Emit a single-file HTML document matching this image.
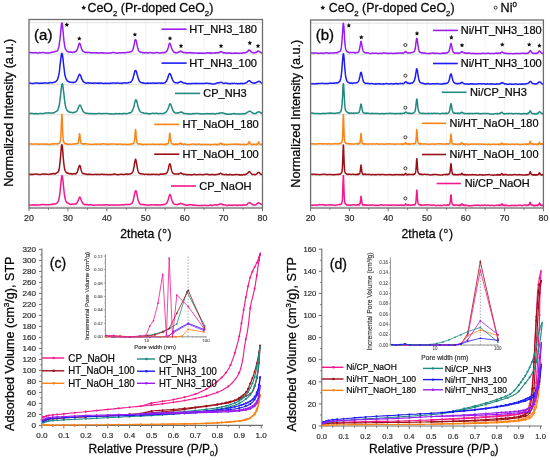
<!DOCTYPE html>
<html><head><meta charset="utf-8"><style>
html,body{margin:0;padding:0;background:#fff;overflow:hidden;}
svg{display:block;font-family:"Liberation Sans", sans-serif;filter:blur(0.3px);}
</style></head><body>
<svg width="550" height="460" viewBox="0 0 550 460">
<rect width="550" height="460" fill="#fff"/>
<line x1="48.46" y1="19.5" x2="48.46" y2="208" stroke="#f0f0f0" stroke-width="0.8"/>
<line x1="67.92" y1="19.5" x2="67.92" y2="208" stroke="#f0f0f0" stroke-width="0.8"/>
<line x1="87.38" y1="19.5" x2="87.38" y2="208" stroke="#f0f0f0" stroke-width="0.8"/>
<line x1="106.83" y1="19.5" x2="106.83" y2="208" stroke="#f0f0f0" stroke-width="0.8"/>
<line x1="126.29" y1="19.5" x2="126.29" y2="208" stroke="#f0f0f0" stroke-width="0.8"/>
<line x1="145.75" y1="19.5" x2="145.75" y2="208" stroke="#f0f0f0" stroke-width="0.8"/>
<line x1="165.21" y1="19.5" x2="165.21" y2="208" stroke="#f0f0f0" stroke-width="0.8"/>
<line x1="184.67" y1="19.5" x2="184.67" y2="208" stroke="#f0f0f0" stroke-width="0.8"/>
<line x1="204.12" y1="19.5" x2="204.12" y2="208" stroke="#f0f0f0" stroke-width="0.8"/>
<line x1="223.58" y1="19.5" x2="223.58" y2="208" stroke="#f0f0f0" stroke-width="0.8"/>
<line x1="243.04" y1="19.5" x2="243.04" y2="208" stroke="#f0f0f0" stroke-width="0.8"/>
<line x1="29" y1="54.00" x2="262.5" y2="54.00" stroke="#dcdcdc" stroke-width="0.9"/>
<line x1="29" y1="84.50" x2="262.5" y2="84.50" stroke="#dcdcdc" stroke-width="0.9"/>
<line x1="29" y1="114.80" x2="262.5" y2="114.80" stroke="#dcdcdc" stroke-width="0.9"/>
<line x1="29" y1="145.30" x2="262.5" y2="145.30" stroke="#dcdcdc" stroke-width="0.9"/>
<line x1="29" y1="175.60" x2="262.5" y2="175.60" stroke="#dcdcdc" stroke-width="0.9"/>
<line x1="29" y1="206.10" x2="262.5" y2="206.10" stroke="#dcdcdc" stroke-width="0.9"/>
<line x1="29" y1="22.7" x2="262.5" y2="22.7" stroke="#dcdcdc" stroke-width="0.9"/>
<polyline points="29.0,52.8 29.8,52.7 30.6,52.5 31.3,52.6 32.1,52.7 32.9,52.7 33.7,52.8 34.4,52.8 35.2,52.7 36.0,52.6 36.8,52.8 37.6,52.9 38.3,53.0 39.1,52.7 39.9,52.6 40.7,52.9 41.5,52.6 42.2,52.4 43.0,52.4 43.8,52.4 44.6,52.7 45.3,52.9 46.1,52.7 46.9,52.9 47.7,52.9 48.5,52.9 49.2,52.9 50.0,52.7 50.8,52.6 51.2,52.3 51.7,52.3 52.1,52.2 52.5,52.2 53.0,52.1 53.4,52.1 53.9,52.1 54.3,51.8 54.7,51.5 55.2,51.4 55.6,51.3 56.0,51.3 56.5,51.3 56.9,51.1 57.4,50.8 57.8,50.0 58.2,49.1 58.7,47.6 59.1,45.7 59.5,42.7 60.0,38.9 60.4,34.8 60.9,30.0 61.3,25.4 61.7,22.9 62.2,23.2 62.6,26.7 63.1,31.6 63.5,36.3 63.9,40.4 64.4,44.0 64.8,46.7 65.2,48.4 65.7,49.3 66.1,49.9 66.6,50.7 67.0,51.2 67.4,51.5 67.9,51.8 68.3,51.7 68.7,51.9 69.2,51.9 69.6,52.0 70.1,52.2 70.5,52.0 70.9,52.2 71.4,52.1 71.8,52.3 72.2,52.3 72.7,52.4 73.1,52.4 73.6,52.0 74.0,51.9 74.4,52.0 74.9,51.7 75.3,51.8 75.7,51.6 76.2,51.1 76.6,50.5 77.1,50.0 77.5,48.7 77.9,47.5 78.4,46.1 78.8,44.4 79.3,43.4 79.7,43.2 80.1,44.0 80.6,45.5 81.0,46.9 81.4,48.4 81.9,49.5 82.3,50.5 82.8,51.1 83.2,51.4 83.6,51.7 84.1,51.9 84.5,51.9 84.9,52.3 85.4,52.5 85.8,52.3 86.3,52.2 86.7,52.5 87.1,52.7 87.6,52.5 88.0,52.4 88.4,52.6 88.9,52.4 89.3,52.3 89.8,52.4 90.2,52.6 90.6,52.8 91.1,53.0 91.5,52.7 92.3,52.8 93.1,52.7 93.8,52.9 94.6,52.7 95.4,52.7 96.2,52.8 97.0,53.0 97.7,52.8 98.5,53.0 99.3,53.1 100.1,53.0 100.8,52.7 101.6,52.7 102.4,52.9 103.2,52.7 104.0,52.9 104.7,53.1 105.5,53.1 106.3,53.0 107.1,53.2 107.9,53.2 108.6,53.1 109.4,53.0 110.2,53.1 111.0,53.1 111.7,52.8 112.5,52.6 113.3,52.6 114.1,52.6 114.9,52.7 115.6,52.9 116.4,53.1 117.2,53.2 118.0,52.9 118.8,52.8 119.5,52.6 120.3,52.9 121.1,52.8 121.9,52.8 122.6,52.7 123.4,52.8 124.2,52.5 124.6,52.8 125.1,52.8 125.5,52.6 126.0,52.4 126.4,52.4 126.8,52.4 127.3,52.3 127.7,52.2 128.1,52.4 128.6,52.3 129.0,52.2 129.5,52.0 129.9,52.1 130.3,51.9 130.8,51.7 131.2,51.6 131.6,51.3 132.1,51.0 132.5,50.3 133.0,49.3 133.4,48.1 133.8,46.2 134.3,43.8 134.7,41.6 135.1,40.0 135.6,39.5 136.0,40.2 136.5,42.1 136.9,44.3 137.3,46.2 137.8,48.3 138.2,49.5 138.6,50.7 139.1,51.2 139.5,51.6 140.0,52.0 140.4,52.1 140.8,52.2 141.3,52.3 141.7,52.2 142.2,52.5 142.6,52.8 143.0,52.8 143.5,52.7 143.9,52.8 144.3,52.9 144.8,52.7 145.2,52.6 145.7,52.7 146.1,52.6 146.5,52.7 147.0,52.7 147.4,52.9 148.2,52.9 149.0,52.7 149.7,52.6 150.5,52.5 151.3,52.7 152.1,52.7 152.9,52.9 153.6,53.0 154.4,53.0 155.2,52.8 156.0,52.6 156.7,52.6 157.5,52.5 158.3,52.7 158.7,52.9 159.2,52.9 159.6,53.0 160.1,53.0 160.5,53.0 160.9,52.8 161.4,52.8 161.8,52.8 162.2,52.6 162.7,52.4 163.1,52.5 163.6,52.7 164.0,52.8 164.4,52.4 164.9,52.6 165.3,52.2 165.7,52.0 166.2,51.8 166.6,51.2 167.1,50.8 167.5,49.9 167.9,48.6 168.4,47.2 168.8,45.3 169.2,44.0 169.7,43.3 170.1,43.7 170.6,44.6 171.0,46.1 171.4,47.6 171.9,48.9 172.3,49.9 172.7,50.6 173.2,51.2 173.6,51.8 174.1,52.1 174.5,52.4 174.9,52.7 175.4,52.7 175.8,52.5 176.3,52.7 176.7,52.8 177.1,52.7 177.6,52.5 178.0,52.4 178.4,52.2 178.9,52.0 179.3,51.9 179.8,51.5 180.2,51.2 180.6,51.4 181.1,51.3 181.5,51.4 181.9,52.0 182.4,52.2 182.8,52.3 183.3,52.3 183.7,52.6 184.1,52.7 184.6,52.6 185.0,52.6 185.4,52.5 185.9,52.7 186.3,52.7 186.8,53.0 187.2,52.8 187.6,52.7 188.1,52.8 188.5,52.7 188.9,53.0 189.4,52.8 189.8,52.6 190.3,52.6 190.7,52.7 191.1,52.7 191.6,52.9 192.0,52.8 192.4,52.7 193.2,52.9 194.0,53.2 194.8,53.1 195.6,53.1 196.3,52.9 197.1,53.0 197.9,53.2 198.7,53.0 199.5,53.2 200.2,53.0 201.0,53.2 201.8,53.2 202.6,53.0 203.3,53.2 204.1,53.3 204.9,53.2 205.7,53.0 206.5,52.9 207.2,52.9 208.0,52.7 208.8,52.9 209.6,52.7 210.0,53.1 210.4,53.2 210.9,53.1 211.3,53.2 211.8,53.0 212.2,53.0 212.6,53.0 213.1,52.9 213.5,52.9 214.0,53.1 214.4,53.1 214.8,52.9 215.3,52.8 215.7,53.0 216.1,52.8 216.6,52.7 217.0,52.7 217.5,52.7 217.9,52.9 218.3,52.7 218.8,52.6 219.2,52.4 219.6,52.4 220.1,51.9 220.5,51.8 221.0,51.8 221.4,51.8 221.8,52.0 222.3,52.2 222.7,52.4 223.1,52.8 223.6,52.9 224.0,53.0 224.5,52.8 224.9,52.7 225.3,52.9 225.8,53.0 226.2,53.2 226.6,53.2 227.1,53.0 227.5,52.8 228.0,52.9 228.4,53.1 228.8,53.2 229.3,53.1 229.7,52.9 230.2,53.2 230.6,53.0 231.0,53.3 231.5,53.3 231.9,53.4 232.3,53.2 232.8,53.2 233.6,53.3 234.3,53.1 235.1,53.3 235.9,53.1 236.7,53.3 237.4,53.2 238.2,53.3 238.7,53.3 239.1,53.2 239.5,53.2 240.0,53.2 240.4,53.2 240.9,53.1 241.3,53.3 241.7,53.3 242.2,53.1 242.6,53.0 243.0,53.0 243.5,52.8 243.9,52.8 244.4,52.7 244.8,52.9 245.2,52.7 245.7,52.5 246.1,52.3 246.5,52.3 247.0,52.1 247.4,51.5 247.9,51.3 248.3,50.6 248.7,50.0 249.2,50.1 249.6,50.3 250.0,50.5 250.5,51.1 250.9,51.8 251.4,51.9 251.8,52.3 252.2,52.4 252.7,52.7 253.1,52.8 253.5,52.8 254.0,53.0 254.4,53.1 254.9,52.8 255.3,52.5 255.7,52.2 256.2,52.4 256.6,52.1 257.1,51.7 257.5,51.4 257.9,51.0 258.4,50.9 258.8,51.1 259.2,51.4 259.7,51.8 260.1,52.0 260.6,52.3 261.0,52.5 261.4,52.8 261.9,53.1 262.3,53.2" fill="none" stroke="#9a1df2" stroke-width="1.5" stroke-linejoin="round"/>
<polyline points="29.0,83.2 29.8,83.1 30.6,83.1 31.3,83.3 32.1,83.5 32.9,83.4 33.7,83.4 34.4,83.2 35.2,83.1 36.0,83.1 36.8,83.1 37.6,83.0 38.3,83.3 39.1,83.2 39.9,83.4 40.7,83.1 41.5,83.3 42.2,83.1 43.0,83.3 43.8,83.1 44.6,83.1 45.3,83.1 46.1,82.9 46.9,83.1 47.7,83.2 48.5,82.9 49.0,82.8 49.5,83.0 50.1,82.7 50.6,82.4 51.1,82.7 51.7,82.7 52.2,82.7 52.7,82.7 53.3,82.4 53.8,82.4 54.3,82.1 54.9,82.1 55.4,81.9 55.9,81.4 56.5,81.0 57.0,80.3 57.6,79.3 58.1,77.8 58.6,75.7 59.2,72.9 59.7,68.7 60.2,63.8 60.8,58.8 61.3,54.8 61.8,53.2 62.4,54.6 62.9,58.2 63.4,63.0 64.0,68.0 64.5,72.1 65.0,75.3 65.6,77.5 66.1,78.9 66.7,80.0 67.2,80.9 67.7,81.1 68.3,81.5 68.8,81.7 69.3,82.0 69.9,82.1 70.4,82.3 70.9,82.2 71.5,82.4 72.0,82.4 72.5,82.5 73.1,82.3 73.6,82.5 74.1,82.4 74.7,82.3 75.2,81.9 75.7,81.7 76.3,81.0 76.8,80.3 77.4,79.2 77.9,77.8 78.4,76.1 79.0,75.0 79.5,74.2 80.0,74.8 80.6,75.6 81.1,77.1 81.6,78.7 82.2,79.8 82.7,80.5 83.2,81.6 83.8,82.1 84.3,82.2 84.8,82.6 85.4,82.8 85.9,83.1 86.5,83.2 87.0,83.1 87.5,82.8 88.1,82.7 88.6,82.8 89.1,83.2 89.7,83.2 90.2,83.1 90.7,82.9 91.3,83.0 91.8,83.2 92.3,83.2 92.9,83.2 93.4,83.1 93.9,83.3 94.7,83.1 95.5,82.9 96.3,83.2 97.1,83.3 97.8,83.1 98.6,83.3 99.4,83.1 100.2,83.2 100.9,83.1 101.7,83.1 102.5,83.3 103.3,83.4 104.1,83.5 104.8,83.3 105.6,83.2 106.4,83.4 107.2,83.2 108.0,83.3 108.7,83.4 109.5,83.4 110.3,83.1 111.1,83.2 111.8,83.2 112.6,83.0 113.4,82.9 114.2,83.0 115.0,83.1 115.7,83.2 116.5,83.0 117.3,83.0 118.1,83.1 118.8,83.2 119.6,83.3 120.4,83.2 121.2,83.2 122.0,83.4 122.5,83.2 123.0,83.0 123.6,82.9 124.1,82.8 124.6,82.7 125.2,82.9 125.7,82.8 126.2,82.9 126.8,83.1 127.3,83.1 127.8,83.1 128.4,82.7 128.9,82.6 129.5,82.5 130.0,82.3 130.5,82.3 131.1,81.8 131.6,81.1 132.1,80.3 132.7,79.2 133.2,77.6 133.7,75.6 134.3,73.2 134.8,71.4 135.3,70.4 135.9,70.5 136.4,71.7 136.9,73.6 137.5,75.7 138.0,77.5 138.6,79.3 139.1,80.7 139.6,81.4 140.2,82.0 140.7,82.4 141.2,82.5 141.8,82.7 142.3,82.9 142.8,83.0 143.4,82.8 143.9,83.2 144.4,83.2 145.0,83.3 145.5,83.4 146.0,83.3 146.6,83.4 147.1,83.1 147.6,83.2 148.2,83.1 148.7,83.3 149.3,83.3 149.8,83.3 150.6,83.1 151.3,83.3 152.1,83.3 152.9,83.1 153.7,83.0 154.5,83.3 155.2,83.3 156.0,83.1 156.5,83.2 157.1,83.2 157.6,83.1 158.2,82.9 158.7,83.0 159.2,83.0 159.8,83.1 160.3,83.0 160.8,83.2 161.4,83.1 161.9,83.1 162.4,83.2 163.0,83.2 163.5,83.2 164.0,82.9 164.6,82.8 165.1,82.7 165.6,82.0 166.2,81.6 166.7,80.5 167.3,79.4 167.8,78.1 168.3,76.3 168.9,74.6 169.4,73.7 169.9,73.6 170.5,74.2 171.0,75.5 171.5,77.1 172.1,78.6 172.6,80.0 173.1,80.9 173.7,81.7 174.2,82.2 174.7,82.5 175.3,82.7 175.8,82.8 176.3,82.7 176.9,82.9 177.4,82.9 178.0,82.9 178.5,82.4 179.0,82.2 179.6,82.3 180.1,81.8 180.6,81.6 181.2,81.6 181.7,82.0 182.2,82.2 182.8,82.6 183.3,83.0 183.8,82.9 184.4,82.9 184.9,83.2 185.4,83.1 186.0,83.4 186.5,83.5 187.1,83.7 187.6,83.8 188.1,83.8 188.7,83.5 189.2,83.6 189.7,83.7 190.3,83.8 190.8,83.7 191.3,83.5 191.9,83.4 192.4,83.6 192.9,83.5 193.5,83.5 194.0,83.5 194.5,83.5 195.1,83.4 195.9,83.3 196.6,83.4 197.4,83.4 198.2,83.5 199.0,83.4 199.7,83.5 200.5,83.6 201.3,83.5 202.1,83.4 202.9,83.6 203.6,83.4 204.4,83.4 205.2,83.3 206.0,83.3 206.8,83.2 207.5,83.2 208.1,83.4 208.6,83.5 209.1,83.5 209.7,83.4 210.2,83.3 210.7,83.6 211.3,83.8 211.8,83.9 212.3,83.9 212.9,84.0 213.4,84.0 214.0,83.9 214.5,83.9 215.0,83.7 215.6,83.5 216.1,83.3 216.6,83.1 217.2,83.0 217.7,82.8 218.2,83.1 218.8,83.0 219.3,82.6 219.8,82.4 220.4,82.4 220.9,82.2 221.4,82.4 222.0,82.5 222.5,82.8 223.0,83.1 223.6,83.4 224.1,83.4 224.7,83.2 225.2,83.1 225.7,83.1 226.3,83.1 226.8,83.3 227.3,83.5 227.9,83.3 228.4,83.4 228.9,83.4 229.5,83.7 230.0,83.8 230.5,83.7 231.1,83.5 231.6,83.4 232.1,83.3 232.7,83.5 233.2,83.6 233.8,83.4 234.3,83.2 234.8,83.4 235.4,83.6 235.9,83.5 236.4,83.5 237.0,83.6 237.5,83.7 238.0,83.7 238.6,83.6 239.1,83.8 239.6,83.6 240.2,83.4 240.7,83.3 241.2,83.5 241.8,83.5 242.3,83.7 242.8,83.5 243.4,83.4 243.9,83.5 244.5,83.4 245.0,83.2 245.5,83.0 246.1,82.9 246.6,82.6 247.1,82.3 247.7,81.5 248.2,81.1 248.7,80.8 249.3,80.6 249.8,80.9 250.3,81.3 250.9,81.8 251.4,82.3 251.9,82.6 252.5,82.9 253.0,82.8 253.5,83.1 254.1,83.2 254.6,83.0 255.2,83.0 255.7,82.8 256.2,82.5 256.8,82.4 257.3,81.9 257.8,81.7 258.4,81.6 258.9,81.3 259.4,81.3 260.0,81.7 260.5,82.3 261.0,82.7 261.6,83.1 262.1,83.1" fill="none" stroke="#1c1cf5" stroke-width="1.5" stroke-linejoin="round"/>
<polyline points="29.0,113.6 29.8,113.5 30.6,113.4 31.3,113.3 32.1,113.5 32.9,113.6 33.7,113.8 34.4,113.8 35.2,113.5 36.0,113.7 36.8,113.6 37.6,113.7 38.3,113.7 39.1,113.6 39.9,113.4 40.7,113.4 41.5,113.6 42.2,113.6 43.0,113.7 43.8,113.4 44.6,113.2 45.3,113.1 46.1,113.0 46.9,113.0 47.7,112.9 48.5,112.8 49.0,113.1 49.5,112.9 50.1,113.0 50.6,112.9 51.1,112.9 51.7,112.9 52.2,112.9 52.7,112.9 53.3,112.8 53.8,112.9 54.3,112.5 54.9,112.2 55.4,111.8 55.9,111.6 56.5,111.3 57.0,110.8 57.6,110.4 58.1,109.2 58.6,107.6 59.2,105.3 59.7,102.2 60.2,97.9 60.8,93.2 61.3,88.3 61.8,84.7 62.4,83.7 62.9,85.9 63.4,90.0 64.0,95.0 64.5,99.6 65.0,103.5 65.6,106.3 66.1,108.5 66.7,109.7 67.2,110.4 67.7,111.1 68.3,111.5 68.8,111.6 69.3,112.1 69.9,112.4 70.4,112.3 70.9,112.3 71.5,112.4 72.0,112.6 72.5,112.7 73.1,112.5 73.6,112.4 74.1,112.3 74.7,112.4 75.2,112.1 75.7,112.0 76.3,111.5 76.8,111.1 77.4,110.0 77.9,108.9 78.4,107.5 79.0,106.4 79.5,105.3 80.0,105.0 80.6,105.5 81.1,106.7 81.6,108.0 82.2,109.4 82.7,110.6 83.2,111.6 83.8,112.0 84.3,112.6 84.8,112.9 85.4,113.2 85.9,113.1 86.5,113.2 87.0,113.2 87.5,113.4 88.1,113.4 88.6,113.5 89.1,113.6 89.7,113.8 90.2,113.4 90.7,113.6 91.3,113.6 91.8,113.7 92.3,113.6 92.9,113.7 93.4,113.7 93.9,113.7 94.5,113.5 95.3,113.7 96.0,113.7 96.8,113.7 97.6,113.4 98.4,113.5 99.1,113.5 99.9,113.5 100.7,113.6 101.5,113.8 102.3,113.7 103.0,113.5 103.8,113.4 104.6,113.6 105.4,113.5 106.2,113.4 106.9,113.6 107.7,113.6 108.5,113.7 109.3,113.8 110.0,113.8 110.8,113.9 111.6,113.8 112.4,114.0 113.2,113.9 113.9,114.0 114.7,113.7 115.5,113.6 116.3,113.8 117.0,113.6 117.8,113.8 118.6,113.7 119.4,113.6 120.2,113.7 120.9,113.7 121.7,113.7 122.5,113.8 123.0,113.5 123.6,113.7 124.1,113.4 124.6,113.6 125.2,113.6 125.7,113.5 126.2,113.7 126.8,113.7 127.3,113.6 127.8,113.4 128.4,113.1 128.9,112.8 129.5,113.0 130.0,112.8 130.5,112.8 131.1,112.3 131.6,111.9 132.1,111.0 132.7,110.0 133.2,108.8 133.7,107.2 134.3,105.0 134.8,102.4 135.3,100.6 135.9,99.7 136.4,100.2 136.9,102.0 137.5,104.1 138.0,106.5 138.6,108.3 139.1,109.7 139.6,110.7 140.2,111.5 140.7,111.9 141.2,112.4 141.8,112.6 142.3,112.8 142.8,112.8 143.4,112.8 143.9,113.2 144.4,113.4 145.0,113.4 145.5,113.3 146.0,113.3 146.6,113.5 147.1,113.3 147.6,113.5 148.2,113.7 148.7,113.8 149.3,114.0 149.8,113.7 150.3,113.8 151.1,113.6 151.9,113.4 152.7,113.3 153.4,113.2 154.2,113.4 155.0,113.4 155.8,113.3 156.5,113.3 157.1,113.5 157.6,113.4 158.2,113.7 158.7,113.7 159.2,113.4 159.8,113.4 160.3,113.6 160.8,113.4 161.4,113.4 161.9,113.6 162.4,113.7 163.0,113.6 163.5,113.5 164.0,113.1 164.6,113.1 165.1,112.7 165.6,112.3 166.2,112.0 166.7,111.2 167.3,110.3 167.8,109.3 168.3,108.0 168.9,106.4 169.4,104.7 169.9,103.8 170.5,104.0 171.0,105.0 171.5,106.5 172.1,108.2 172.6,109.6 173.1,110.9 173.7,111.5 174.2,112.3 174.7,112.8 175.3,112.9 175.8,113.1 176.3,113.0 176.9,113.0 177.4,113.0 178.0,112.8 178.5,112.9 179.0,112.6 179.6,112.4 180.1,112.3 180.6,111.9 181.2,112.2 181.7,112.1 182.2,112.6 182.8,112.6 183.3,113.1 183.8,113.5 184.4,113.5 184.9,113.4 185.4,113.6 186.0,113.6 186.5,113.6 187.1,113.8 187.6,113.7 188.1,114.0 188.7,113.9 189.2,113.7 189.7,113.8 190.3,113.9 190.8,114.1 191.3,113.9 191.9,113.9 192.4,113.6 192.9,113.6 193.5,113.9 194.0,113.6 194.5,113.5 195.1,113.5 195.6,113.4 196.4,113.5 197.2,113.5 197.9,113.6 198.7,113.6 199.5,113.8 200.3,114.0 201.1,113.8 201.8,113.8 202.6,114.0 203.4,113.9 204.2,113.8 205.0,113.8 205.7,113.7 206.5,113.6 207.3,113.7 207.8,113.6 208.4,113.7 208.9,113.7 209.4,113.8 210.0,113.6 210.5,113.7 211.0,113.6 211.6,113.8 212.1,113.7 212.6,113.6 213.2,113.6 213.7,113.7 214.2,114.0 214.8,113.9 215.3,113.9 215.8,113.7 216.4,113.6 216.9,113.4 217.5,113.5 218.0,113.5 218.5,113.4 219.1,113.1 219.6,113.2 220.1,113.0 220.7,113.0 221.2,112.9 221.7,112.9 222.3,112.7 222.8,113.1 223.3,113.1 223.9,113.4 224.4,113.7 224.9,113.5 225.5,113.8 226.0,114.0 226.6,114.1 227.1,114.2 227.6,114.1 228.2,114.2 228.7,114.2 229.2,114.3 229.8,114.0 230.3,114.2 230.8,114.2 231.4,114.0 231.9,113.8 232.4,113.7 233.0,113.7 233.5,113.7 234.0,113.6 234.6,113.5 235.1,113.8 235.6,114.1 236.2,113.9 236.7,113.9 237.3,113.9 237.8,113.7 238.3,113.9 238.9,113.8 239.4,113.9 239.9,113.9 240.5,114.0 241.0,114.0 241.5,113.9 242.1,113.8 242.6,113.6 243.1,113.8 243.7,113.6 244.2,113.8 244.7,113.6 245.3,113.7 245.8,113.3 246.3,112.9 246.9,112.8 247.4,112.3 248.0,112.1 248.5,111.7 249.0,111.4 249.6,111.1 250.1,111.3 250.6,111.4 251.2,111.8 251.7,112.3 252.2,112.6 252.8,113.1 253.3,113.3 253.8,113.5 254.4,113.7 254.9,113.4 255.4,113.5 256.0,113.4 256.5,112.9 257.1,112.4 257.6,112.2 258.1,111.9 258.7,111.8 259.2,112.0 259.7,112.0 260.3,112.4 260.8,112.9 261.3,112.9 261.9,113.4 262.4,113.6" fill="none" stroke="#1f8a80" stroke-width="1.5" stroke-linejoin="round"/>
<polyline points="29.0,144.3 29.8,144.1 30.6,144.0 31.3,143.8 32.1,144.1 32.9,144.2 33.7,144.0 34.4,144.0 35.2,144.1 36.0,144.0 36.8,144.1 37.6,144.0 38.3,144.2 39.1,144.3 39.9,144.0 40.7,144.1 41.5,144.2 42.2,144.0 43.0,144.0 43.8,144.2 44.6,144.1 45.3,144.0 46.1,144.2 46.9,144.1 47.7,144.3 48.5,144.3 49.2,144.4 50.0,144.4 50.8,144.0 51.6,144.1 52.3,143.8 53.1,143.9 53.9,143.9 54.7,143.7 55.5,143.7 56.2,143.9 57.0,143.8 57.2,143.7 57.4,143.9 57.5,144.0 57.7,143.7 57.9,143.6 58.1,143.7 58.2,143.7 58.4,143.7 58.6,143.4 58.8,143.3 58.9,143.4 59.1,143.1 59.3,143.2 59.5,143.1 59.6,143.0 59.8,142.5 60.0,142.3 60.2,141.7 60.3,141.1 60.5,139.9 60.7,138.1 60.9,135.6 61.0,132.3 61.2,128.2 61.4,123.4 61.6,118.6 61.7,115.3 61.9,114.3 62.1,116.6 62.3,120.6 62.4,125.3 62.6,130.2 62.8,134.1 63.0,136.8 63.1,138.8 63.3,140.5 63.5,141.2 63.7,141.6 63.8,142.2 64.0,142.6 64.2,142.7 64.4,142.7 64.6,143.1 64.7,143.3 64.9,143.5 65.1,143.4 65.3,143.5 65.4,143.7 65.6,143.7 65.8,143.9 66.0,143.9 66.1,143.6 66.3,143.7 66.5,143.8 66.7,143.6 66.8,143.8 67.0,143.9 67.2,144.1 67.4,144.2 68.1,144.3 68.9,144.3 69.7,144.0 70.5,144.2 71.2,144.2 72.0,144.1 72.8,143.9 73.6,144.0 74.4,143.9 74.5,144.0 74.7,144.0 74.9,143.9 75.1,143.7 75.2,143.7 75.4,143.8 75.6,143.7 75.8,143.9 75.9,143.9 76.1,143.7 76.3,143.7 76.5,143.6 76.6,143.8 76.8,143.6 77.0,143.6 77.2,143.7 77.3,143.4 77.5,143.4 77.7,143.4 77.9,143.4 78.0,143.3 78.2,143.0 78.4,142.2 78.6,141.5 78.7,140.4 78.9,138.9 79.1,137.2 79.3,135.5 79.4,134.0 79.6,133.7 79.8,134.4 80.0,135.8 80.1,137.7 80.3,139.4 80.5,140.8 80.7,141.6 80.8,142.5 81.0,142.8 81.2,143.3 81.4,143.4 81.5,143.4 81.7,143.6 81.9,143.5 82.1,143.6 82.2,143.7 82.4,144.0 82.6,144.0 82.8,144.1 82.9,144.1 83.1,143.8 83.3,143.7 83.5,144.0 83.6,144.0 83.8,143.8 84.0,143.9 84.2,144.1 84.3,143.9 84.5,144.0 84.7,143.8 84.9,143.7 85.0,143.7 85.8,143.7 86.6,144.1 87.4,144.0 88.2,144.1 88.9,144.3 89.7,144.3 90.5,144.2 91.3,144.4 92.0,144.4 92.8,144.2 93.6,144.2 94.4,144.2 95.2,144.3 95.9,144.0 96.7,144.2 97.5,144.1 98.3,144.1 99.1,144.4 99.8,144.1 100.6,144.3 101.4,144.0 102.2,143.9 102.9,143.8 103.7,143.8 104.5,144.0 105.3,144.1 106.1,144.2 106.8,144.0 107.6,144.3 108.4,144.5 109.2,144.1 109.9,144.0 110.7,144.0 111.5,143.9 112.3,144.0 113.1,143.9 113.8,144.1 114.6,143.9 115.4,144.3 116.2,144.3 117.0,144.2 117.7,144.1 118.5,144.2 119.3,144.1 120.1,143.9 120.8,144.1 121.6,144.3 122.4,144.5 123.2,144.2 124.0,144.2 124.7,144.3 125.5,144.2 126.3,144.4 127.1,144.5 127.8,144.5 128.6,144.5 129.4,144.2 130.2,144.3 130.4,144.4 130.5,144.1 130.7,144.1 130.9,144.3 131.1,144.1 131.2,144.0 131.4,143.9 131.6,143.8 131.8,143.9 131.9,144.1 132.1,143.9 132.3,143.8 132.5,143.7 132.6,143.9 132.8,143.9 133.0,143.7 133.2,143.7 133.3,143.5 133.5,143.4 133.7,143.1 133.9,143.0 134.0,142.6 134.2,141.9 134.4,141.2 134.6,140.1 134.7,138.3 134.9,136.4 135.1,133.8 135.3,131.6 135.4,129.8 135.6,129.6 135.8,131.0 136.0,133.1 136.1,135.4 136.3,137.6 136.5,139.4 136.7,140.8 136.8,141.6 137.0,142.5 137.2,142.7 137.4,143.3 137.5,143.4 137.7,143.8 137.9,143.9 138.1,143.9 138.2,143.7 138.4,143.9 138.6,143.9 138.8,144.0 138.9,143.9 139.1,144.0 139.3,144.1 139.5,143.9 139.6,144.0 139.8,144.1 140.0,143.9 140.2,143.8 140.3,144.0 140.5,144.3 140.7,144.3 140.9,144.1 141.0,144.3 141.8,144.4 142.6,144.2 143.4,144.4 144.2,144.2 144.9,144.3 145.7,144.4 146.5,144.3 147.3,144.5 148.0,144.3 148.8,144.3 149.6,144.2 150.4,144.1 151.2,144.4 151.9,144.2 152.7,144.1 153.5,144.3 154.3,144.2 155.1,144.4 155.8,144.3 156.6,144.2 157.4,144.3 158.2,144.3 158.9,144.5 159.7,144.2 160.5,144.2 161.3,144.1 162.1,144.3 162.8,144.2 163.6,144.4 164.4,144.3 165.2,144.4 165.3,144.1 165.5,144.3 165.7,144.2 165.9,144.2 166.0,144.2 166.2,144.4 166.4,144.2 166.6,143.9 166.7,144.0 166.9,143.8 167.1,143.9 167.3,144.0 167.4,143.9 167.6,143.6 167.8,143.4 168.0,143.3 168.1,143.4 168.3,143.1 168.5,142.8 168.7,142.2 168.8,141.1 169.0,139.8 169.2,138.3 169.4,136.3 169.5,134.5 169.7,133.2 169.9,133.2 170.1,134.5 170.2,136.4 170.4,137.9 170.6,139.6 170.8,141.0 170.9,141.8 171.1,142.5 171.3,142.8 171.5,143.1 171.6,143.2 171.8,143.6 172.0,143.5 172.2,143.7 172.3,143.7 172.5,143.9 172.7,144.1 172.9,144.2 173.1,144.3 173.2,144.0 173.4,144.3 173.6,144.3 173.8,144.2 173.9,144.3 174.1,144.4 174.3,144.5 174.5,144.5 174.6,144.6 174.8,144.3 175.0,144.2 175.2,144.3 175.3,144.1 175.5,144.1 175.7,144.3 175.9,144.1 176.0,144.3 176.2,144.1 176.4,144.0 176.6,144.4 176.7,144.2 176.9,144.2 177.1,144.2 177.3,144.0 177.4,144.2 177.6,144.3 177.8,144.5 178.0,144.2 178.1,144.3 178.3,144.1 178.5,144.1 178.7,143.9 178.8,143.8 179.0,143.7 179.2,143.9 179.4,143.7 179.5,143.9 179.7,144.0 179.9,143.7 180.1,143.7 180.2,143.2 180.4,143.1 180.6,142.9 180.8,143.0 180.9,143.1 181.1,143.3 181.3,143.3 181.5,143.8 181.6,144.0 181.8,144.2 182.0,144.0 182.2,144.1 182.3,144.2 182.5,144.0 182.7,144.2 182.9,144.3 183.0,144.3 183.2,144.4 183.4,144.3 183.6,144.4 183.7,144.4 183.9,144.3 184.1,144.2 184.3,144.1 184.4,144.2 184.6,144.0 184.8,143.9 185.0,143.9 185.1,144.0 185.3,144.1 185.5,144.3 185.7,144.1 185.8,144.2 186.0,144.2 186.2,144.3 187.0,144.4 187.7,144.6 188.5,144.4 189.3,144.5 190.1,144.4 190.9,144.3 191.6,144.2 192.4,144.0 193.2,144.1 194.0,144.3 194.7,144.1 195.5,144.5 196.3,144.5 197.1,144.2 197.9,144.1 198.6,144.2 199.4,144.1 200.2,144.4 201.0,144.6 201.8,144.6 202.5,144.3 203.3,144.6 204.1,144.6 204.9,144.5 205.6,144.6 206.4,144.3 207.2,144.6 208.0,144.7 208.8,144.3 209.5,144.6 210.3,144.7 211.1,144.6 211.9,144.3 212.6,144.4 213.4,144.4 214.2,144.3 215.0,144.3 215.8,144.2 215.9,144.5 216.1,144.4 216.3,144.6 216.5,144.4 216.6,144.6 216.8,144.7 217.0,144.6 217.2,144.5 217.3,144.7 217.5,144.5 217.7,144.6 217.9,144.6 218.0,144.7 218.2,144.5 218.4,144.3 218.6,144.2 218.7,144.3 218.9,144.4 219.1,144.2 219.3,144.0 219.4,143.9 219.6,144.0 219.8,143.8 220.0,143.7 220.1,143.5 220.3,143.4 220.5,143.1 220.7,143.1 220.8,143.1 221.0,143.2 221.2,143.6 221.4,143.6 221.5,143.9 221.7,144.2 221.9,144.1 222.1,144.2 222.2,144.3 222.4,144.1 222.6,144.0 222.8,144.2 222.9,144.2 223.1,144.5 223.3,144.5 223.5,144.3 223.6,144.3 223.8,144.1 224.0,144.5 224.2,144.7 224.3,144.8 224.5,144.8 224.7,144.5 224.9,144.3 225.0,144.2 225.2,144.2 225.4,144.4 225.6,144.4 225.7,144.6 225.9,144.6 226.1,144.7 226.3,144.4 227.0,144.4 227.8,144.5 228.6,144.3 229.4,144.4 230.2,144.3 230.9,144.2 231.7,144.3 232.5,144.3 233.3,144.3 234.1,144.2 234.8,144.0 235.6,144.2 236.4,144.1 237.2,144.3 237.9,144.2 238.7,144.1 239.5,144.2 240.3,144.5 241.1,144.3 241.8,144.4 242.6,144.5 243.4,144.3 244.2,144.5 244.3,144.4 244.5,144.5 244.7,144.3 244.9,144.5 245.0,144.7 245.2,144.6 245.4,144.5 245.6,144.4 245.7,144.5 245.9,144.5 246.1,144.6 246.3,144.5 246.4,144.6 246.6,144.5 246.8,144.3 247.0,144.2 247.1,144.3 247.3,144.3 247.5,144.4 247.7,144.3 247.8,144.0 248.0,144.1 248.2,143.8 248.4,143.2 248.5,143.0 248.7,142.6 248.9,142.0 249.1,141.8 249.2,141.7 249.4,141.7 249.6,142.0 249.8,142.6 249.9,143.2 250.1,143.5 250.3,143.6 250.5,144.0 250.6,144.0 250.8,144.1 251.0,144.3 251.2,144.4 251.4,144.2 251.5,144.5 251.7,144.4 251.9,144.4 252.1,144.6 252.2,144.5 252.4,144.6 252.6,144.6 252.8,144.7 252.9,144.6 253.1,144.4 253.3,144.2 253.5,144.1 253.6,144.3 253.8,144.2 254.0,144.4 254.2,144.3 254.3,144.4 254.5,144.3 254.7,144.4 254.9,144.2 255.0,144.3 255.2,144.2 255.4,144.4 255.6,144.3 255.7,144.5 255.9,144.5 256.1,144.5 256.3,144.4 256.4,144.3 256.6,144.4 256.8,144.1 257.0,144.4 257.1,144.3 257.3,144.3 257.5,144.3 257.7,144.1 257.8,143.5 258.0,143.4 258.2,142.8 258.4,142.4 258.5,142.0 258.7,141.9 258.9,142.5 259.1,142.6 259.2,143.2 259.4,143.7 259.6,144.0 259.8,144.0 259.9,144.1 260.1,144.1 260.3,144.4 260.5,144.4 260.6,144.5 260.8,144.2 261.0,144.3 261.2,144.2 261.3,144.3 261.5,144.6 261.7,144.7 261.9,144.7 262.0,144.5 262.2,144.6 262.4,144.6" fill="none" stroke="#fb8417" stroke-width="1.5" stroke-linejoin="round"/>
<polyline points="29.0,174.1 29.8,174.5 30.6,174.3 31.3,174.5 32.1,174.2 32.9,174.5 33.7,174.3 34.4,174.2 35.2,174.1 36.0,173.9 36.8,174.2 37.6,174.3 38.3,174.2 39.1,174.4 39.9,174.5 40.7,174.5 41.5,174.3 42.2,174.1 43.0,174.0 43.8,174.3 44.6,174.1 45.3,174.1 46.1,174.3 46.9,174.3 47.7,174.3 48.5,174.4 49.2,174.3 50.0,174.3 50.8,174.1 51.6,173.9 52.0,173.8 52.3,173.9 52.7,173.7 53.1,173.6 53.5,173.7 53.9,173.5 54.3,173.8 54.7,173.9 55.1,173.9 55.5,173.5 55.9,173.3 56.2,173.1 56.6,173.1 57.0,172.9 57.4,172.4 57.8,172.3 58.2,171.9 58.6,171.2 59.0,169.8 59.4,167.7 59.7,165.0 60.1,161.5 60.5,157.1 60.9,152.4 61.3,147.6 61.7,144.8 62.1,144.9 62.5,147.9 62.9,152.2 63.2,157.2 63.6,161.3 64.0,165.0 64.4,167.7 64.8,169.8 65.2,170.8 65.6,171.5 66.0,172.1 66.4,172.7 66.7,172.9 67.1,173.2 67.5,173.1 67.9,173.1 68.3,173.2 68.7,173.5 69.1,173.8 69.5,173.6 69.9,173.5 70.3,173.8 70.6,173.8 71.0,173.9 71.4,173.6 71.8,174.0 72.2,174.2 72.6,173.9 73.0,173.9 73.4,173.9 73.8,173.7 74.1,173.7 74.5,173.6 74.9,173.8 75.3,173.9 75.7,173.9 76.1,173.7 76.5,173.2 76.9,172.8 77.3,172.1 77.6,171.1 78.0,169.8 78.4,168.5 78.8,167.2 79.2,165.9 79.6,165.3 80.0,165.7 80.4,166.8 80.8,168.6 81.1,169.9 81.5,171.2 81.9,172.1 82.3,172.8 82.7,173.4 83.1,173.7 83.5,173.6 83.9,173.8 84.3,173.7 84.7,173.8 85.0,174.0 85.4,174.2 85.8,174.1 86.2,174.1 86.6,174.2 87.0,174.4 87.4,174.5 87.8,174.3 88.2,174.2 88.5,174.4 88.9,174.2 89.3,174.2 89.7,174.4 90.1,174.2 90.9,174.4 91.7,174.6 92.4,174.6 93.2,174.4 94.0,174.4 94.8,174.4 95.5,174.2 96.3,174.4 97.1,174.3 97.9,174.6 98.7,174.4 99.4,174.6 100.2,174.5 101.0,174.3 101.8,174.3 102.6,174.3 103.3,174.4 104.1,174.3 104.9,174.4 105.7,174.6 106.4,174.5 107.2,174.5 108.0,174.7 108.8,174.6 109.6,174.5 110.3,174.7 111.1,174.5 111.9,174.4 112.7,174.5 113.4,174.3 114.2,174.1 115.0,174.2 115.8,174.3 116.6,174.5 117.3,174.7 118.1,174.7 118.9,174.4 119.7,174.6 120.5,174.3 121.2,174.3 122.0,174.2 122.8,174.5 123.6,174.4 124.3,174.5 125.1,174.3 125.5,174.2 125.9,174.1 126.3,174.2 126.7,174.0 127.1,174.2 127.5,174.4 127.8,174.1 128.2,174.3 128.6,174.3 129.0,174.2 129.4,173.9 129.8,174.0 130.2,173.9 130.6,173.8 131.0,173.7 131.4,173.5 131.7,173.3 132.1,172.8 132.5,172.3 132.9,171.5 133.3,170.1 133.7,168.2 134.1,166.4 134.5,163.7 134.9,161.6 135.2,159.9 135.6,159.2 136.0,160.5 136.4,162.5 136.8,164.8 137.2,167.1 137.6,169.2 138.0,170.9 138.4,172.0 138.7,172.7 139.1,173.0 139.5,173.4 139.9,173.4 140.3,173.7 140.7,173.8 141.1,173.8 141.5,174.1 141.9,173.9 142.2,174.0 142.6,174.1 143.0,174.0 143.4,174.1 143.8,174.2 144.2,174.4 144.6,174.5 145.0,174.3 145.4,174.3 145.8,174.3 146.1,174.2 146.9,174.2 147.7,174.4 148.5,174.3 149.3,174.4 150.0,174.6 150.8,174.4 151.6,174.2 152.4,174.5 153.1,174.3 153.9,174.3 154.7,174.5 155.5,174.4 156.3,174.3 157.0,174.5 157.8,174.4 158.6,174.5 159.4,174.7 159.8,174.4 160.1,174.1 160.5,174.2 160.9,174.1 161.3,174.3 161.7,174.3 162.1,174.3 162.5,174.1 162.9,174.1 163.3,174.2 163.7,174.1 164.0,174.1 164.4,174.0 164.8,173.8 165.2,173.7 165.6,173.7 166.0,173.7 166.4,173.2 166.8,172.9 167.2,172.2 167.5,171.6 167.9,170.5 168.3,169.1 168.7,167.1 169.1,165.4 169.5,164.0 169.9,163.8 170.3,164.4 170.7,165.9 171.0,167.8 171.4,169.6 171.8,171.0 172.2,172.0 172.6,172.9 173.0,173.4 173.4,173.5 173.8,173.5 174.2,173.9 174.5,174.0 174.9,174.0 175.3,173.9 175.7,174.0 176.1,174.1 176.5,174.0 176.9,174.0 177.3,174.0 177.7,174.0 178.1,173.8 178.4,174.1 178.8,173.8 179.2,173.8 179.6,173.6 180.0,173.4 180.4,173.1 180.8,173.0 181.2,173.1 181.6,173.4 181.9,173.7 182.3,173.8 182.7,173.8 183.1,174.1 183.5,174.5 183.9,174.3 184.3,174.2 184.7,174.2 185.1,174.3 185.4,174.4 185.8,174.7 186.2,174.4 186.6,174.5 187.0,174.7 187.4,174.6 187.8,174.8 188.2,174.8 188.6,174.7 188.9,174.5 189.3,174.6 189.7,174.7 190.1,174.8 190.5,174.6 190.9,174.8 191.3,174.9 192.1,174.9 192.8,174.6 193.6,174.4 194.4,174.3 195.2,174.6 196.0,174.6 196.7,174.8 197.5,174.7 198.3,174.5 199.1,174.6 199.8,174.5 200.6,174.5 201.4,174.6 202.2,174.7 203.0,174.8 203.7,174.6 204.5,174.4 205.3,174.3 206.1,174.2 206.8,174.2 207.6,174.3 208.4,174.5 209.2,174.7 210.0,174.6 210.7,174.8 211.1,174.5 211.5,174.4 211.9,174.6 212.3,174.4 212.7,174.4 213.1,174.4 213.5,174.7 213.9,174.8 214.2,174.9 214.6,174.6 215.0,174.7 215.4,174.7 215.8,174.6 216.2,174.6 216.6,174.6 217.0,174.5 217.4,174.6 217.7,174.3 218.1,174.3 218.5,174.1 218.9,174.0 219.3,173.8 219.7,173.9 220.1,173.5 220.5,173.2 220.9,173.4 221.2,173.5 221.6,173.8 222.0,174.1 222.4,174.2 222.8,174.3 223.2,174.6 223.6,174.6 224.0,174.5 224.4,174.8 224.8,174.6 225.1,174.6 225.5,174.5 225.9,174.3 226.3,174.3 226.7,174.5 227.1,174.8 227.5,174.8 227.9,174.9 228.3,174.7 228.6,174.7 229.0,174.7 229.4,174.6 229.8,174.7 230.2,174.4 230.6,174.5 231.0,174.5 231.4,174.8 232.1,174.9 232.9,174.7 233.7,174.7 234.5,174.7 235.3,174.5 236.0,174.5 236.8,174.4 237.6,174.6 238.4,174.8 239.2,174.9 239.5,174.6 239.9,174.8 240.3,174.9 240.7,175.0 241.1,174.7 241.5,174.8 241.9,174.9 242.3,174.9 242.7,175.0 243.0,174.8 243.4,174.6 243.8,174.6 244.2,174.5 244.6,174.8 245.0,174.5 245.4,174.4 245.8,174.3 246.2,174.4 246.5,174.0 246.9,173.6 247.3,173.4 247.7,173.2 248.1,172.7 248.5,172.2 248.9,171.8 249.3,171.7 249.7,171.6 250.0,172.0 250.4,172.7 250.8,173.0 251.2,173.3 251.6,174.0 252.0,174.2 252.4,174.4 252.8,174.5 253.2,174.6 253.5,174.4 253.9,174.4 254.3,174.5 254.7,174.7 255.1,174.7 255.5,174.6 255.9,174.4 256.3,174.2 256.7,174.0 257.1,173.6 257.4,173.3 257.8,172.7 258.2,172.6 258.6,172.5 259.0,172.5 259.4,172.7 259.8,173.2 260.2,173.5 260.6,174.0 260.9,174.4 261.3,174.3 261.7,174.6 262.1,174.5 262.5,174.8" fill="none" stroke="#9c0f17" stroke-width="1.5" stroke-linejoin="round"/>
<polyline points="29.0,204.9 29.8,204.9 30.6,204.9 31.3,204.9 32.1,204.9 32.9,204.8 33.7,204.9 34.4,204.8 35.2,205.1 36.0,205.1 36.8,205.0 37.6,205.1 38.3,204.9 39.1,204.9 39.9,204.7 40.7,204.5 41.5,204.7 42.2,204.6 43.0,204.5 43.8,204.5 44.6,204.8 45.3,204.8 46.1,204.7 46.9,204.8 47.7,204.8 48.5,204.8 49.2,204.8 50.0,204.5 50.5,204.6 50.9,204.6 51.4,204.4 51.9,204.2 52.3,204.3 52.8,204.5 53.2,204.1 53.7,203.9 54.2,203.8 54.6,203.8 55.1,203.9 55.6,203.9 56.0,203.7 56.5,203.4 56.9,203.3 57.4,202.6 57.9,201.9 58.3,201.2 58.8,199.5 59.3,197.4 59.7,194.3 60.2,190.5 60.6,185.9 61.1,181.2 61.6,177.2 62.0,175.5 62.5,176.9 63.0,180.7 63.4,185.4 63.9,190.0 64.3,193.9 64.8,197.0 65.3,199.1 65.7,200.7 66.2,201.8 66.7,202.5 67.1,202.7 67.6,202.9 68.0,203.2 68.5,203.3 69.0,203.7 69.4,204.0 69.9,204.3 70.3,204.4 70.8,204.5 71.3,204.4 71.7,204.1 72.2,204.3 72.7,204.2 73.1,204.0 73.6,204.0 74.0,204.2 74.5,204.1 75.0,204.1 75.4,204.1 75.9,204.1 76.4,203.6 76.8,202.9 77.3,202.4 77.7,201.6 78.2,200.4 78.7,199.3 79.1,198.0 79.6,197.1 80.1,197.2 80.5,198.2 81.0,199.5 81.4,200.8 81.9,201.7 82.4,202.4 82.8,203.1 83.3,203.8 83.8,204.2 84.2,204.3 84.7,204.6 85.1,204.8 85.6,204.7 86.1,204.5 86.5,204.7 87.0,204.5 87.4,204.4 87.9,204.6 88.4,204.8 88.8,204.9 89.3,204.8 89.8,204.6 90.2,204.5 90.7,204.8 91.1,204.8 91.6,205.1 92.1,205.1 92.8,205.1 93.6,205.2 94.4,205.3 95.2,204.9 96.0,205.0 96.7,205.0 97.5,204.9 98.3,204.9 99.1,204.9 99.9,204.9 100.6,204.9 101.4,205.1 102.2,205.0 103.0,204.9 103.7,204.8 104.5,204.9 105.3,205.0 106.1,204.8 106.9,204.8 107.6,205.0 108.4,205.1 109.2,205.2 110.0,205.0 110.7,205.0 111.5,205.0 112.3,205.1 113.1,205.1 113.9,204.9 114.6,204.9 115.4,205.0 116.2,205.0 117.0,204.9 117.8,205.1 118.5,204.9 119.3,205.1 120.1,205.0 120.9,205.1 121.6,204.8 122.4,204.7 123.2,204.9 124.0,204.9 124.4,204.7 124.9,204.5 125.4,204.6 125.8,204.6 126.3,204.5 126.8,204.4 127.2,204.5 127.7,204.5 128.1,204.3 128.6,204.4 129.1,204.5 129.5,204.4 130.0,204.4 130.5,204.1 130.9,203.8 131.4,203.4 131.8,203.3 132.3,202.9 132.8,201.7 133.2,200.3 133.7,198.4 134.1,196.3 134.6,193.8 135.1,192.0 135.5,190.8 136.0,190.8 136.5,192.1 136.9,194.5 137.4,196.6 137.8,198.9 138.3,200.8 138.8,202.0 139.2,203.0 139.7,203.7 140.2,204.1 140.6,204.5 141.1,204.6 141.5,204.5 142.0,204.4 142.5,204.3 142.9,204.5 143.4,204.5 143.9,204.8 144.3,204.6 144.8,204.7 145.2,204.9 145.7,204.9 146.2,205.0 146.6,204.9 147.1,204.9 147.5,205.1 148.0,205.2 148.8,205.3 149.6,204.9 150.3,205.0 151.1,204.8 151.9,204.8 152.7,204.9 153.5,204.8 154.2,204.8 155.0,205.1 155.8,204.8 156.6,204.9 157.4,204.8 158.1,204.9 158.6,204.7 159.1,204.9 159.5,205.1 160.0,205.2 160.4,205.1 160.9,204.8 161.4,204.8 161.8,204.6 162.3,204.8 162.8,204.5 163.2,204.7 163.7,204.5 164.1,204.6 164.6,204.5 165.1,204.3 165.5,203.9 166.0,203.8 166.4,203.2 166.9,202.9 167.4,201.9 167.8,200.7 168.3,199.2 168.8,197.4 169.2,195.9 169.7,194.7 170.1,194.5 170.6,195.5 171.1,197.2 171.5,198.9 172.0,200.5 172.5,201.7 172.9,202.7 173.4,203.5 173.8,203.8 174.3,203.9 174.8,204.1 175.2,204.4 175.7,204.6 176.2,204.4 176.6,204.5 177.1,204.4 177.5,204.7 178.0,204.4 178.5,204.1 178.9,204.2 179.4,204.1 179.9,203.7 180.3,203.3 180.8,203.2 181.2,203.6 181.7,203.9 182.2,203.9 182.6,204.2 183.1,204.2 183.5,204.5 184.0,204.5 184.5,204.8 184.9,204.7 185.4,204.8 185.9,205.1 186.3,205.2 186.8,205.4 187.2,205.3 187.7,205.0 188.2,204.8 188.6,204.7 189.1,204.9 189.6,204.8 190.0,204.8 190.5,204.8 190.9,204.7 191.4,204.7 191.9,204.7 192.3,205.0 192.8,205.2 193.3,205.2 194.0,205.3 194.8,205.1 195.6,205.3 196.4,205.4 197.1,205.2 197.9,205.4 198.7,205.5 199.5,205.6 200.3,205.6 201.0,205.6 201.8,205.3 202.6,205.4 203.4,205.5 204.1,205.3 204.9,205.3 205.7,205.5 206.5,205.6 207.3,205.5 208.0,205.4 208.8,205.5 209.3,205.4 209.7,205.3 210.2,205.0 210.7,205.0 211.1,205.2 211.6,205.3 212.1,205.4 212.5,205.4 213.0,205.1 213.4,204.9 213.9,205.1 214.4,205.1 214.8,205.0 215.3,204.8 215.8,204.8 216.2,204.8 216.7,205.1 217.1,205.2 217.6,204.9 218.1,204.6 218.5,204.4 219.0,204.5 219.4,204.2 219.9,204.0 220.4,203.9 220.8,203.9 221.3,203.9 221.8,204.0 222.2,204.5 222.7,204.8 223.1,204.6 223.6,204.8 224.1,205.0 224.5,205.0 225.0,205.0 225.5,205.0 225.9,205.0 226.4,205.3 226.8,205.5 227.3,205.5 227.8,205.4 228.2,205.1 228.7,205.1 229.2,205.3 229.6,205.1 230.1,205.2 230.5,205.3 231.0,205.2 231.5,205.1 231.9,205.2 232.4,205.3 232.9,205.5 233.3,205.2 234.1,205.0 234.9,204.9 235.6,205.2 236.4,205.1 237.2,205.2 237.7,205.3 238.1,205.4 238.6,205.1 239.1,205.1 239.5,205.1 240.0,205.3 240.4,205.2 240.9,205.0 241.4,205.2 241.8,205.3 242.3,205.0 242.7,205.2 243.2,205.1 243.7,204.9 244.1,204.8 244.6,205.0 245.1,205.0 245.5,205.0 246.0,205.1 246.4,204.7 246.9,204.6 247.4,204.2 247.8,203.5 248.3,203.2 248.8,202.9 249.2,202.7 249.7,202.4 250.1,202.8 250.6,203.2 251.1,203.6 251.5,203.9 252.0,204.0 252.5,204.6 252.9,204.8 253.4,205.1 253.8,205.1 254.3,204.9 254.8,205.0 255.2,204.9 255.7,204.8 256.2,204.4 256.6,204.0 257.1,203.6 257.5,203.3 258.0,202.9 258.5,202.7 258.9,203.0 259.4,203.3 259.8,203.4 260.3,203.7 260.8,204.0 261.2,204.3 261.7,204.4 262.2,204.8" fill="none" stroke="#f5188a" stroke-width="1.5" stroke-linejoin="round"/>
<rect x="29" y="19.5" width="233.5" height="188.5" fill="none" stroke="#6e6e6e" stroke-width="1.3"/>
<line x1="29.00" y1="208" x2="29.00" y2="211.2" stroke="#6e6e6e" stroke-width="1"/>
<text x="29.00" y="220.90" font-size="8.9" fill="#2a2a2a" text-anchor="middle"  stroke="#2a2a2a" stroke-width="0.20">20</text>
<line x1="48.46" y1="208" x2="48.46" y2="209.8" stroke="#6e6e6e" stroke-width="1"/>
<line x1="67.92" y1="208" x2="67.92" y2="211.2" stroke="#6e6e6e" stroke-width="1"/>
<text x="67.92" y="220.90" font-size="8.9" fill="#2a2a2a" text-anchor="middle"  stroke="#2a2a2a" stroke-width="0.20">30</text>
<line x1="87.38" y1="208" x2="87.38" y2="209.8" stroke="#6e6e6e" stroke-width="1"/>
<line x1="106.83" y1="208" x2="106.83" y2="211.2" stroke="#6e6e6e" stroke-width="1"/>
<text x="106.83" y="220.90" font-size="8.9" fill="#2a2a2a" text-anchor="middle"  stroke="#2a2a2a" stroke-width="0.20">40</text>
<line x1="126.29" y1="208" x2="126.29" y2="209.8" stroke="#6e6e6e" stroke-width="1"/>
<line x1="145.75" y1="208" x2="145.75" y2="211.2" stroke="#6e6e6e" stroke-width="1"/>
<text x="145.75" y="220.90" font-size="8.9" fill="#2a2a2a" text-anchor="middle"  stroke="#2a2a2a" stroke-width="0.20">50</text>
<line x1="165.21" y1="208" x2="165.21" y2="209.8" stroke="#6e6e6e" stroke-width="1"/>
<line x1="184.67" y1="208" x2="184.67" y2="211.2" stroke="#6e6e6e" stroke-width="1"/>
<text x="184.67" y="220.90" font-size="8.9" fill="#2a2a2a" text-anchor="middle"  stroke="#2a2a2a" stroke-width="0.20">60</text>
<line x1="204.12" y1="208" x2="204.12" y2="209.8" stroke="#6e6e6e" stroke-width="1"/>
<line x1="223.58" y1="208" x2="223.58" y2="211.2" stroke="#6e6e6e" stroke-width="1"/>
<text x="223.58" y="220.90" font-size="8.9" fill="#2a2a2a" text-anchor="middle"  stroke="#2a2a2a" stroke-width="0.20">70</text>
<line x1="243.04" y1="208" x2="243.04" y2="209.8" stroke="#6e6e6e" stroke-width="1"/>
<line x1="262.50" y1="208" x2="262.50" y2="211.2" stroke="#6e6e6e" stroke-width="1"/>
<text x="262.50" y="220.90" font-size="8.9" fill="#2a2a2a" text-anchor="middle"  stroke="#2a2a2a" stroke-width="0.20">80</text>
<line x1="161.5" y1="29.2" x2="186.6" y2="29.2" stroke="#9a1df2" stroke-width="1.6"/>
<text x="189.30" y="32.80" font-size="10.2" fill="#080808" text-anchor="start" textLength="67.7" lengthAdjust="spacingAndGlyphs" stroke="#080808" stroke-width="0.22">HT_NH3_180</text>
<line x1="161.5" y1="63.1" x2="186.6" y2="63.1" stroke="#1c1cf5" stroke-width="1.6"/>
<text x="189.30" y="66.70" font-size="10.2" fill="#080808" text-anchor="start" textLength="67.7" lengthAdjust="spacingAndGlyphs" stroke="#080808" stroke-width="0.22">HT_NH3_100</text>
<line x1="175.0" y1="93.4" x2="200.2" y2="93.4" stroke="#1f8a80" stroke-width="1.6"/>
<text x="203.30" y="97.00" font-size="10.2" fill="#080808" text-anchor="start" textLength="43.4" lengthAdjust="spacingAndGlyphs" stroke="#080808" stroke-width="0.22">CP_NH3</text>
<line x1="154.2" y1="124.4" x2="179.3" y2="124.4" stroke="#fb8417" stroke-width="1.6"/>
<text x="182.40" y="128.00" font-size="10.2" fill="#080808" text-anchor="start" textLength="76.4" lengthAdjust="spacingAndGlyphs" stroke="#080808" stroke-width="0.22">HT_NaOH_180</text>
<line x1="154.2" y1="154.2" x2="179.3" y2="154.2" stroke="#9c0f17" stroke-width="1.6"/>
<text x="182.40" y="157.80" font-size="10.2" fill="#080808" text-anchor="start" textLength="76.4" lengthAdjust="spacingAndGlyphs" stroke="#080808" stroke-width="0.22">HT_NaOH_100</text>
<line x1="171.0" y1="186.0" x2="196.0" y2="186.0" stroke="#f5188a" stroke-width="1.6"/>
<text x="199.20" y="189.60" font-size="10.2" fill="#080808" text-anchor="start" textLength="52.3" lengthAdjust="spacingAndGlyphs" stroke="#080808" stroke-width="0.22">CP_NaOH</text>
<polygon points="66.80,22.40 67.48,23.87 69.08,24.06 67.90,25.16 68.21,26.74 66.80,25.95 65.39,26.74 65.70,25.16 64.52,24.06 66.12,23.87" fill="#111"/>
<polygon points="79.30,36.20 79.98,37.67 81.58,37.86 80.40,38.96 80.71,40.54 79.30,39.75 77.89,40.54 78.20,38.96 77.02,37.86 78.62,37.67" fill="#111"/>
<polygon points="134.90,32.20 135.58,33.67 137.18,33.86 136.00,34.96 136.31,36.54 134.90,35.75 133.49,36.54 133.80,34.96 132.62,33.86 134.22,33.67" fill="#111"/>
<polygon points="170.00,36.00 170.68,37.47 172.28,37.66 171.10,38.76 171.41,40.34 170.00,39.55 168.59,40.34 168.90,38.76 167.72,37.66 169.32,37.47" fill="#111"/>
<polygon points="181.00,43.60 181.68,45.07 183.28,45.26 182.10,46.36 182.41,47.94 181.00,47.15 179.59,47.94 179.90,46.36 178.72,45.26 180.32,45.07" fill="#111"/>
<polygon points="221.00,43.60 221.68,45.07 223.28,45.26 222.10,46.36 222.41,47.94 221.00,47.15 219.59,47.94 219.90,46.36 218.72,45.26 220.32,45.07" fill="#111"/>
<polygon points="249.80,40.60 250.48,42.07 252.08,42.26 250.90,43.36 251.21,44.94 249.80,44.15 248.39,44.94 248.70,43.36 247.52,42.26 249.12,42.07" fill="#111"/>
<polygon points="258.00,43.60 258.68,45.07 260.28,45.26 259.10,46.36 259.41,47.94 258.00,47.15 256.59,47.94 256.90,46.36 255.72,45.26 257.32,45.07" fill="#111"/>
<text x="34.10" y="39.70" font-size="15" fill="#080808" text-anchor="start"  stroke="#080808" stroke-width="0.33">(a)</text>
<line x1="330.00" y1="20" x2="330.00" y2="208" stroke="#f0f0f0" stroke-width="0.8"/>
<line x1="349.40" y1="20" x2="349.40" y2="208" stroke="#f0f0f0" stroke-width="0.8"/>
<line x1="368.80" y1="20" x2="368.80" y2="208" stroke="#f0f0f0" stroke-width="0.8"/>
<line x1="388.20" y1="20" x2="388.20" y2="208" stroke="#f0f0f0" stroke-width="0.8"/>
<line x1="407.60" y1="20" x2="407.60" y2="208" stroke="#f0f0f0" stroke-width="0.8"/>
<line x1="427.00" y1="20" x2="427.00" y2="208" stroke="#f0f0f0" stroke-width="0.8"/>
<line x1="446.40" y1="20" x2="446.40" y2="208" stroke="#f0f0f0" stroke-width="0.8"/>
<line x1="465.80" y1="20" x2="465.80" y2="208" stroke="#f0f0f0" stroke-width="0.8"/>
<line x1="485.20" y1="20" x2="485.20" y2="208" stroke="#f0f0f0" stroke-width="0.8"/>
<line x1="504.60" y1="20" x2="504.60" y2="208" stroke="#f0f0f0" stroke-width="0.8"/>
<line x1="524.00" y1="20" x2="524.00" y2="208" stroke="#f0f0f0" stroke-width="0.8"/>
<line x1="310.6" y1="54.30" x2="543.4" y2="54.30" stroke="#dcdcdc" stroke-width="0.9"/>
<line x1="310.6" y1="84.90" x2="543.4" y2="84.90" stroke="#dcdcdc" stroke-width="0.9"/>
<line x1="310.6" y1="114.60" x2="543.4" y2="114.60" stroke="#dcdcdc" stroke-width="0.9"/>
<line x1="310.6" y1="145.10" x2="543.4" y2="145.10" stroke="#dcdcdc" stroke-width="0.9"/>
<line x1="310.6" y1="175.70" x2="543.4" y2="175.70" stroke="#dcdcdc" stroke-width="0.9"/>
<line x1="310.6" y1="206.20" x2="543.4" y2="206.20" stroke="#dcdcdc" stroke-width="0.9"/>
<line x1="310.6" y1="23.2" x2="543.4" y2="23.2" stroke="#dcdcdc" stroke-width="0.9"/>
<polyline points="310.6,53.2 311.4,53.1 312.2,53.0 312.9,53.0 313.7,53.2 314.5,53.0 315.3,52.9 316.0,53.0 316.8,53.0 317.6,53.2 318.4,53.4 319.1,53.3 319.9,53.2 320.7,53.3 321.5,53.1 322.2,53.2 323.0,53.3 323.8,53.4 324.6,53.0 325.3,52.9 326.1,52.8 326.9,52.8 327.7,53.1 328.4,53.2 329.2,53.1 330.0,53.2 330.8,52.9 331.6,53.0 332.3,53.1 333.1,52.9 333.9,53.0 334.7,52.7 335.4,52.7 335.7,52.7 336.0,52.8 336.3,52.7 336.6,52.8 336.9,52.9 337.2,52.6 337.5,52.7 337.8,52.4 338.1,52.5 338.3,52.1 338.6,51.9 338.9,51.8 339.2,51.6 339.5,51.5 339.8,51.3 340.1,51.3 340.4,50.9 340.7,50.1 341.0,49.4 341.3,47.9 341.5,45.8 341.8,43.1 342.1,39.5 342.4,35.1 342.7,30.2 343.0,25.6 343.3,23.2 343.6,24.0 343.9,27.4 344.2,31.9 344.5,36.4 344.7,40.8 345.0,44.2 345.3,46.7 345.6,48.4 345.9,49.7 346.2,50.4 346.5,50.9 346.8,51.3 347.1,51.7 347.4,52.0 347.7,52.2 347.9,52.0 348.2,52.2 348.5,52.3 348.8,52.5 349.1,52.7 349.4,52.9 349.7,52.6 350.0,52.5 350.3,52.6 350.6,52.6 350.9,52.6 351.1,52.4 351.4,52.4 351.7,52.6 352.5,52.4 353.3,52.4 353.6,52.5 353.9,52.4 354.2,52.6 354.4,52.7 354.7,52.9 355.0,52.6 355.3,52.8 355.6,53.0 355.9,52.7 356.2,52.6 356.5,52.6 356.8,52.4 357.1,52.6 357.4,52.7 357.6,52.6 357.9,52.4 358.2,52.3 358.5,52.1 358.8,51.6 359.1,50.6 359.4,49.4 359.7,48.1 360.0,46.6 360.3,44.9 360.6,42.8 360.8,41.6 361.1,41.4 361.4,42.7 361.7,44.4 362.0,46.1 362.3,47.7 362.6,49.0 362.9,50.2 363.2,51.1 363.5,51.6 363.8,51.8 364.0,52.2 364.3,52.4 364.6,52.6 364.9,52.5 365.2,52.9 365.5,52.8 365.8,52.6 366.1,52.9 366.4,52.9 366.7,52.8 367.0,52.7 367.2,52.8 367.5,53.0 367.8,53.0 368.1,52.8 368.4,52.7 368.7,53.0 369.0,53.2 369.3,53.3 370.1,53.5 370.8,53.4 371.6,53.4 372.4,53.1 373.2,53.1 373.9,53.3 374.7,53.2 375.5,53.3 376.3,53.2 377.0,53.3 377.8,53.4 378.6,53.5 379.4,53.4 380.1,53.2 380.9,53.2 381.7,53.4 382.5,53.2 383.3,53.0 384.0,53.0 384.8,52.9 385.6,53.3 386.4,53.2 387.1,53.4 387.9,53.2 388.7,53.4 389.5,53.2 390.2,53.3 391.0,53.2 391.8,53.3 392.6,53.5 393.3,53.4 394.1,53.4 394.9,53.1 395.7,53.3 396.4,53.2 397.2,53.2 398.0,53.0 398.3,53.2 398.6,53.2 398.9,53.2 399.2,53.1 399.5,52.9 399.7,53.1 400.0,53.0 400.3,53.1 400.6,53.1 400.9,53.3 401.2,53.1 401.5,52.9 401.8,53.0 402.1,53.1 402.4,52.9 402.7,53.1 402.9,53.3 403.2,53.4 403.5,53.0 403.8,52.8 404.1,52.7 404.4,52.4 404.7,52.4 405.0,51.9 405.3,51.6 405.6,51.4 405.9,51.5 406.1,51.7 406.4,52.1 406.7,52.6 407.0,52.7 407.3,53.0 407.6,52.9 407.9,52.8 408.2,52.8 408.5,52.9 408.8,53.1 409.1,53.1 409.3,53.0 409.6,53.0 409.9,52.7 410.2,53.0 410.5,53.0 410.8,52.9 411.1,52.8 411.4,52.6 411.7,52.5 412.0,52.6 412.3,52.5 412.5,52.4 412.8,52.3 413.1,52.2 413.4,52.1 413.7,52.1 414.0,51.7 414.3,51.5 414.6,50.9 414.9,49.9 415.2,48.5 415.5,46.7 415.7,45.0 416.0,42.6 416.3,40.3 416.6,38.5 416.9,38.3 417.2,39.3 417.5,41.7 417.8,44.1 418.1,46.1 418.4,48.0 418.7,49.5 418.9,50.8 419.2,51.2 419.5,51.6 419.8,52.1 420.1,52.4 420.4,52.4 420.7,52.5 421.0,52.7 421.3,52.5 421.6,52.8 421.9,52.9 422.2,52.8 422.4,53.0 422.7,52.9 423.0,53.1 423.3,53.0 423.6,53.2 423.9,53.2 424.2,52.9 424.5,53.0 424.8,53.1 425.1,53.0 425.8,53.2 426.6,53.4 427.4,53.4 428.2,53.4 428.9,53.5 429.7,53.2 430.5,53.4 431.3,53.2 432.0,53.0 432.8,53.0 433.6,53.3 434.4,53.3 435.1,53.5 435.9,53.3 436.7,53.2 437.5,53.3 438.3,53.5 439.0,53.4 439.8,53.5 440.6,53.5 441.4,53.4 442.1,53.1 442.9,53.2 443.2,53.4 443.5,53.1 443.8,53.0 444.1,53.0 444.4,53.3 444.7,53.4 444.9,53.3 445.2,53.2 445.5,53.3 445.8,53.0 446.1,52.8 446.4,52.7 446.7,52.6 447.0,52.9 447.3,52.8 447.6,52.9 447.9,52.5 448.1,52.3 448.4,52.0 448.7,51.8 449.0,51.5 449.3,50.4 449.6,49.3 449.9,47.8 450.2,46.3 450.5,44.6 450.8,43.6 451.1,43.5 451.3,44.2 451.6,45.7 451.9,47.2 452.2,48.5 452.5,50.1 452.8,51.2 453.1,51.7 453.4,52.1 453.7,52.5 454.0,52.7 454.3,53.0 454.5,53.2 454.8,53.1 455.1,53.0 455.4,52.9 455.7,53.1 456.0,53.3 456.3,53.0 456.6,53.0 456.9,53.1 457.2,53.0 457.5,53.0 457.7,53.0 458.0,53.3 458.3,53.1 458.6,53.2 458.9,53.4 459.2,53.3 459.5,53.2 459.8,53.0 460.1,53.0 460.4,52.7 460.7,52.5 461.0,52.5 461.2,52.0 461.5,51.7 461.8,51.5 462.1,51.6 462.4,52.0 462.7,52.1 463.0,52.3 463.3,52.6 463.6,52.6 463.9,52.6 464.2,52.9 464.4,52.8 464.7,52.8 465.0,52.8 465.3,53.2 465.6,53.3 465.9,53.3 466.2,53.2 466.5,53.1 466.8,53.1 467.1,53.4 467.4,53.1 467.6,53.2 467.9,53.1 468.2,53.3 468.5,53.1 468.8,53.1 469.1,53.1 469.4,53.1 469.7,53.0 470.0,53.2 470.3,53.4 471.0,53.5 471.8,53.6 472.6,53.5 473.4,53.3 474.1,53.4 474.9,53.5 475.7,53.7 476.5,53.6 477.2,53.5 478.0,53.7 478.8,53.5 479.6,53.6 480.4,53.7 481.1,53.4 481.9,53.4 482.7,53.2 483.5,53.2 484.2,53.5 485.0,53.6 485.8,53.5 486.6,53.4 487.3,53.3 488.1,53.2 488.9,53.2 489.7,53.4 490.4,53.4 491.2,53.5 492.0,53.4 492.8,53.5 493.5,53.5 494.3,53.4 494.6,53.6 494.9,53.4 495.2,53.3 495.5,53.2 495.8,53.2 496.1,53.1 496.4,53.0 496.6,53.2 496.9,53.3 497.2,53.6 497.5,53.4 497.8,53.3 498.1,53.3 498.4,53.1 498.7,53.3 499.0,53.4 499.3,53.2 499.6,53.1 499.8,53.1 500.1,53.2 500.4,53.1 500.7,52.7 501.0,52.5 501.3,52.3 501.6,52.2 501.9,52.1 502.2,52.1 502.5,52.2 502.8,52.3 503.0,52.5 503.3,52.8 503.6,53.1 503.9,53.1 504.2,53.0 504.5,53.0 504.8,53.3 505.1,53.1 505.4,53.0 505.7,53.4 506.0,53.5 506.2,53.4 506.5,53.6 506.8,53.3 507.1,53.5 507.4,53.4 507.7,53.5 508.0,53.6 508.3,53.7 508.6,53.6 508.9,53.4 509.2,53.5 509.5,53.4 509.7,53.5 510.0,53.4 510.8,53.5 511.6,53.6 512.4,53.7 513.1,53.8 513.9,53.6 514.7,53.5 515.5,53.7 516.2,53.4 517.0,53.3 517.8,53.6 518.6,53.4 519.3,53.4 520.1,53.4 520.9,53.4 521.7,53.2 522.4,53.3 522.7,53.3 523.0,53.3 523.3,53.4 523.6,53.5 523.9,53.3 524.2,53.3 524.5,53.3 524.8,53.3 525.1,53.5 525.4,53.3 525.6,53.5 525.9,53.4 526.2,53.4 526.5,53.5 526.8,53.3 527.1,53.2 527.4,53.4 527.7,53.2 528.0,53.2 528.3,52.8 528.6,52.7 528.9,52.4 529.1,52.0 529.4,51.7 529.7,51.2 530.0,50.9 530.3,50.6 530.6,50.7 530.9,51.2 531.2,51.9 531.5,52.2 531.8,52.7 532.1,52.9 532.3,52.9 532.6,53.2 532.9,53.1 533.2,53.2 533.5,53.4 533.8,53.5 534.1,53.4 534.4,53.5 534.7,53.6 535.0,53.4 535.3,53.2 535.5,53.3 535.8,53.2 536.1,53.5 536.4,53.5 536.7,53.4 537.0,53.1 537.3,53.1 537.6,52.8 537.9,52.9 538.2,52.6 538.5,52.1 538.7,51.6 539.0,51.3 539.3,51.3 539.6,51.0 539.9,51.5 540.2,51.5 540.5,51.9 540.8,52.2 541.1,52.6 541.4,53.0 541.7,53.2 541.9,53.2 542.2,53.2 542.5,53.3 542.8,53.2 543.1,53.5 543.4,53.6" fill="none" stroke="#9a1df2" stroke-width="1.5" stroke-linejoin="round"/>
<polyline points="310.6,83.4 311.4,83.7 312.2,83.9 312.9,83.6 313.7,83.8 314.5,83.9 315.3,83.7 316.0,83.8 316.8,83.5 317.6,83.7 318.4,83.5 319.1,83.6 319.9,83.6 320.7,83.4 321.5,83.4 322.2,83.3 323.0,83.3 323.8,83.7 324.6,83.4 325.3,83.5 326.1,83.6 326.9,83.7 327.7,83.5 328.4,83.5 329.2,83.3 330.0,83.2 330.8,83.1 331.6,83.2 332.3,83.2 333.1,83.2 333.9,83.3 334.2,83.1 334.6,83.2 335.0,83.1 335.3,82.9 335.7,82.9 336.1,83.1 336.4,82.9 336.8,82.8 337.2,82.9 337.5,83.0 337.9,82.8 338.2,82.8 338.6,82.3 339.0,82.1 339.3,81.7 339.7,81.4 340.1,80.6 340.4,79.5 340.8,78.2 341.2,76.2 341.5,73.1 341.9,69.4 342.2,64.7 342.6,59.8 343.0,55.7 343.3,53.7 343.7,54.8 344.1,58.7 344.4,63.2 344.8,68.1 345.2,72.2 345.5,75.5 345.9,77.6 346.2,79.1 346.6,80.3 347.0,81.1 347.3,81.8 347.7,81.9 348.1,82.3 348.4,82.4 348.8,82.7 349.2,82.8 349.5,82.9 349.9,83.1 350.2,83.3 350.6,83.2 351.0,83.0 351.3,83.0 351.7,83.2 352.1,83.1 352.4,83.4 352.8,83.3 353.2,83.1 353.5,83.0 353.9,83.1 354.2,83.0 354.6,83.0 355.0,83.1 355.3,83.0 355.7,82.8 356.1,82.8 356.4,82.8 356.8,82.7 357.2,82.6 357.5,82.5 357.9,82.1 358.3,81.6 358.6,81.0 359.0,79.9 359.3,79.0 359.7,77.3 360.1,75.4 360.4,73.7 360.8,72.6 361.2,72.3 361.5,73.2 361.9,75.0 362.3,77.1 362.6,78.4 363.0,79.9 363.3,81.2 363.7,82.0 364.1,82.5 364.4,82.6 364.8,83.0 365.2,83.2 365.5,83.4 365.9,83.4 366.3,83.5 366.6,83.5 367.0,83.4 367.3,83.2 367.7,83.2 368.1,83.5 368.4,83.6 368.8,83.4 369.2,83.7 369.5,83.8 369.9,83.7 370.3,83.7 370.6,83.6 371.0,83.5 371.8,83.6 372.5,83.7 373.3,83.8 374.1,83.9 374.9,84.0 375.6,83.8 376.4,83.9 377.2,83.7 378.0,83.6 378.7,83.9 379.5,83.8 380.3,83.7 381.1,84.0 381.8,83.9 382.6,84.1 383.4,83.8 384.2,84.0 385.0,83.9 385.7,83.6 386.5,83.5 387.3,83.7 388.1,83.7 388.8,83.9 389.6,83.9 390.4,83.7 391.2,83.6 391.9,83.9 392.7,83.9 393.5,83.8 394.3,83.9 395.0,83.7 395.8,83.5 396.2,83.6 396.5,83.7 396.9,83.6 397.3,83.6 397.6,83.8 398.0,83.9 398.4,84.0 398.7,83.7 399.1,83.7 399.5,83.6 399.8,83.5 400.2,83.4 400.5,83.6 400.9,83.7 401.3,83.5 401.6,83.4 402.0,83.6 402.4,83.5 402.7,83.6 403.1,83.7 403.5,83.7 403.8,83.5 404.2,83.2 404.5,82.8 404.9,82.2 405.3,82.1 405.6,81.9 406.0,81.8 406.4,82.1 406.7,82.5 407.1,82.7 407.5,83.2 407.8,83.1 408.2,83.2 408.5,83.1 408.9,83.1 409.3,83.4 409.6,83.6 410.0,83.7 410.4,83.5 410.7,83.2 411.1,83.0 411.5,83.1 411.8,83.0 412.2,82.9 412.5,82.9 412.9,82.5 413.3,82.2 413.6,81.8 414.0,81.2 414.4,80.4 414.7,79.2 415.1,77.8 415.5,75.8 415.8,73.5 416.2,71.2 416.5,69.1 416.9,68.8 417.3,70.1 417.6,72.2 418.0,74.7 418.4,77.0 418.7,78.9 419.1,80.4 419.5,81.4 419.8,82.0 420.2,82.5 420.5,82.6 420.9,82.9 421.3,83.1 421.6,83.0 422.0,82.9 422.4,83.2 422.7,83.5 423.1,83.3 423.5,83.4 423.8,83.6 424.2,83.8 424.6,83.8 424.9,83.9 425.3,83.9 425.6,84.1 426.0,83.7 426.4,83.5 426.7,83.8 427.5,83.8 428.3,83.6 429.1,83.7 429.8,83.9 430.6,84.0 431.4,83.9 432.2,83.7 432.9,83.7 433.7,83.8 434.5,83.7 435.3,84.0 436.0,83.8 436.8,83.7 437.6,83.6 438.4,83.8 439.1,83.9 439.9,84.1 440.7,84.1 441.5,84.1 441.8,84.0 442.2,83.8 442.6,83.9 442.9,83.8 443.3,83.7 443.7,83.6 444.0,83.9 444.4,83.6 444.8,83.5 445.1,83.6 445.5,83.7 445.8,83.5 446.2,83.2 446.6,83.3 446.9,83.3 447.3,83.1 447.7,83.0 448.0,82.7 448.4,82.0 448.8,81.3 449.1,80.2 449.5,79.1 449.8,77.3 450.2,75.7 450.6,74.5 450.9,73.9 451.3,74.2 451.7,75.4 452.0,77.0 452.4,78.8 452.8,80.1 453.1,81.2 453.5,81.8 453.8,82.5 454.2,82.6 454.6,82.9 454.9,83.2 455.3,83.4 455.7,83.6 456.0,83.5 456.4,83.7 456.8,83.6 457.1,83.7 457.5,83.5 457.8,83.8 458.2,83.6 458.6,83.5 458.9,83.6 459.3,83.7 459.7,83.6 460.0,83.3 460.4,83.2 460.8,83.2 461.1,82.8 461.5,82.4 461.8,82.5 462.2,82.3 462.6,82.6 462.9,83.0 463.3,83.4 463.7,83.5 464.0,83.6 464.4,83.8 464.8,84.0 465.1,83.9 465.5,84.0 465.8,84.0 466.2,83.9 466.6,83.8 466.9,83.8 467.3,84.0 467.7,84.1 468.0,83.8 468.4,84.1 468.8,84.2 469.1,84.3 469.5,84.0 469.8,83.9 470.2,83.7 470.6,83.7 470.9,83.9 471.3,83.9 471.7,83.8 472.0,84.0 472.8,83.8 473.6,83.9 474.4,84.1 475.1,84.1 475.9,84.0 476.7,84.2 477.5,83.9 478.2,83.7 479.0,83.8 479.8,83.7 480.6,83.7 481.3,83.8 482.1,84.0 482.9,83.8 483.7,83.7 484.4,83.8 485.2,83.9 486.0,84.2 486.8,84.0 487.6,83.8 488.3,83.9 489.1,84.1 489.9,84.0 490.7,83.8 491.4,84.1 492.2,84.1 492.6,84.0 492.9,84.2 493.3,84.0 493.7,84.1 494.0,83.9 494.4,83.9 494.8,84.1 495.1,84.3 495.5,84.3 495.8,84.3 496.2,84.0 496.6,83.9 496.9,83.8 497.3,84.0 497.7,83.9 498.0,83.8 498.4,83.9 498.8,84.0 499.1,83.9 499.5,83.9 499.8,83.9 500.2,83.7 500.6,83.6 500.9,83.1 501.3,83.0 501.7,82.6 502.0,82.5 502.4,83.0 502.8,82.9 503.1,83.0 503.5,83.3 503.8,83.3 504.2,83.6 504.6,83.9 504.9,84.1 505.3,84.1 505.7,83.9 506.0,83.8 506.4,84.0 506.8,84.1 507.1,84.2 507.5,84.3 507.8,84.2 508.2,84.2 508.6,84.3 508.9,84.1 509.3,84.2 509.7,83.9 510.0,84.0 510.4,84.0 510.8,83.9 511.1,84.0 511.5,84.1 511.9,84.3 512.6,84.3 513.4,84.3 514.2,84.1 515.0,84.1 515.7,84.0 516.5,84.1 517.3,84.3 518.1,84.3 518.8,84.2 519.6,83.9 520.4,84.1 520.8,84.2 521.1,84.3 521.5,84.3 521.8,83.9 522.2,83.8 522.6,84.0 522.9,84.2 523.3,84.1 523.7,84.0 524.0,84.2 524.4,84.1 524.8,83.9 525.1,84.1 525.5,83.9 525.8,83.8 526.2,83.7 526.6,83.7 526.9,83.7 527.3,83.6 527.7,83.6 528.0,83.3 528.4,83.1 528.8,82.7 529.1,82.4 529.5,82.0 529.8,81.6 530.2,81.3 530.6,81.5 530.9,81.7 531.3,82.1 531.7,82.7 532.0,83.2 532.4,83.4 532.8,83.4 533.1,83.5 533.5,83.6 533.8,83.7 534.2,84.0 534.6,84.0 534.9,83.8 535.3,83.9 535.7,84.0 536.0,83.9 536.4,83.7 536.8,83.8 537.1,83.8 537.5,83.5 537.8,83.0 538.2,82.7 538.6,82.5 538.9,82.0 539.3,82.0 539.7,82.0 540.0,82.0 540.4,82.2 540.8,82.4 541.1,83.0 541.5,83.4 541.8,83.6 542.2,83.9 542.6,84.0 542.9,83.9 543.3,83.7" fill="none" stroke="#1c1cf5" stroke-width="1.5" stroke-linejoin="round"/>
<polyline points="310.6,113.2 311.4,113.0 312.2,113.0 312.9,113.3 313.7,113.3 314.5,113.4 315.3,113.4 316.0,113.6 316.8,113.6 317.6,113.6 318.4,113.6 319.1,113.5 319.9,113.7 320.7,113.8 321.5,113.5 322.2,113.5 323.0,113.4 323.8,113.3 324.6,113.4 325.3,113.6 326.1,113.4 326.9,113.3 327.7,113.3 328.4,113.2 329.2,113.1 330.0,113.2 330.8,113.1 331.6,113.3 332.3,113.2 333.1,113.2 333.9,113.3 334.7,113.4 335.4,113.3 336.2,113.1 337.0,113.0 337.2,113.0 337.5,112.9 337.7,113.1 338.0,113.1 338.2,113.1 338.4,112.8 338.7,112.9 338.9,113.0 339.2,113.0 339.4,112.9 339.7,112.8 339.9,112.4 340.1,112.0 340.4,111.9 340.6,111.7 340.9,111.3 341.1,110.8 341.3,109.7 341.6,108.4 341.8,106.6 342.1,104.0 342.3,100.1 342.6,95.6 342.8,90.6 343.0,86.3 343.3,83.7 343.5,83.8 343.8,87.0 344.0,91.4 344.3,96.6 344.5,100.7 344.7,104.5 345.0,107.0 345.2,109.0 345.5,110.0 345.7,110.7 346.0,111.0 346.2,111.3 346.4,111.5 346.7,111.9 346.9,111.9 347.2,112.1 347.4,112.4 347.7,112.3 347.9,112.6 348.1,112.8 348.4,113.1 348.6,113.0 348.9,113.2 349.1,112.9 349.4,112.8 349.6,113.0 349.8,113.2 350.1,113.2 350.3,113.3 350.6,113.2 351.3,113.1 352.1,113.3 352.9,113.3 353.7,113.1 354.4,113.2 354.7,113.3 354.9,113.1 355.2,113.0 355.4,112.9 355.7,112.9 355.9,113.1 356.1,113.0 356.4,112.9 356.6,112.9 356.9,113.1 357.1,113.2 357.4,113.2 357.6,112.9 357.8,112.9 358.1,112.8 358.3,112.6 358.6,112.7 358.8,112.5 359.1,112.2 359.3,111.7 359.5,110.9 359.8,110.2 360.0,108.7 360.3,107.6 360.5,106.0 360.7,104.6 361.0,104.1 361.2,104.3 361.5,105.4 361.7,106.9 362.0,108.3 362.2,109.9 362.4,110.9 362.7,111.5 362.9,112.2 363.2,112.3 363.4,112.7 363.7,112.8 363.9,113.0 364.1,113.1 364.4,113.1 364.6,113.4 364.9,113.2 365.1,113.2 365.4,113.1 365.6,113.2 365.8,113.2 366.1,113.2 366.3,113.4 366.6,113.2 366.8,113.4 367.1,113.2 367.3,113.1 367.5,113.2 367.8,113.1 368.0,113.2 368.3,113.2 369.0,113.4 369.8,113.5 370.6,113.5 371.4,113.6 372.1,113.3 372.9,113.5 373.7,113.5 374.5,113.5 375.3,113.4 376.0,113.4 376.8,113.4 377.6,113.6 378.4,113.6 379.1,113.8 379.9,113.8 380.7,113.8 381.5,113.5 382.2,113.5 383.0,113.7 383.8,113.6 384.6,113.8 385.3,113.6 386.1,113.6 386.9,113.4 387.7,113.6 388.4,113.4 389.2,113.5 390.0,113.3 390.8,113.3 391.5,113.6 392.3,113.4 393.1,113.6 393.9,113.6 394.7,113.7 395.4,113.5 396.2,113.7 397.0,113.5 397.8,113.6 398.5,113.4 399.3,113.6 399.5,113.7 399.8,113.4 400.0,113.4 400.3,113.6 400.5,113.3 400.8,113.2 401.0,113.5 401.2,113.7 401.5,113.6 401.7,113.7 402.0,113.5 402.2,113.5 402.5,113.4 402.7,113.4 402.9,113.3 403.2,113.2 403.4,113.2 403.7,113.2 403.9,113.3 404.2,113.4 404.4,113.4 404.6,112.9 404.9,112.8 405.1,112.5 405.4,112.3 405.6,112.0 405.9,112.1 406.1,112.1 406.3,112.5 406.6,112.8 406.8,112.9 407.1,113.0 407.3,112.9 407.6,113.2 407.8,113.1 408.0,113.0 408.3,112.9 408.5,113.3 408.8,113.4 409.0,113.3 409.2,113.1 409.5,113.5 409.7,113.5 410.0,113.3 410.2,113.2 410.5,113.2 410.7,113.4 410.9,113.4 411.2,113.6 411.4,113.5 411.7,113.5 411.9,113.2 412.2,113.2 412.4,113.2 412.6,113.3 412.9,113.3 413.1,113.1 413.4,113.0 413.6,113.1 413.9,112.7 414.1,112.6 414.3,112.2 414.6,112.0 414.8,111.6 415.1,111.0 415.3,110.0 415.6,108.5 415.8,106.5 416.0,104.4 416.3,102.2 416.5,100.4 416.8,99.0 417.0,99.5 417.3,101.2 417.5,103.6 417.7,106.1 418.0,108.0 418.2,109.3 418.5,110.4 418.7,111.2 418.9,111.7 419.2,112.3 419.4,112.7 419.7,112.8 419.9,113.1 420.2,113.0 420.4,113.1 420.6,113.1 420.9,113.3 421.1,113.5 421.4,113.4 421.6,113.6 421.9,113.4 422.1,113.5 422.3,113.4 422.6,113.3 422.8,113.3 423.1,113.3 423.3,113.5 423.6,113.5 423.8,113.3 424.0,113.5 424.8,113.6 425.6,113.6 426.4,113.5 427.1,113.4 427.9,113.5 428.7,113.3 429.5,113.6 430.2,113.5 431.0,113.5 431.8,113.3 432.6,113.6 433.4,113.5 434.1,113.3 434.9,113.3 435.7,113.6 436.5,113.4 437.2,113.2 438.0,113.6 438.8,113.4 439.6,113.7 440.3,113.8 441.1,113.6 441.9,113.5 442.7,113.3 443.4,113.3 444.2,113.4 444.5,113.5 444.7,113.5 444.9,113.2 445.2,113.2 445.4,113.1 445.7,113.4 445.9,113.3 446.2,113.2 446.4,113.5 446.6,113.3 446.9,113.4 447.1,113.5 447.4,113.6 447.6,113.3 447.9,113.4 448.1,113.0 448.3,113.1 448.6,112.7 448.8,112.4 449.1,112.1 449.3,111.5 449.6,110.7 449.8,109.6 450.0,108.5 450.3,106.8 450.5,105.3 450.8,104.0 451.0,103.6 451.3,104.1 451.5,105.5 451.7,107.0 452.0,108.9 452.2,110.2 452.5,111.1 452.7,111.7 452.9,112.1 453.2,112.6 453.4,112.7 453.7,112.8 453.9,113.1 454.2,113.4 454.4,113.3 454.6,113.1 454.9,113.1 455.1,113.3 455.4,113.3 455.6,113.2 455.9,113.3 456.1,113.3 456.3,113.3 456.6,113.2 456.8,113.2 457.1,113.1 457.3,113.4 457.6,113.4 457.8,113.3 458.0,113.3 458.3,113.1 458.5,113.1 458.8,113.4 459.0,113.4 459.3,113.5 459.5,113.6 459.7,113.5 460.0,113.2 460.2,113.0 460.5,113.2 460.7,113.1 461.0,112.9 461.2,112.4 461.4,112.3 461.7,112.3 461.9,112.2 462.2,112.4 462.4,112.8 462.6,112.9 462.9,112.8 463.1,112.9 463.4,113.0 463.6,113.4 463.9,113.4 464.1,113.4 464.3,113.3 464.6,113.5 464.8,113.7 465.1,113.5 465.3,113.6 465.6,113.5 465.8,113.6 466.0,113.4 466.3,113.6 466.5,113.8 466.8,113.8 467.0,113.7 467.3,113.5 467.5,113.6 467.7,113.5 468.0,113.6 468.2,113.5 468.5,113.7 468.7,113.5 469.0,113.3 469.7,113.7 470.5,113.5 471.3,113.4 472.1,113.4 472.8,113.7 473.6,113.6 474.4,113.5 475.2,113.5 475.9,113.3 476.7,113.3 477.5,113.4 478.3,113.3 479.0,113.6 479.8,113.7 480.6,113.7 481.4,113.7 482.1,113.5 482.9,113.5 483.7,113.5 484.5,113.5 485.2,113.4 486.0,113.5 486.8,113.5 487.6,113.5 488.4,113.6 489.1,113.7 489.9,113.9 490.7,114.0 491.5,114.0 492.2,114.0 493.0,114.1 493.8,113.9 494.6,113.9 495.3,113.6 495.6,113.5 495.8,113.5 496.1,113.4 496.3,113.6 496.5,113.8 496.8,113.7 497.0,113.8 497.3,113.5 497.5,113.6 497.8,113.5 498.0,113.7 498.2,113.9 498.5,113.7 498.7,113.6 499.0,113.7 499.2,113.5 499.5,113.3 499.7,113.3 499.9,113.1 500.2,113.0 500.4,113.3 500.7,113.1 500.9,112.8 501.2,112.6 501.4,112.6 501.6,112.4 501.9,112.3 502.1,112.3 502.4,112.7 502.6,113.0 502.9,113.2 503.1,113.2 503.3,113.5 503.6,113.8 503.8,113.9 504.1,114.0 504.3,113.9 504.6,113.6 504.8,113.7 505.0,113.9 505.3,113.7 505.5,113.8 505.8,113.7 506.0,113.6 506.2,113.7 506.5,113.6 506.7,113.6 507.0,113.5 507.2,113.4 507.5,113.4 507.7,113.4 507.9,113.6 508.2,113.7 508.4,113.5 508.7,113.5 508.9,113.5 509.7,113.4 510.5,113.4 511.2,113.5 512.0,113.5 512.8,113.8 513.6,113.8 514.3,113.7 515.1,113.5 515.9,113.4 516.7,113.6 517.5,113.8 518.2,113.6 519.0,113.6 519.8,113.8 520.6,114.0 521.3,113.7 522.1,113.7 522.9,113.9 523.7,113.6 523.9,113.6 524.1,113.5 524.4,113.4 524.6,113.7 524.9,113.7 525.1,113.8 525.4,113.7 525.6,113.7 525.8,113.6 526.1,113.8 526.3,113.9 526.6,113.8 526.8,114.0 527.1,113.9 527.3,113.5 527.5,113.3 527.8,113.5 528.0,113.3 528.3,113.4 528.5,113.3 528.8,113.0 529.0,112.8 529.2,112.5 529.5,112.1 529.7,111.7 530.0,111.3 530.2,110.8 530.5,111.1 530.7,111.4 530.9,112.0 531.2,112.3 531.4,112.9 531.7,113.2 531.9,113.2 532.1,113.6 532.4,113.6 532.6,113.7 532.9,113.7 533.1,113.6 533.4,113.8 533.6,113.6 533.8,113.7 534.1,113.6 534.3,113.8 534.6,113.9 534.8,114.0 535.1,114.0 535.3,114.0 535.5,114.0 535.8,114.1 536.0,113.7 536.3,113.7 536.5,113.7 536.8,113.6 537.0,113.4 537.2,113.7 537.5,113.8 537.7,113.5 538.0,113.5 538.2,113.2 538.5,112.8 538.7,112.3 538.9,112.2 539.2,111.8 539.4,111.7 539.7,111.6 539.9,112.0 540.2,112.2 540.4,112.3 540.6,112.7 540.9,112.9 541.1,113.0 541.4,113.1 541.6,113.2 541.8,113.4 542.1,113.7 542.3,113.6 542.6,113.4 542.8,113.5 543.1,113.7 543.3,113.5" fill="none" stroke="#1f8a80" stroke-width="1.5" stroke-linejoin="round"/>
<polyline points="310.6,143.8 311.4,143.7 312.2,143.9 312.9,143.7 313.7,143.9 314.5,143.8 315.3,144.1 316.0,143.9 316.8,144.0 317.6,143.9 318.4,143.8 319.1,143.7 319.9,143.8 320.7,143.7 321.5,143.5 322.2,143.9 323.0,143.9 323.8,143.7 324.6,143.7 325.3,143.8 326.1,143.9 326.9,143.7 327.7,144.0 328.4,143.8 329.2,143.7 330.0,143.9 330.8,144.0 331.6,144.1 332.3,144.0 333.1,144.0 333.9,143.8 334.7,143.6 335.4,143.8 336.2,143.6 337.0,143.9 337.8,144.0 338.5,143.8 339.3,143.6 339.4,143.4 339.6,143.3 339.7,143.2 339.9,143.4 340.0,143.4 340.1,143.2 340.3,143.5 340.4,143.4 340.5,143.5 340.7,143.6 340.8,143.4 340.9,143.2 341.1,142.9 341.2,143.0 341.3,142.9 341.5,142.5 341.6,142.3 341.8,142.1 341.9,142.0 342.0,141.5 342.2,141.0 342.3,139.9 342.4,138.3 342.6,136.2 342.7,133.0 342.8,129.2 343.0,124.6 343.1,119.6 343.3,116.0 343.4,114.6 343.5,116.0 343.7,119.9 343.8,124.4 343.9,129.2 344.1,133.2 344.2,136.4 344.3,138.5 344.5,140.1 344.6,141.0 344.7,141.5 344.9,142.2 345.0,142.2 345.2,142.4 345.3,142.5 345.4,142.7 345.6,142.9 345.7,143.1 345.8,143.2 346.0,143.4 346.1,143.5 346.2,143.6 346.4,143.6 346.5,143.4 346.6,143.3 346.8,143.4 346.9,143.7 347.1,143.8 347.2,143.7 347.3,143.6 347.5,143.7 347.6,143.6 347.7,143.5 347.9,143.7 348.6,143.8 349.4,143.7 350.2,143.9 351.0,143.8 351.7,143.9 352.5,144.1 353.3,144.1 354.1,144.2 354.9,143.9 355.6,143.7 356.4,143.8 357.2,143.6 357.3,143.8 357.5,143.8 357.6,144.0 357.7,144.1 357.9,143.8 358.0,144.0 358.1,143.7 358.3,143.7 358.4,143.6 358.5,143.8 358.7,143.6 358.8,143.4 358.9,143.7 359.1,143.8 359.2,143.8 359.4,143.6 359.5,143.6 359.6,143.2 359.8,143.0 359.9,142.6 360.0,142.4 360.2,141.6 360.3,140.7 360.4,139.4 360.6,138.0 360.7,136.1 360.8,134.5 361.0,133.5 361.1,133.8 361.3,135.1 361.4,136.8 361.5,138.5 361.7,139.6 361.8,140.9 361.9,141.6 362.1,142.4 362.2,142.8 362.3,143.2 362.5,143.4 362.6,143.3 362.7,143.4 362.9,143.3 363.0,143.6 363.2,143.7 363.3,143.9 363.4,144.0 363.6,143.7 363.7,143.7 363.8,143.7 364.0,143.9 364.1,143.7 364.2,143.7 364.4,143.9 364.5,144.1 364.6,144.2 364.8,143.9 364.9,143.8 365.1,144.0 365.2,144.1 365.3,144.1 365.5,143.9 365.6,143.8 366.4,144.0 367.2,144.1 367.9,144.2 368.7,143.9 369.5,143.9 370.3,143.7 371.0,143.9 371.8,143.9 372.6,143.9 373.4,143.7 374.1,143.9 374.9,144.1 375.7,143.9 376.5,143.7 377.2,143.8 378.0,144.0 378.8,144.2 379.6,144.1 380.3,143.9 381.1,144.0 381.9,144.0 382.7,144.0 383.4,144.1 384.2,144.3 385.0,144.2 385.8,143.9 386.6,143.8 387.3,144.0 388.1,143.9 388.9,143.8 389.7,143.8 390.4,144.0 391.2,144.1 392.0,144.0 392.8,143.9 393.5,144.1 394.3,144.2 395.1,144.3 395.9,144.1 396.6,143.9 397.4,143.9 398.2,143.9 399.0,143.9 399.7,144.1 400.5,144.1 401.3,144.1 401.4,143.9 401.6,144.1 401.7,143.9 401.8,144.1 402.0,144.0 402.1,143.8 402.2,144.1 402.4,144.1 402.5,144.3 402.7,144.2 402.8,144.1 402.9,143.9 403.1,143.9 403.2,143.8 403.3,143.7 403.5,143.7 403.6,143.9 403.7,144.1 403.9,144.0 404.0,144.2 404.1,144.0 404.3,144.1 404.4,144.0 404.6,143.8 404.7,143.6 404.8,143.7 405.0,143.7 405.1,143.5 405.2,143.0 405.4,142.9 405.5,142.7 405.6,142.6 405.8,142.9 405.9,143.0 406.0,143.3 406.2,143.5 406.3,143.5 406.5,143.6 406.6,143.9 406.7,143.8 406.9,143.9 407.0,143.8 407.1,144.1 407.3,144.2 407.4,144.0 407.5,144.0 407.7,144.0 407.8,144.0 407.9,143.9 408.1,143.8 408.2,143.8 408.4,143.7 408.5,143.6 408.6,143.8 408.8,144.0 408.9,144.1 409.0,143.9 409.2,143.8 409.3,143.8 409.4,144.1 409.6,144.2 409.7,144.1 409.9,144.1 410.0,144.2 410.1,143.9 410.9,144.1 411.7,143.8 412.4,143.8 412.6,143.6 412.7,143.6 412.9,143.9 413.0,144.0 413.1,143.8 413.3,143.9 413.4,143.9 413.5,143.7 413.7,143.7 413.8,143.6 413.9,143.7 414.1,143.8 414.2,143.7 414.4,143.8 414.5,143.6 414.6,143.5 414.8,143.6 414.9,143.8 415.0,143.4 415.2,143.4 415.3,143.2 415.4,143.1 415.6,142.9 415.7,142.5 415.8,141.9 416.0,140.6 416.1,139.1 416.3,137.2 416.4,135.2 416.5,132.9 416.7,130.9 416.8,129.5 416.9,129.6 417.1,131.2 417.2,133.4 417.3,135.9 417.5,138.0 417.6,139.9 417.7,141.3 417.9,142.0 418.0,142.3 418.2,142.5 418.3,142.9 418.4,143.1 418.6,143.1 418.7,143.4 418.8,143.4 419.0,143.5 419.1,143.6 419.2,143.7 419.4,143.9 419.5,144.0 419.6,144.1 419.8,143.7 419.9,143.6 420.1,144.0 420.2,143.8 420.3,144.0 420.5,144.0 420.6,143.7 420.7,143.6 420.9,143.6 421.0,143.5 421.1,143.6 421.3,144.0 422.1,144.1 422.8,144.0 423.6,144.0 424.4,143.8 425.2,144.1 425.9,143.9 426.7,143.9 427.5,143.9 428.3,144.2 429.0,144.2 429.8,144.2 430.6,144.0 431.4,144.0 432.1,143.9 432.9,143.9 433.7,144.1 434.5,144.2 435.2,143.9 436.0,143.9 436.8,144.0 437.6,143.8 438.3,143.7 439.1,143.8 439.9,143.7 440.7,143.9 441.5,143.8 442.2,143.9 443.0,144.0 443.8,144.1 444.6,144.3 445.3,144.0 446.1,143.8 446.9,143.9 447.0,143.8 447.2,144.0 447.3,144.0 447.4,143.8 447.6,143.8 447.7,144.0 447.8,143.9 448.0,144.2 448.1,144.0 448.2,143.9 448.4,143.8 448.5,143.7 448.7,144.0 448.8,143.7 448.9,143.6 449.1,143.4 449.2,143.6 449.3,143.7 449.5,143.4 449.6,143.1 449.7,143.0 449.9,142.8 450.0,142.4 450.1,141.8 450.3,140.7 450.4,139.2 450.6,137.6 450.7,136.2 450.8,134.6 451.0,133.9 451.1,134.4 451.2,135.9 451.4,137.4 451.5,139.0 451.6,140.5 451.8,141.3 451.9,142.2 452.0,142.9 452.2,143.3 452.3,143.2 452.5,143.5 452.6,143.6 452.7,143.8 452.9,144.0 453.0,144.1 453.1,144.2 453.3,144.1 453.4,144.1 453.5,143.9 453.7,143.8 453.8,143.7 453.9,144.0 454.1,144.0 454.2,144.1 454.4,144.2 454.5,144.2 454.6,144.2 454.8,144.0 454.9,144.0 455.0,144.2 455.2,144.1 455.3,144.2 455.4,144.0 456.2,144.2 457.0,144.3 457.8,144.5 457.9,144.4 458.0,144.2 458.2,144.3 458.3,144.2 458.4,144.0 458.6,144.1 458.7,144.0 458.9,143.9 459.0,143.8 459.1,143.7 459.3,143.8 459.4,144.0 459.5,144.1 459.7,144.3 459.8,144.4 459.9,144.2 460.1,144.2 460.2,144.3 460.3,144.2 460.5,144.3 460.6,144.1 460.8,143.8 460.9,143.8 461.0,143.9 461.2,143.9 461.3,143.7 461.4,143.1 461.6,142.7 461.7,142.5 461.8,142.6 462.0,142.9 462.1,142.8 462.2,143.3 462.4,143.6 462.5,143.6 462.7,143.7 462.8,144.0 462.9,143.8 463.1,143.8 463.2,143.8 463.3,144.1 463.5,143.9 463.6,144.2 463.7,144.1 463.9,144.4 464.0,144.1 464.2,144.1 464.3,144.1 464.4,144.1 464.6,144.0 464.7,144.3 464.8,144.4 465.0,144.5 465.1,144.3 465.2,144.4 465.4,144.6 465.5,144.2 465.6,144.3 465.8,144.3 465.9,144.1 466.1,144.2 466.2,144.0 466.3,143.8 467.1,144.1 467.9,144.3 468.7,144.5 469.4,144.5 470.2,144.3 471.0,144.0 471.8,143.9 472.5,143.9 473.3,144.2 474.1,144.0 474.9,144.1 475.6,144.0 476.4,144.2 477.2,144.0 478.0,144.1 478.7,144.2 479.5,144.0 480.3,144.0 481.1,144.1 481.8,144.2 482.6,144.1 483.4,144.2 484.2,144.2 484.9,144.2 485.7,144.2 486.5,144.3 487.3,144.4 488.1,144.2 488.8,144.1 489.6,144.3 490.4,144.4 491.2,144.4 491.9,144.3 492.7,144.2 493.5,144.2 494.3,144.1 495.0,144.2 495.8,144.4 496.6,144.3 497.4,144.2 498.1,144.3 498.3,144.1 498.4,144.3 498.5,144.4 498.7,144.3 498.8,144.3 499.0,144.2 499.1,144.4 499.2,144.3 499.4,144.2 499.5,144.2 499.6,144.4 499.8,144.5 499.9,144.5 500.0,144.4 500.2,144.1 500.3,144.3 500.4,144.1 500.6,143.9 500.7,143.9 500.9,144.1 501.0,143.9 501.1,143.6 501.3,143.6 501.4,143.3 501.5,143.3 501.7,143.2 501.8,143.1 501.9,143.0 502.1,142.9 502.2,143.3 502.3,143.7 502.5,143.9 502.6,143.9 502.8,143.9 502.9,144.0 503.0,143.9 503.2,144.0 503.3,144.3 503.4,144.0 503.6,144.2 503.7,144.4 503.8,144.5 504.0,144.5 504.1,144.3 504.3,144.3 504.4,144.4 504.5,144.3 504.7,144.2 504.8,144.1 504.9,144.3 505.1,144.0 505.2,144.0 505.3,144.1 505.5,144.0 505.6,144.2 505.7,144.3 505.9,144.2 506.0,144.2 506.2,144.2 506.3,144.4 506.4,144.2 507.2,144.0 508.0,144.2 508.8,144.0 509.5,144.3 510.3,144.5 511.1,144.3 511.9,144.1 512.6,144.1 513.4,144.3 514.2,144.4 515.0,144.2 515.7,144.1 516.5,143.9 517.3,144.2 518.1,144.1 518.8,144.3 519.6,144.5 520.4,144.4 521.2,144.4 521.9,144.2 522.7,144.3 523.5,144.4 524.3,144.1 525.0,144.0 525.8,144.1 526.0,144.0 526.1,144.3 526.2,144.4 526.4,144.1 526.5,144.2 526.6,144.4 526.8,144.5 526.9,144.2 527.0,144.2 527.2,144.0 527.3,143.8 527.5,143.9 527.6,143.9 527.7,144.1 527.9,144.0 528.0,144.3 528.1,144.2 528.3,144.4 528.4,144.4 528.5,144.1 528.7,144.0 528.8,144.2 528.9,143.9 529.1,143.7 529.2,143.4 529.4,143.4 529.5,143.3 529.6,142.8 529.8,142.3 529.9,142.1 530.0,141.6 530.2,141.3 530.3,141.2 530.4,141.6 530.6,142.2 530.7,142.8 530.8,143.4 531.0,143.8 531.1,143.9 531.3,144.0 531.4,143.9 531.5,144.0 531.7,143.9 531.8,143.9 531.9,143.9 532.1,143.8 532.2,143.8 532.3,143.9 532.5,144.0 532.6,143.9 532.7,144.2 532.9,144.3 533.0,144.4 533.2,144.5 533.3,144.6 533.4,144.6 533.6,144.5 533.7,144.3 533.8,144.1 534.0,144.1 534.1,144.0 534.2,144.1 534.4,144.3 534.5,144.2 534.7,144.2 535.4,144.2 535.6,144.1 535.7,143.9 535.8,144.2 536.0,144.5 536.1,144.4 536.2,144.3 536.4,144.3 536.5,144.4 536.6,144.4 536.8,144.4 536.9,144.5 537.1,144.4 537.2,144.1 537.3,144.0 537.5,143.9 537.6,144.2 537.7,144.2 537.9,144.4 538.0,144.4 538.1,144.5 538.3,144.5 538.4,144.1 538.5,144.1 538.7,143.7 538.8,143.5 539.0,143.3 539.1,142.8 539.2,142.5 539.4,142.3 539.5,142.2 539.6,142.2 539.8,142.6 539.9,142.9 540.0,143.2 540.2,143.3 540.3,143.7 540.5,143.7 540.6,144.1 540.7,144.3 540.9,144.1 541.0,144.0 541.1,144.1 541.3,144.0 541.4,144.2 541.5,144.3 541.7,144.1 541.8,144.0 541.9,143.9 542.1,144.1 542.2,144.1 542.4,143.9 542.5,144.0 542.6,144.2 542.8,144.0 542.9,144.0 543.0,144.3 543.2,144.3 543.3,144.1" fill="none" stroke="#fb8417" stroke-width="1.5" stroke-linejoin="round"/>
<polyline points="310.6,174.6 311.4,174.3 312.2,174.2 312.9,174.5 313.7,174.3 314.5,174.3 315.3,174.6 316.0,174.3 316.8,174.5 317.6,174.6 318.4,174.6 319.1,174.5 319.9,174.7 320.7,174.5 321.5,174.4 322.2,174.4 323.0,174.3 323.8,174.3 324.6,174.2 325.3,174.5 326.1,174.6 326.9,174.6 327.7,174.7 328.4,174.4 329.2,174.4 330.0,174.6 330.8,174.5 331.6,174.5 332.3,174.7 333.1,174.7 333.9,174.6 334.7,174.8 335.4,174.6 336.2,174.5 337.0,174.6 337.8,174.3 338.5,174.5 338.7,174.5 338.9,174.2 339.0,174.3 339.2,174.3 339.3,174.2 339.5,174.2 339.7,174.1 339.8,174.1 340.0,174.0 340.1,174.2 340.3,173.9 340.5,173.9 340.6,174.0 340.8,173.8 340.9,173.5 341.1,173.3 341.3,173.2 341.4,173.0 341.6,172.8 341.7,172.3 341.9,171.8 342.1,171.1 342.2,169.8 342.4,167.9 342.5,164.9 342.7,161.0 342.9,156.4 343.0,151.8 343.2,147.7 343.3,145.1 343.5,145.8 343.7,149.2 343.8,153.8 344.0,158.4 344.1,162.6 344.3,165.9 344.5,168.5 344.6,170.1 344.8,171.3 344.9,171.9 345.1,172.5 345.3,172.9 345.4,172.9 345.6,173.3 345.7,173.3 345.9,173.6 346.1,173.5 346.2,173.6 346.4,173.7 346.5,173.8 346.7,174.0 346.9,174.3 347.0,174.1 347.2,174.2 347.3,174.4 347.5,174.2 347.7,174.2 347.8,174.4 348.0,174.4 348.1,174.5 348.3,174.2 348.5,174.4 349.2,174.2 350.0,174.2 350.8,174.5 351.6,174.6 352.3,174.3 353.1,174.3 353.9,174.5 354.7,174.6 355.4,174.6 356.2,174.7 356.4,174.6 356.5,174.4 356.7,174.6 356.9,174.5 357.0,174.3 357.2,174.1 357.3,174.4 357.5,174.6 357.7,174.3 357.8,174.4 358.0,174.5 358.1,174.3 358.3,174.4 358.5,174.2 358.6,174.1 358.8,174.2 358.9,174.1 359.1,174.2 359.3,173.9 359.4,173.9 359.6,173.8 359.7,173.2 359.9,172.9 360.1,172.2 360.2,171.3 360.4,170.3 360.5,168.8 360.7,167.1 360.9,165.6 361.0,165.1 361.2,165.5 361.3,166.9 361.5,168.3 361.7,169.8 361.8,171.1 362.0,172.1 362.1,172.9 362.3,173.1 362.5,173.4 362.6,173.7 362.8,174.1 362.9,174.4 363.1,174.5 363.3,174.6 363.4,174.4 363.6,174.4 363.7,174.5 363.9,174.3 364.1,174.3 364.2,174.2 364.4,174.1 364.5,174.3 364.7,174.2 364.9,174.1 365.0,174.0 365.2,174.4 365.3,174.3 365.5,174.1 365.7,174.5 365.8,174.3 366.0,174.2 366.1,174.6 366.9,174.5 367.7,174.4 368.5,174.3 369.2,174.6 370.0,174.4 370.8,174.7 371.6,174.8 372.4,174.5 373.1,174.6 373.9,174.7 374.7,174.7 375.5,174.6 376.2,174.7 377.0,174.5 377.8,174.4 378.6,174.6 379.3,174.6 380.1,174.8 380.9,174.5 381.7,174.6 382.4,174.4 383.2,174.5 384.0,174.5 384.8,174.7 385.5,174.7 386.3,174.8 387.1,174.8 387.9,174.7 388.6,174.4 389.4,174.6 390.2,174.8 391.0,174.6 391.8,174.8 392.5,174.9 393.3,174.8 394.1,174.8 394.9,174.5 395.6,174.7 396.4,174.5 397.2,174.6 398.0,174.8 398.7,174.8 399.5,174.6 400.3,174.7 401.1,174.7 401.2,174.9 401.4,174.8 401.5,174.6 401.7,174.5 401.9,174.6 402.0,174.7 402.2,174.5 402.3,174.4 402.5,174.5 402.7,174.7 402.8,174.5 403.0,174.6 403.1,174.6 403.3,174.8 403.5,175.0 403.6,175.0 403.8,174.8 403.9,174.8 404.1,174.6 404.3,174.7 404.4,174.5 404.6,174.7 404.7,174.5 404.9,174.1 405.1,174.1 405.2,173.9 405.4,173.9 405.5,173.4 405.7,173.3 405.9,173.6 406.0,173.7 406.2,174.0 406.3,174.0 406.5,174.2 406.7,174.6 406.8,174.7 407.0,174.9 407.1,174.6 407.3,174.8 407.5,174.7 407.6,174.6 407.8,174.8 407.9,174.6 408.1,174.6 408.3,174.4 408.4,174.2 408.6,174.2 408.7,174.3 408.9,174.4 409.1,174.5 409.2,174.7 409.4,174.6 409.5,174.4 409.7,174.5 409.9,174.3 410.0,174.5 410.2,174.6 410.3,174.6 410.5,174.4 410.7,174.5 410.8,174.4 411.6,174.6 412.4,174.4 412.5,174.4 412.7,174.2 412.9,174.5 413.0,174.6 413.2,174.3 413.3,174.4 413.5,174.4 413.7,174.2 413.8,174.3 414.0,174.0 414.1,174.1 414.3,174.3 414.5,174.3 414.6,174.0 414.8,173.7 414.9,173.8 415.1,173.4 415.3,173.0 415.4,172.7 415.6,172.1 415.7,171.3 415.9,170.4 416.1,168.7 416.2,166.5 416.4,163.7 416.5,161.3 416.7,159.2 416.9,158.6 417.0,159.9 417.2,162.1 417.3,164.6 417.5,166.9 417.7,169.1 417.8,170.4 418.0,171.5 418.1,172.6 418.3,172.9 418.5,173.3 418.6,173.3 418.8,173.8 418.9,173.8 419.1,173.8 419.3,174.0 419.4,174.2 419.6,174.2 419.7,174.0 419.9,174.1 420.1,174.1 420.2,174.2 420.4,174.1 420.5,174.2 420.7,174.2 420.9,174.5 421.0,174.4 421.2,174.2 421.3,174.3 421.5,174.4 421.7,174.2 421.8,174.3 422.0,174.2 422.8,174.4 423.5,174.4 424.3,174.3 425.1,174.3 425.9,174.4 426.6,174.5 427.4,174.5 428.2,174.6 429.0,174.7 429.7,174.8 430.5,174.9 431.3,174.9 432.1,174.6 432.8,174.7 433.6,174.5 434.4,174.6 435.2,174.4 435.9,174.5 436.7,174.6 437.5,174.7 438.3,174.8 439.1,174.8 439.8,174.9 440.6,174.9 441.4,174.9 442.2,175.0 442.9,174.7 443.7,174.5 444.5,174.6 445.3,174.5 446.0,174.7 446.2,174.6 446.4,174.6 446.5,174.4 446.7,174.2 446.8,174.3 447.0,174.3 447.2,174.3 447.3,174.6 447.5,174.7 447.6,174.8 447.8,174.6 448.0,174.5 448.1,174.5 448.3,174.5 448.4,174.2 448.6,174.2 448.8,174.0 448.9,174.1 449.1,174.0 449.2,173.8 449.4,173.8 449.6,173.4 449.7,173.2 449.9,172.8 450.0,171.6 450.2,170.6 450.4,169.1 450.5,167.1 450.7,165.6 450.8,164.1 451.0,163.6 451.2,164.6 451.3,166.2 451.5,167.7 451.6,169.2 451.8,170.7 452.0,171.8 452.1,172.6 452.3,173.0 452.4,173.7 452.6,174.0 452.8,174.2 452.9,174.2 453.1,174.0 453.2,174.3 453.4,174.5 453.6,174.6 453.7,174.4 453.9,174.4 454.0,174.6 454.2,174.5 454.4,174.6 454.5,174.8 454.7,174.8 454.8,174.5 455.0,174.4 455.2,174.5 455.3,174.4 455.5,174.3 455.6,174.6 455.8,174.8 456.0,174.8 456.1,174.8 456.9,174.7 457.1,174.5 457.2,174.7 457.4,174.8 457.5,174.7 457.7,174.6 457.9,174.8 458.0,174.7 458.2,174.6 458.3,174.5 458.5,174.7 458.7,174.8 458.8,174.7 459.0,174.7 459.1,174.7 459.3,174.6 459.5,174.4 459.6,174.3 459.8,174.6 459.9,174.6 460.1,174.6 460.3,174.5 460.4,174.7 460.6,174.7 460.7,174.6 460.9,174.6 461.1,174.3 461.2,173.9 461.4,173.6 461.5,173.6 461.7,173.5 461.9,173.4 462.0,173.3 462.2,173.7 462.3,174.1 462.5,174.0 462.7,174.3 462.8,174.6 463.0,174.6 463.1,174.8 463.3,174.7 463.5,174.5 463.6,174.8 463.8,174.7 463.9,174.5 464.1,174.7 464.3,174.8 464.4,174.6 464.6,174.9 464.7,175.0 464.9,174.9 465.1,174.6 465.2,174.6 465.4,174.6 465.5,174.7 465.7,174.5 465.9,174.7 466.0,174.7 466.2,174.9 466.3,174.9 466.5,174.8 466.7,175.0 466.8,174.8 467.0,174.9 467.8,174.7 468.5,174.9 469.3,174.8 470.1,174.8 470.9,174.9 471.6,174.7 472.4,174.6 473.2,174.7 474.0,174.7 474.7,174.8 475.5,174.7 476.3,174.9 477.1,175.1 477.8,174.9 478.6,175.1 479.4,174.8 480.2,174.6 480.9,174.8 481.7,174.9 482.5,174.7 483.3,174.9 484.1,174.9 484.8,175.0 485.6,174.7 486.4,174.8 487.2,174.7 487.9,174.8 488.7,174.6 489.5,174.6 490.3,174.9 491.0,175.1 491.8,175.1 492.6,175.0 493.4,175.2 494.1,175.0 494.9,175.1 495.7,175.0 496.5,174.8 497.2,174.9 497.4,175.0 497.6,174.7 497.7,174.6 497.9,174.6 498.0,174.9 498.2,174.9 498.4,174.9 498.5,174.9 498.7,174.7 498.8,174.6 499.0,174.6 499.2,174.9 499.3,175.1 499.5,175.0 499.6,174.7 499.8,174.9 500.0,174.6 500.1,174.9 500.3,175.0 500.4,174.9 500.6,175.0 500.8,174.9 500.9,174.4 501.1,174.1 501.2,173.9 501.4,173.7 501.6,173.7 501.7,173.6 501.9,173.5 502.0,173.7 502.2,173.7 502.4,174.1 502.5,174.2 502.7,174.4 502.8,174.7 503.0,174.9 503.2,174.8 503.3,174.9 503.5,174.9 503.6,174.6 503.8,174.8 504.0,174.9 504.1,174.9 504.3,174.6 504.4,174.5 504.6,174.5 504.8,174.8 504.9,174.8 505.1,174.6 505.2,174.8 505.4,174.7 505.6,174.6 505.7,174.7 505.9,174.5 506.0,174.8 506.2,174.6 506.4,174.8 506.5,174.6 506.7,174.6 506.8,174.7 507.0,174.8 507.8,174.9 508.6,175.0 509.3,174.7 510.1,174.8 510.9,175.0 511.7,174.9 512.4,174.9 513.2,174.7 514.0,174.5 514.8,174.5 515.5,174.8 516.3,174.8 517.1,174.8 517.9,174.9 518.6,174.7 519.4,174.5 520.2,174.8 521.0,174.7 521.7,174.8 522.5,174.9 523.3,175.1 524.1,175.0 524.9,174.9 525.6,174.8 525.8,175.0 525.9,175.0 526.1,174.9 526.3,175.0 526.4,174.7 526.6,174.8 526.7,175.0 526.9,174.9 527.1,175.0 527.2,174.8 527.4,174.8 527.6,174.6 527.7,174.8 527.9,174.7 528.0,174.6 528.2,174.7 528.4,174.5 528.5,174.4 528.7,174.2 528.8,174.2 529.0,174.4 529.2,174.0 529.3,174.0 529.5,173.5 529.6,173.2 529.8,172.8 530.0,172.4 530.1,172.0 530.3,171.7 530.4,171.9 530.6,172.7 530.8,173.0 530.9,173.4 531.1,173.9 531.2,174.0 531.4,174.4 531.6,174.3 531.7,174.3 531.9,174.4 532.0,174.6 532.2,174.7 532.4,174.8 532.5,174.8 532.7,175.0 532.8,174.7 533.0,174.8 533.2,175.0 533.3,175.0 533.5,174.9 533.6,175.1 533.8,174.8 534.0,174.7 534.1,174.8 534.3,175.0 534.4,174.7 534.6,174.8 534.8,174.6 534.9,174.6 535.1,174.6 535.2,174.7 535.4,174.9 535.6,175.1 535.7,174.9 535.9,174.9 536.0,175.0 536.2,174.7 536.4,174.9 536.5,174.8 536.7,174.8 536.8,174.7 537.0,174.9 537.2,174.9 537.3,174.9 537.5,175.0 537.6,174.9 537.8,174.7 538.0,174.5 538.1,174.6 538.3,174.5 538.4,174.4 538.6,174.3 538.8,173.9 538.9,173.6 539.1,173.4 539.2,173.1 539.4,172.7 539.6,172.7 539.7,172.8 539.9,173.2 540.0,173.7 540.2,174.1 540.4,174.1 540.5,174.3 540.7,174.7 540.8,174.7 541.0,174.8 541.2,175.0 541.3,174.7 541.5,175.0 541.6,174.7 541.8,174.8 542.0,175.0 542.1,174.8 542.3,174.7 542.4,174.7 542.6,174.9 542.8,174.7 542.9,174.6 543.1,174.7 543.2,174.8 543.4,174.6" fill="none" stroke="#9c0f17" stroke-width="1.5" stroke-linejoin="round"/>
<polyline points="310.6,204.9 311.4,205.1 312.2,205.2 312.9,205.1 313.7,205.2 314.5,205.0 315.3,204.9 316.0,205.2 316.8,205.0 317.6,205.0 318.4,204.9 319.1,204.7 319.9,204.6 320.7,204.8 321.5,204.7 322.2,204.7 323.0,204.6 323.8,205.0 324.6,204.8 325.3,205.0 326.1,205.2 326.9,205.1 327.7,204.9 328.4,204.7 329.2,204.9 330.0,204.8 330.8,205.1 331.6,204.8 332.3,205.0 333.1,205.0 333.9,205.1 334.7,205.3 335.4,205.4 336.2,205.1 337.0,205.0 337.8,204.8 338.5,204.6 339.3,204.6 339.5,204.5 339.6,204.7 339.7,204.5 339.9,204.6 340.0,204.4 340.2,204.5 340.3,204.5 340.5,204.4 340.6,204.6 340.8,204.6 340.9,204.4 341.1,204.1 341.2,204.2 341.3,204.0 341.5,203.8 341.6,203.3 341.8,202.8 341.9,202.6 342.1,201.9 342.2,201.1 342.4,199.4 342.5,196.9 342.7,193.8 342.8,189.9 342.9,185.5 343.1,180.8 343.2,176.9 343.4,175.4 343.5,177.0 343.7,180.5 343.8,185.4 344.0,189.9 344.1,193.8 344.3,196.9 344.4,199.0 344.6,200.6 344.7,201.8 344.8,202.5 345.0,203.1 345.1,203.6 345.3,204.0 345.4,204.0 345.6,204.1 345.7,203.9 345.9,204.0 346.0,204.0 346.2,204.2 346.3,204.3 346.4,204.3 346.6,204.6 346.7,204.9 346.9,204.8 347.0,204.9 347.2,204.8 347.3,205.0 347.5,205.1 347.6,205.1 347.8,205.0 347.9,205.1 348.0,205.2 348.8,205.0 349.6,205.1 350.4,205.3 351.1,204.9 351.9,205.0 352.7,204.8 353.5,204.8 354.3,204.8 355.0,205.0 355.8,205.2 356.6,204.8 356.7,204.9 356.9,205.0 357.0,205.2 357.2,205.0 357.3,204.8 357.5,204.9 357.6,204.7 357.7,204.7 357.9,204.8 358.0,204.7 358.2,204.7 358.3,204.5 358.5,204.8 358.6,205.0 358.8,205.0 358.9,205.1 359.1,205.0 359.2,204.8 359.3,204.8 359.5,204.6 359.6,204.6 359.8,204.1 359.9,203.6 360.1,203.4 360.2,202.7 360.4,201.5 360.5,200.5 360.7,198.9 360.8,197.7 360.9,196.6 361.1,196.4 361.2,197.1 361.4,198.2 361.5,199.5 361.7,200.7 361.8,202.2 362.0,203.0 362.1,203.8 362.3,204.0 362.4,204.4 362.5,204.7 362.7,204.9 362.8,205.1 363.0,205.1 363.1,205.1 363.3,205.0 363.4,204.8 363.6,204.7 363.7,204.9 363.9,205.0 364.0,204.8 364.1,205.0 364.3,204.9 364.4,204.7 364.6,204.8 364.7,204.9 364.9,205.1 365.0,205.2 365.2,204.9 365.3,205.2 365.5,205.3 365.6,205.1 365.7,205.2 366.5,205.1 367.3,205.2 368.1,205.3 368.8,205.3 369.6,205.1 370.4,205.0 371.2,205.3 372.0,205.1 372.7,205.0 373.5,205.0 374.3,205.3 375.1,205.4 375.8,205.1 376.6,205.3 377.4,205.4 378.2,205.5 378.9,205.2 379.7,204.9 380.5,204.9 381.3,204.8 382.0,204.7 382.8,205.1 383.6,205.2 384.4,205.1 385.1,205.0 385.9,204.9 386.7,204.9 387.5,205.2 388.2,205.2 389.0,205.0 389.8,205.0 390.6,205.2 391.4,205.2 392.1,205.0 392.9,205.1 393.7,205.3 394.5,205.1 395.2,205.0 396.0,205.1 396.8,205.2 397.6,205.3 398.3,205.1 399.1,205.2 399.9,205.2 400.7,204.9 401.4,204.9 401.6,205.1 401.7,205.3 401.9,205.2 402.0,205.4 402.2,205.2 402.3,205.2 402.5,205.2 402.6,205.2 402.8,205.1 402.9,205.1 403.0,205.1 403.2,205.3 403.3,205.4 403.5,205.5 403.6,205.5 403.8,205.2 403.9,205.1 404.1,205.2 404.2,205.4 404.4,205.3 404.5,205.1 404.6,205.1 404.8,205.0 404.9,205.0 405.1,204.6 405.2,204.3 405.4,204.1 405.5,203.7 405.7,203.7 405.8,203.9 406.0,204.0 406.1,204.1 406.2,204.4 406.4,204.4 406.5,204.6 406.7,204.9 406.8,204.9 407.0,205.2 407.1,204.9 407.3,205.0 407.4,205.2 407.6,205.3 407.7,205.1 407.8,205.0 408.0,204.8 408.1,205.0 408.3,204.8 408.4,204.9 408.6,205.0 408.7,204.8 408.9,204.8 409.0,204.9 409.2,205.2 409.3,205.3 409.4,205.1 409.6,205.1 409.7,205.3 409.9,205.1 410.0,205.1 410.2,205.0 410.3,205.1 411.1,205.2 411.9,205.1 412.6,205.0 412.8,204.8 412.9,204.8 413.1,204.9 413.2,204.9 413.4,204.8 413.5,204.7 413.7,205.0 413.8,204.9 414.0,204.7 414.1,204.7 414.2,204.9 414.4,205.0 414.5,204.8 414.7,204.5 414.8,204.3 415.0,204.4 415.1,204.5 415.3,204.3 415.4,203.9 415.6,203.5 415.7,203.0 415.8,202.3 416.0,201.0 416.1,199.4 416.3,197.2 416.4,194.8 416.6,192.5 416.7,190.4 416.9,190.1 417.0,191.2 417.2,193.3 417.3,195.9 417.4,198.2 417.6,199.9 417.7,201.2 417.9,202.5 418.0,203.2 418.2,203.8 418.3,203.9 418.5,204.2 418.6,204.3 418.8,204.2 418.9,204.5 419.0,204.5 419.2,204.5 419.3,204.6 419.5,204.5 419.6,204.8 419.8,204.8 419.9,204.9 420.1,205.1 420.2,204.8 420.4,205.1 420.5,205.1 420.6,204.8 420.8,205.0 420.9,205.0 421.1,204.8 421.2,205.0 421.4,205.2 421.5,205.1 422.3,205.3 423.1,205.2 423.8,205.0 424.6,204.9 425.4,204.8 426.2,205.0 427.0,204.9 427.7,204.8 428.5,204.8 429.3,205.1 430.1,205.0 430.8,205.1 431.6,205.2 432.4,205.3 433.2,205.1 433.9,205.1 434.7,205.3 435.5,205.4 436.3,205.6 437.0,205.4 437.8,205.2 438.6,205.3 439.4,205.4 440.1,205.4 440.9,205.2 441.7,205.4 442.5,205.5 443.2,205.3 444.0,205.1 444.8,205.1 445.6,205.3 446.4,205.2 446.5,205.3 446.6,205.2 446.8,205.3 446.9,205.3 447.1,205.0 447.2,205.1 447.4,205.1 447.5,204.9 447.7,205.0 447.8,205.1 448.0,205.1 448.1,205.2 448.2,205.0 448.4,204.7 448.5,204.7 448.7,204.7 448.8,204.9 449.0,205.0 449.1,204.9 449.3,205.0 449.4,204.6 449.6,204.3 449.7,203.9 449.8,203.6 450.0,203.1 450.1,202.5 450.3,201.3 450.4,199.6 450.6,198.1 450.7,196.3 450.9,195.1 451.0,194.9 451.2,195.7 451.3,197.3 451.4,198.7 451.6,200.1 451.7,201.4 451.9,202.3 452.0,203.4 452.2,204.1 452.3,204.4 452.5,204.7 452.6,204.7 452.8,204.7 452.9,204.8 453.0,204.6 453.2,205.0 453.3,205.1 453.5,205.2 453.6,205.4 453.8,205.3 453.9,205.1 454.1,204.9 454.2,204.9 454.4,205.1 454.5,205.1 454.6,205.1 454.8,205.3 454.9,205.1 455.1,204.9 455.2,204.9 455.4,205.2 455.5,205.2 455.7,204.9 456.4,204.9 457.2,205.1 457.4,205.3 457.5,205.1 457.7,205.2 457.8,205.0 457.9,204.9 458.1,205.0 458.2,205.2 458.4,205.2 458.5,205.2 458.7,205.4 458.8,205.5 459.0,205.4 459.1,205.3 459.3,205.5 459.4,205.2 459.5,205.1 459.7,205.3 459.8,205.1 460.0,205.1 460.1,205.2 460.3,205.1 460.4,205.2 460.6,205.4 460.7,205.1 460.9,205.0 461.0,204.9 461.1,204.7 461.3,204.4 461.4,204.4 461.6,204.0 461.7,204.0 461.9,203.7 462.0,203.9 462.2,204.0 462.3,204.2 462.5,204.7 462.6,205.0 462.7,204.8 462.9,204.7 463.0,204.7 463.2,204.7 463.3,204.7 463.5,205.0 463.6,205.2 463.8,205.4 463.9,205.4 464.1,205.5 464.2,205.4 464.3,205.2 464.5,205.2 464.6,205.4 464.8,205.2 464.9,205.3 465.1,205.1 465.2,205.4 465.4,205.5 465.5,205.5 465.7,205.3 465.8,205.1 465.9,205.1 466.1,205.0 466.2,205.3 466.4,205.4 466.5,205.4 467.3,205.5 468.1,205.6 468.9,205.7 469.6,205.7 470.4,205.7 471.2,205.6 472.0,205.7 472.7,205.5 473.5,205.2 474.3,205.2 475.1,205.3 475.8,205.3 476.6,205.1 477.4,205.3 478.2,205.2 478.9,205.3 479.7,205.4 480.5,205.4 481.3,205.2 482.0,205.1 482.8,205.4 483.6,205.2 484.4,205.1 485.2,205.1 485.9,205.4 486.7,205.2 487.5,205.3 488.3,205.3 489.0,205.2 489.8,205.4 490.6,205.6 491.4,205.2 492.1,205.2 492.9,205.4 493.7,205.6 494.5,205.4 495.2,205.6 496.0,205.2 496.8,205.3 497.6,205.2 497.7,205.2 497.9,205.0 498.0,205.2 498.1,205.0 498.3,205.2 498.4,205.3 498.6,205.3 498.7,205.4 498.9,205.5 499.0,205.3 499.2,205.1 499.3,205.4 499.5,205.3 499.6,205.2 499.8,205.2 499.9,205.1 500.0,205.1 500.2,205.1 500.3,205.4 500.5,205.2 500.6,205.3 500.8,205.4 500.9,205.0 501.1,204.7 501.2,204.7 501.4,204.6 501.5,204.4 501.6,204.1 501.8,204.0 501.9,203.8 502.1,203.8 502.2,204.3 502.4,204.4 502.5,204.6 502.7,204.8 502.8,205.1 503.0,205.4 503.1,205.5 503.2,205.4 503.4,205.3 503.5,205.1 503.7,205.1 503.8,205.3 504.0,205.4 504.1,205.1 504.3,205.4 504.4,205.5 504.6,205.5 504.7,205.2 504.8,205.3 505.0,205.2 505.1,205.1 505.3,205.4 505.4,205.6 505.6,205.4 505.7,205.3 505.9,205.4 506.0,205.4 506.2,205.3 506.3,205.5 506.4,205.2 506.6,205.3 507.4,205.5 508.1,205.5 508.9,205.7 509.7,205.6 510.5,205.5 511.2,205.5 512.0,205.3 512.8,205.4 513.6,205.6 514.3,205.5 515.1,205.2 515.9,205.4 516.7,205.4 517.5,205.4 518.2,205.1 519.0,205.4 519.8,205.1 520.6,205.3 521.3,205.6 522.1,205.4 522.9,205.4 523.7,205.2 524.4,205.1 525.2,205.0 526.0,205.0 526.1,205.1 526.3,205.3 526.4,205.4 526.6,205.2 526.7,205.4 526.9,205.4 527.0,205.4 527.2,205.3 527.3,205.1 527.4,205.2 527.6,205.2 527.7,205.3 527.9,205.2 528.0,205.3 528.2,205.3 528.3,205.1 528.5,205.3 528.6,205.3 528.8,205.0 528.9,204.9 529.0,204.6 529.2,204.5 529.3,204.4 529.5,204.1 529.6,203.7 529.8,203.4 529.9,202.8 530.1,202.3 530.2,202.3 530.4,202.4 530.5,202.9 530.6,203.5 530.8,204.1 530.9,204.6 531.1,204.6 531.2,204.8 531.4,204.7 531.5,205.1 531.7,205.0 531.8,205.0 532.0,205.0 532.1,205.2 532.2,205.1 532.4,205.2 532.5,205.0 532.7,205.3 532.8,205.1 533.0,205.3 533.1,205.3 533.3,205.6 533.4,205.3 533.6,205.4 533.7,205.2 533.8,205.3 534.0,205.2 534.1,205.4 534.3,205.6 534.4,205.5 534.6,205.4 534.7,205.4 534.9,205.6 535.0,205.3 535.2,205.5 535.3,205.2 535.4,205.3 535.6,205.5 535.7,205.2 535.9,205.1 536.0,205.1 536.2,205.1 536.3,205.2 536.5,205.2 536.6,205.3 536.8,205.4 536.9,205.5 537.0,205.3 537.2,205.5 537.3,205.6 537.5,205.2 537.6,205.1 537.8,205.0 537.9,205.2 538.1,205.0 538.2,205.0 538.4,204.8 538.5,204.9 538.6,204.5 538.8,204.5 538.9,204.1 539.1,204.0 539.2,203.4 539.4,203.1 539.5,202.9 539.7,203.3 539.8,203.3 540.0,203.9 540.1,204.4 540.2,204.7 540.4,204.8 540.5,204.9 540.7,205.3 540.8,205.2 541.0,205.0 541.1,205.1 541.3,205.4 541.4,205.3 541.6,205.3 541.7,205.4 541.8,205.2 542.0,205.0 542.1,205.3 542.3,205.5 542.4,205.4 542.6,205.3 542.7,205.3 542.9,205.6 543.0,205.4 543.2,205.1 543.3,205.0" fill="none" stroke="#f5188a" stroke-width="1.5" stroke-linejoin="round"/>
<rect x="310.6" y="20" width="232.79999999999995" height="188" fill="none" stroke="#6e6e6e" stroke-width="1.3"/>
<line x1="310.60" y1="208" x2="310.60" y2="211.2" stroke="#6e6e6e" stroke-width="1"/>
<text x="310.60" y="220.90" font-size="8.9" fill="#2a2a2a" text-anchor="middle"  stroke="#2a2a2a" stroke-width="0.20">20</text>
<line x1="330.00" y1="208" x2="330.00" y2="209.8" stroke="#6e6e6e" stroke-width="1"/>
<line x1="349.40" y1="208" x2="349.40" y2="211.2" stroke="#6e6e6e" stroke-width="1"/>
<text x="349.40" y="220.90" font-size="8.9" fill="#2a2a2a" text-anchor="middle"  stroke="#2a2a2a" stroke-width="0.20">30</text>
<line x1="368.80" y1="208" x2="368.80" y2="209.8" stroke="#6e6e6e" stroke-width="1"/>
<line x1="388.20" y1="208" x2="388.20" y2="211.2" stroke="#6e6e6e" stroke-width="1"/>
<text x="388.20" y="220.90" font-size="8.9" fill="#2a2a2a" text-anchor="middle"  stroke="#2a2a2a" stroke-width="0.20">40</text>
<line x1="407.60" y1="208" x2="407.60" y2="209.8" stroke="#6e6e6e" stroke-width="1"/>
<line x1="427.00" y1="208" x2="427.00" y2="211.2" stroke="#6e6e6e" stroke-width="1"/>
<text x="427.00" y="220.90" font-size="8.9" fill="#2a2a2a" text-anchor="middle"  stroke="#2a2a2a" stroke-width="0.20">50</text>
<line x1="446.40" y1="208" x2="446.40" y2="209.8" stroke="#6e6e6e" stroke-width="1"/>
<line x1="465.80" y1="208" x2="465.80" y2="211.2" stroke="#6e6e6e" stroke-width="1"/>
<text x="465.80" y="220.90" font-size="8.9" fill="#2a2a2a" text-anchor="middle"  stroke="#2a2a2a" stroke-width="0.20">60</text>
<line x1="485.20" y1="208" x2="485.20" y2="209.8" stroke="#6e6e6e" stroke-width="1"/>
<line x1="504.60" y1="208" x2="504.60" y2="211.2" stroke="#6e6e6e" stroke-width="1"/>
<text x="504.60" y="220.90" font-size="8.9" fill="#2a2a2a" text-anchor="middle"  stroke="#2a2a2a" stroke-width="0.20">70</text>
<line x1="524.00" y1="208" x2="524.00" y2="209.8" stroke="#6e6e6e" stroke-width="1"/>
<line x1="543.40" y1="208" x2="543.40" y2="211.2" stroke="#6e6e6e" stroke-width="1"/>
<text x="543.40" y="220.90" font-size="8.9" fill="#2a2a2a" text-anchor="middle"  stroke="#2a2a2a" stroke-width="0.20">80</text>
<line x1="433.0" y1="30.4" x2="457.8" y2="30.4" stroke="#9a1df2" stroke-width="1.6"/>
<text x="460.70" y="34.00" font-size="10.2" fill="#080808" text-anchor="start" textLength="81.0" lengthAdjust="spacingAndGlyphs" stroke="#080808" stroke-width="0.22">Ni/HT_NH3_180</text>
<line x1="433.0" y1="63.5" x2="457.8" y2="63.5" stroke="#1c1cf5" stroke-width="1.6"/>
<text x="460.70" y="67.10" font-size="10.2" fill="#080808" text-anchor="start" textLength="81.0" lengthAdjust="spacingAndGlyphs" stroke="#080808" stroke-width="0.22">Ni/HT_NH3_100</text>
<line x1="441.7" y1="92.3" x2="466.6" y2="92.3" stroke="#1f8a80" stroke-width="1.6"/>
<text x="470.00" y="95.90" font-size="10.2" fill="#080808" text-anchor="start" textLength="56.9" lengthAdjust="spacingAndGlyphs" stroke="#080808" stroke-width="0.22">Ni/CP_NH3</text>
<line x1="422.0" y1="123.3" x2="446.0" y2="123.3" stroke="#fb8417" stroke-width="1.6"/>
<text x="449.50" y="126.90" font-size="10.2" fill="#080808" text-anchor="start" textLength="89.0" lengthAdjust="spacingAndGlyphs" stroke="#080808" stroke-width="0.22">Ni/HT_NaOH_180</text>
<line x1="422.0" y1="154.5" x2="446.0" y2="154.5" stroke="#9c0f17" stroke-width="1.6"/>
<text x="449.50" y="158.10" font-size="10.2" fill="#080808" text-anchor="start" textLength="89.0" lengthAdjust="spacingAndGlyphs" stroke="#080808" stroke-width="0.22">Ni/HT_NaOH_100</text>
<line x1="436.7" y1="183.5" x2="460.9" y2="183.5" stroke="#f5188a" stroke-width="1.6"/>
<text x="464.70" y="187.10" font-size="10.2" fill="#080808" text-anchor="start" textLength="65.0" lengthAdjust="spacingAndGlyphs" stroke="#080808" stroke-width="0.22">Ni/CP_NaOH</text>
<polygon points="348.80,23.10 349.48,24.57 351.08,24.76 349.90,25.86 350.21,27.44 348.80,26.65 347.39,27.44 347.70,25.86 346.52,24.76 348.12,24.57" fill="#111"/>
<polygon points="361.30,34.90 361.98,36.37 363.58,36.56 362.40,37.66 362.71,39.24 361.30,38.45 359.89,39.24 360.20,37.66 359.02,36.56 360.62,36.37" fill="#111"/>
<polygon points="417.00,31.10 417.68,32.57 419.28,32.76 418.10,33.86 418.41,35.44 417.00,34.65 415.59,35.44 415.90,33.86 414.72,32.76 416.32,32.57" fill="#111"/>
<polygon points="451.40,35.10 452.08,36.57 453.68,36.76 452.50,37.86 452.81,39.44 451.40,38.65 449.99,39.44 450.30,37.86 449.12,36.76 450.72,36.57" fill="#111"/>
<polygon points="462.00,42.90 462.68,44.37 464.28,44.56 463.10,45.66 463.41,47.24 462.00,46.45 460.59,47.24 460.90,45.66 459.72,44.56 461.32,44.37" fill="#111"/>
<polygon points="502.30,42.20 502.98,43.67 504.58,43.86 503.40,44.96 503.71,46.54 502.30,45.75 500.89,46.54 501.20,44.96 500.02,43.86 501.62,43.67" fill="#111"/>
<polygon points="529.20,42.20 529.88,43.67 531.48,43.86 530.30,44.96 530.61,46.54 529.20,45.75 527.79,46.54 528.10,44.96 526.92,43.86 528.52,43.67" fill="#111"/>
<polygon points="539.40,43.30 540.08,44.77 541.68,44.96 540.50,46.06 540.81,47.64 539.40,46.85 537.99,47.64 538.30,46.06 537.12,44.96 538.72,44.77" fill="#111"/>
<circle cx="405.40" cy="45.00" r="1.5" fill="none" stroke="#222" stroke-width="0.9"/>
<circle cx="405.40" cy="75.70" r="1.5" fill="none" stroke="#222" stroke-width="0.9"/>
<circle cx="405.40" cy="107.70" r="1.5" fill="none" stroke="#222" stroke-width="0.9"/>
<circle cx="405.40" cy="137.30" r="1.5" fill="none" stroke="#222" stroke-width="0.9"/>
<circle cx="405.40" cy="168.30" r="1.5" fill="none" stroke="#222" stroke-width="0.9"/>
<circle cx="405.40" cy="198.40" r="1.5" fill="none" stroke="#222" stroke-width="0.9"/>
<text x="315.70" y="39.70" font-size="15" fill="#080808" text-anchor="start"  stroke="#080808" stroke-width="0.33">(b)</text>
<polygon points="83.70,5.30 84.41,6.83 86.08,7.03 84.84,8.17 85.17,9.82 83.70,9.00 82.23,9.82 82.56,8.17 81.32,7.03 82.99,6.83" fill="#111"/>
<text x="87.5" y="12.2" font-size="12.4" fill="#080808" stroke="#080808" stroke-width="0.27">CeO<tspan font-size="7.8" dy="4.2">2</tspan><tspan dy="-4.2"> (Pr-doped CeO</tspan><tspan font-size="7.8" dy="4.2">2</tspan><tspan dy="-4.2">)</tspan></text>
<polygon points="322.80,5.30 323.51,6.83 325.18,7.03 323.94,8.17 324.27,9.82 322.80,9.00 321.33,9.82 321.66,8.17 320.42,7.03 322.09,6.83" fill="#111"/>
<text x="328.8" y="12.2" font-size="12.4" fill="#080808" stroke="#080808" stroke-width="0.27">CeO<tspan font-size="7.8" dy="4.2">2</tspan><tspan dy="-4.2"> (Pr-doped CeO</tspan><tspan font-size="7.8" dy="4.2">2</tspan><tspan dy="-4.2">)</tspan></text>
<circle cx="495.60" cy="7.60" r="1.5" fill="none" stroke="#222" stroke-width="0.9"/>
<text x="500.6" y="12.2" font-size="12.6" fill="#080808" stroke="#080808" stroke-width="0.28">Ni<tspan font-size="8" dy="-5.5">0</tspan></text>
<text x="0" y="0" font-size="12.7" fill="#080808" text-anchor="middle" transform="translate(12.9,112.8) rotate(-90)" stroke="#080808" stroke-width="0.28">Normalized Intensity (a.u.)</text>
<text x="0" y="0" font-size="12.7" fill="#080808" text-anchor="middle" transform="translate(299.6,113.7) rotate(-90)" stroke="#080808" stroke-width="0.28">Normalized Intensity (a.u.)</text>
<text x="120.3" y="238" font-size="12.2" fill="#080808" stroke="#080808" stroke-width="0.27">2theta (<tspan font-size="7.5" dx="0.9" dy="-5">o</tspan><tspan dx="0.9" dy="5">)</tspan></text>
<text x="401.6" y="238" font-size="12.2" fill="#080808" stroke="#080808" stroke-width="0.27">2theta (<tspan font-size="7.5" dx="0.9" dy="-5">o</tspan><tspan dx="0.9" dy="5">)</tspan></text>
<line x1="41.9" y1="248.5" x2="41.9" y2="425.4" stroke="#6e6e6e" stroke-width="1.1"/>
<line x1="41.9" y1="425.4" x2="263" y2="425.4" stroke="#6e6e6e" stroke-width="1.1"/>
<line x1="38.9" y1="425.40" x2="41.9" y2="425.40" stroke="#6e6e6e" stroke-width="1"/>
<text x="36.00" y="428.10" font-size="8.1" fill="#2a2a2a" text-anchor="end"  stroke="#2a2a2a" stroke-width="0.18">0</text>
<line x1="40.3" y1="419.90" x2="41.9" y2="419.90" stroke="#6e6e6e" stroke-width="1"/>
<line x1="38.9" y1="414.40" x2="41.9" y2="414.40" stroke="#6e6e6e" stroke-width="1"/>
<text x="36.00" y="417.10" font-size="8.1" fill="#2a2a2a" text-anchor="end"  stroke="#2a2a2a" stroke-width="0.18">20</text>
<line x1="40.3" y1="408.90" x2="41.9" y2="408.90" stroke="#6e6e6e" stroke-width="1"/>
<line x1="38.9" y1="403.40" x2="41.9" y2="403.40" stroke="#6e6e6e" stroke-width="1"/>
<text x="36.00" y="406.10" font-size="8.1" fill="#2a2a2a" text-anchor="end"  stroke="#2a2a2a" stroke-width="0.18">40</text>
<line x1="40.3" y1="397.90" x2="41.9" y2="397.90" stroke="#6e6e6e" stroke-width="1"/>
<line x1="38.9" y1="392.40" x2="41.9" y2="392.40" stroke="#6e6e6e" stroke-width="1"/>
<text x="36.00" y="395.10" font-size="8.1" fill="#2a2a2a" text-anchor="end"  stroke="#2a2a2a" stroke-width="0.18">60</text>
<line x1="40.3" y1="386.90" x2="41.9" y2="386.90" stroke="#6e6e6e" stroke-width="1"/>
<line x1="38.9" y1="381.40" x2="41.9" y2="381.40" stroke="#6e6e6e" stroke-width="1"/>
<text x="36.00" y="384.10" font-size="8.1" fill="#2a2a2a" text-anchor="end"  stroke="#2a2a2a" stroke-width="0.18">80</text>
<line x1="40.3" y1="375.90" x2="41.9" y2="375.90" stroke="#6e6e6e" stroke-width="1"/>
<line x1="38.9" y1="370.40" x2="41.9" y2="370.40" stroke="#6e6e6e" stroke-width="1"/>
<text x="36.00" y="373.10" font-size="8.1" fill="#2a2a2a" text-anchor="end"  stroke="#2a2a2a" stroke-width="0.18">100</text>
<line x1="40.3" y1="364.90" x2="41.9" y2="364.90" stroke="#6e6e6e" stroke-width="1"/>
<line x1="38.9" y1="359.40" x2="41.9" y2="359.40" stroke="#6e6e6e" stroke-width="1"/>
<text x="36.00" y="362.10" font-size="8.1" fill="#2a2a2a" text-anchor="end"  stroke="#2a2a2a" stroke-width="0.18">120</text>
<line x1="40.3" y1="353.90" x2="41.9" y2="353.90" stroke="#6e6e6e" stroke-width="1"/>
<line x1="38.9" y1="348.40" x2="41.9" y2="348.40" stroke="#6e6e6e" stroke-width="1"/>
<text x="36.00" y="351.10" font-size="8.1" fill="#2a2a2a" text-anchor="end"  stroke="#2a2a2a" stroke-width="0.18">140</text>
<line x1="40.3" y1="342.90" x2="41.9" y2="342.90" stroke="#6e6e6e" stroke-width="1"/>
<line x1="38.9" y1="337.40" x2="41.9" y2="337.40" stroke="#6e6e6e" stroke-width="1"/>
<text x="36.00" y="340.10" font-size="8.1" fill="#2a2a2a" text-anchor="end"  stroke="#2a2a2a" stroke-width="0.18">160</text>
<line x1="40.3" y1="331.90" x2="41.9" y2="331.90" stroke="#6e6e6e" stroke-width="1"/>
<line x1="38.9" y1="326.40" x2="41.9" y2="326.40" stroke="#6e6e6e" stroke-width="1"/>
<text x="36.00" y="329.10" font-size="8.1" fill="#2a2a2a" text-anchor="end"  stroke="#2a2a2a" stroke-width="0.18">180</text>
<line x1="40.3" y1="320.90" x2="41.9" y2="320.90" stroke="#6e6e6e" stroke-width="1"/>
<line x1="38.9" y1="315.40" x2="41.9" y2="315.40" stroke="#6e6e6e" stroke-width="1"/>
<text x="36.00" y="318.10" font-size="8.1" fill="#2a2a2a" text-anchor="end"  stroke="#2a2a2a" stroke-width="0.18">200</text>
<line x1="40.3" y1="309.90" x2="41.9" y2="309.90" stroke="#6e6e6e" stroke-width="1"/>
<line x1="38.9" y1="304.40" x2="41.9" y2="304.40" stroke="#6e6e6e" stroke-width="1"/>
<text x="36.00" y="307.10" font-size="8.1" fill="#2a2a2a" text-anchor="end"  stroke="#2a2a2a" stroke-width="0.18">220</text>
<line x1="40.3" y1="298.90" x2="41.9" y2="298.90" stroke="#6e6e6e" stroke-width="1"/>
<line x1="38.9" y1="293.40" x2="41.9" y2="293.40" stroke="#6e6e6e" stroke-width="1"/>
<text x="36.00" y="296.10" font-size="8.1" fill="#2a2a2a" text-anchor="end"  stroke="#2a2a2a" stroke-width="0.18">240</text>
<line x1="40.3" y1="287.90" x2="41.9" y2="287.90" stroke="#6e6e6e" stroke-width="1"/>
<line x1="38.9" y1="282.40" x2="41.9" y2="282.40" stroke="#6e6e6e" stroke-width="1"/>
<text x="36.00" y="285.10" font-size="8.1" fill="#2a2a2a" text-anchor="end"  stroke="#2a2a2a" stroke-width="0.18">260</text>
<line x1="40.3" y1="276.90" x2="41.9" y2="276.90" stroke="#6e6e6e" stroke-width="1"/>
<line x1="38.9" y1="271.40" x2="41.9" y2="271.40" stroke="#6e6e6e" stroke-width="1"/>
<text x="36.00" y="274.10" font-size="8.1" fill="#2a2a2a" text-anchor="end"  stroke="#2a2a2a" stroke-width="0.18">280</text>
<line x1="40.3" y1="265.90" x2="41.9" y2="265.90" stroke="#6e6e6e" stroke-width="1"/>
<line x1="38.9" y1="260.40" x2="41.9" y2="260.40" stroke="#6e6e6e" stroke-width="1"/>
<text x="36.00" y="263.10" font-size="8.1" fill="#2a2a2a" text-anchor="end"  stroke="#2a2a2a" stroke-width="0.18">300</text>
<line x1="40.3" y1="254.90" x2="41.9" y2="254.90" stroke="#6e6e6e" stroke-width="1"/>
<line x1="38.9" y1="249.40" x2="41.9" y2="249.40" stroke="#6e6e6e" stroke-width="1"/>
<text x="36.00" y="252.10" font-size="8.1" fill="#2a2a2a" text-anchor="end"  stroke="#2a2a2a" stroke-width="0.18">320</text>
<line x1="41.90" y1="425.4" x2="41.90" y2="428.4" stroke="#6e6e6e" stroke-width="1"/>
<text x="41.90" y="438.30" font-size="8.1" fill="#2a2a2a" text-anchor="middle"  stroke="#2a2a2a" stroke-width="0.18">0.0</text>
<line x1="52.87" y1="425.4" x2="52.87" y2="427.0" stroke="#6e6e6e" stroke-width="1"/>
<line x1="63.83" y1="425.4" x2="63.83" y2="428.4" stroke="#6e6e6e" stroke-width="1"/>
<text x="63.83" y="438.30" font-size="8.1" fill="#2a2a2a" text-anchor="middle"  stroke="#2a2a2a" stroke-width="0.18">0.1</text>
<line x1="74.80" y1="425.4" x2="74.80" y2="427.0" stroke="#6e6e6e" stroke-width="1"/>
<line x1="85.76" y1="425.4" x2="85.76" y2="428.4" stroke="#6e6e6e" stroke-width="1"/>
<text x="85.76" y="438.30" font-size="8.1" fill="#2a2a2a" text-anchor="middle"  stroke="#2a2a2a" stroke-width="0.18">0.2</text>
<line x1="96.72" y1="425.4" x2="96.72" y2="427.0" stroke="#6e6e6e" stroke-width="1"/>
<line x1="107.69" y1="425.4" x2="107.69" y2="428.4" stroke="#6e6e6e" stroke-width="1"/>
<text x="107.69" y="438.30" font-size="8.1" fill="#2a2a2a" text-anchor="middle"  stroke="#2a2a2a" stroke-width="0.18">0.3</text>
<line x1="118.66" y1="425.4" x2="118.66" y2="427.0" stroke="#6e6e6e" stroke-width="1"/>
<line x1="129.62" y1="425.4" x2="129.62" y2="428.4" stroke="#6e6e6e" stroke-width="1"/>
<text x="129.62" y="438.30" font-size="8.1" fill="#2a2a2a" text-anchor="middle"  stroke="#2a2a2a" stroke-width="0.18">0.4</text>
<line x1="140.59" y1="425.4" x2="140.59" y2="427.0" stroke="#6e6e6e" stroke-width="1"/>
<line x1="151.55" y1="425.4" x2="151.55" y2="428.4" stroke="#6e6e6e" stroke-width="1"/>
<text x="151.55" y="438.30" font-size="8.1" fill="#2a2a2a" text-anchor="middle"  stroke="#2a2a2a" stroke-width="0.18">0.5</text>
<line x1="162.52" y1="425.4" x2="162.52" y2="427.0" stroke="#6e6e6e" stroke-width="1"/>
<line x1="173.48" y1="425.4" x2="173.48" y2="428.4" stroke="#6e6e6e" stroke-width="1"/>
<text x="173.48" y="438.30" font-size="8.1" fill="#2a2a2a" text-anchor="middle"  stroke="#2a2a2a" stroke-width="0.18">0.6</text>
<line x1="184.45" y1="425.4" x2="184.45" y2="427.0" stroke="#6e6e6e" stroke-width="1"/>
<line x1="195.41" y1="425.4" x2="195.41" y2="428.4" stroke="#6e6e6e" stroke-width="1"/>
<text x="195.41" y="438.30" font-size="8.1" fill="#2a2a2a" text-anchor="middle"  stroke="#2a2a2a" stroke-width="0.18">0.7</text>
<line x1="206.38" y1="425.4" x2="206.38" y2="427.0" stroke="#6e6e6e" stroke-width="1"/>
<line x1="217.34" y1="425.4" x2="217.34" y2="428.4" stroke="#6e6e6e" stroke-width="1"/>
<text x="217.34" y="438.30" font-size="8.1" fill="#2a2a2a" text-anchor="middle"  stroke="#2a2a2a" stroke-width="0.18">0.8</text>
<line x1="228.31" y1="425.4" x2="228.31" y2="427.0" stroke="#6e6e6e" stroke-width="1"/>
<line x1="239.27" y1="425.4" x2="239.27" y2="428.4" stroke="#6e6e6e" stroke-width="1"/>
<text x="239.27" y="438.30" font-size="8.1" fill="#2a2a2a" text-anchor="middle"  stroke="#2a2a2a" stroke-width="0.18">0.9</text>
<line x1="250.24" y1="425.4" x2="250.24" y2="427.0" stroke="#6e6e6e" stroke-width="1"/>
<line x1="261.20" y1="425.4" x2="261.20" y2="428.4" stroke="#6e6e6e" stroke-width="1"/>
<text x="261.20" y="438.30" font-size="8.1" fill="#2a2a2a" text-anchor="middle"  stroke="#2a2a2a" stroke-width="0.18">1.0</text>
<line x1="188.1" y1="256.5" x2="188.1" y2="336.8" stroke="#888" stroke-width="0.7" stroke-dasharray="1.5,1.5"/>
<line x1="105.4" y1="254.5" x2="105.4" y2="336.8" stroke="#777" stroke-width="0.8"/>
<line x1="105.4" y1="336.8" x2="206.5" y2="336.8" stroke="#777" stroke-width="0.8"/>
<line x1="103.80000000000001" y1="336.80" x2="105.4" y2="336.80" stroke="#777" stroke-width="0.6"/>
<text x="102.60" y="338.30" font-size="4.4" fill="#555" text-anchor="end"  stroke="#555" stroke-width="0.10">0.00</text>
<line x1="104.5" y1="330.07" x2="105.4" y2="330.07" stroke="#777" stroke-width="0.6"/>
<line x1="103.80000000000001" y1="323.35" x2="105.4" y2="323.35" stroke="#777" stroke-width="0.6"/>
<text x="102.60" y="324.85" font-size="4.4" fill="#555" text-anchor="end"  stroke="#555" stroke-width="0.10">0.02</text>
<line x1="104.5" y1="316.62" x2="105.4" y2="316.62" stroke="#777" stroke-width="0.6"/>
<line x1="103.80000000000001" y1="309.90" x2="105.4" y2="309.90" stroke="#777" stroke-width="0.6"/>
<text x="102.60" y="311.40" font-size="4.4" fill="#555" text-anchor="end"  stroke="#555" stroke-width="0.10">0.04</text>
<line x1="104.5" y1="303.18" x2="105.4" y2="303.18" stroke="#777" stroke-width="0.6"/>
<line x1="103.80000000000001" y1="296.45" x2="105.4" y2="296.45" stroke="#777" stroke-width="0.6"/>
<text x="102.60" y="297.95" font-size="4.4" fill="#555" text-anchor="end"  stroke="#555" stroke-width="0.10">0.06</text>
<line x1="104.5" y1="289.73" x2="105.4" y2="289.73" stroke="#777" stroke-width="0.6"/>
<line x1="103.80000000000001" y1="283.00" x2="105.4" y2="283.00" stroke="#777" stroke-width="0.6"/>
<text x="102.60" y="284.50" font-size="4.4" fill="#555" text-anchor="end"  stroke="#555" stroke-width="0.10">0.08</text>
<line x1="104.5" y1="276.28" x2="105.4" y2="276.28" stroke="#777" stroke-width="0.6"/>
<line x1="103.80000000000001" y1="269.55" x2="105.4" y2="269.55" stroke="#777" stroke-width="0.6"/>
<text x="102.60" y="271.05" font-size="4.4" fill="#555" text-anchor="end"  stroke="#555" stroke-width="0.10">0.10</text>
<line x1="104.5" y1="262.83" x2="105.4" y2="262.83" stroke="#777" stroke-width="0.6"/>
<line x1="103.80000000000001" y1="256.10" x2="105.4" y2="256.10" stroke="#777" stroke-width="0.6"/>
<text x="102.60" y="257.60" font-size="4.4" fill="#555" text-anchor="end"  stroke="#555" stroke-width="0.10">0.12</text>
<line x1="105.42" y1="336.8" x2="105.42" y2="337.7" stroke="#777" stroke-width="0.6"/>
<line x1="115.85" y1="336.8" x2="115.85" y2="337.7" stroke="#777" stroke-width="0.6"/>
<line x1="123.24" y1="336.8" x2="123.24" y2="337.7" stroke="#777" stroke-width="0.6"/>
<line x1="128.98" y1="336.8" x2="128.98" y2="337.7" stroke="#777" stroke-width="0.6"/>
<line x1="133.67" y1="336.8" x2="133.67" y2="337.7" stroke="#777" stroke-width="0.6"/>
<line x1="137.63" y1="336.8" x2="137.63" y2="337.7" stroke="#777" stroke-width="0.6"/>
<line x1="141.06" y1="336.8" x2="141.06" y2="337.7" stroke="#777" stroke-width="0.6"/>
<line x1="144.09" y1="336.8" x2="144.09" y2="337.7" stroke="#777" stroke-width="0.6"/>
<line x1="146.80" y1="336.8" x2="146.80" y2="338.40000000000003" stroke="#777" stroke-width="0.6"/>
<line x1="164.62" y1="336.8" x2="164.62" y2="337.7" stroke="#777" stroke-width="0.6"/>
<line x1="175.05" y1="336.8" x2="175.05" y2="337.7" stroke="#777" stroke-width="0.6"/>
<line x1="182.44" y1="336.8" x2="182.44" y2="337.7" stroke="#777" stroke-width="0.6"/>
<line x1="188.18" y1="336.8" x2="188.18" y2="337.7" stroke="#777" stroke-width="0.6"/>
<line x1="192.87" y1="336.8" x2="192.87" y2="337.7" stroke="#777" stroke-width="0.6"/>
<line x1="196.83" y1="336.8" x2="196.83" y2="337.7" stroke="#777" stroke-width="0.6"/>
<line x1="200.26" y1="336.8" x2="200.26" y2="337.7" stroke="#777" stroke-width="0.6"/>
<line x1="203.29" y1="336.8" x2="203.29" y2="337.7" stroke="#777" stroke-width="0.6"/>
<line x1="206.00" y1="336.8" x2="206.00" y2="338.40000000000003" stroke="#777" stroke-width="0.6"/>
<text x="146.80" y="342.10" font-size="4.4" fill="#555" text-anchor="middle"  stroke="#555" stroke-width="0.10">10</text>
<text x="206.00" y="342.10" font-size="4.4" fill="#555" text-anchor="middle"  stroke="#555" stroke-width="0.10">100</text>
<text x="134.30" y="349.30" font-size="5.9" fill="#2a2a2a" text-anchor="start"  stroke="#2a2a2a" stroke-width="0.13">Pore width (nm)</text>
<text x="0" y="0" font-size="6.0" fill="#333" text-anchor="middle" transform="translate(89.3,296) rotate(-90)" stroke="#333" stroke-width="0.13">Incremental Pore Volume (cm<tspan font-size="3.60" dy="-2.40">3</tspan><tspan dy="2.40">/g)</tspan></text>
<polyline points="106.00,336.13 112.00,336.80 120.00,336.46 130.00,336.80 140.00,336.13 148.00,335.45 155.00,334.11 163.00,331.42 170.00,328.06 176.80,324.02 186.80,291.74 204.80,326.04" fill="none" stroke="#1f8a80" stroke-width="0.8" stroke-linejoin="round"/>
<path d="M105.15,336.13a0.85,0.85 0 1,0 1.7,0a0.85,0.85 0 1,0 -1.7,0M111.15,336.80a0.85,0.85 0 1,0 1.7,0a0.85,0.85 0 1,0 -1.7,0M119.15,336.46a0.85,0.85 0 1,0 1.7,0a0.85,0.85 0 1,0 -1.7,0M129.15,336.80a0.85,0.85 0 1,0 1.7,0a0.85,0.85 0 1,0 -1.7,0M139.15,336.13a0.85,0.85 0 1,0 1.7,0a0.85,0.85 0 1,0 -1.7,0M147.15,335.45a0.85,0.85 0 1,0 1.7,0a0.85,0.85 0 1,0 -1.7,0M154.15,334.11a0.85,0.85 0 1,0 1.7,0a0.85,0.85 0 1,0 -1.7,0M162.15,331.42a0.85,0.85 0 1,0 1.7,0a0.85,0.85 0 1,0 -1.7,0M169.15,328.06a0.85,0.85 0 1,0 1.7,0a0.85,0.85 0 1,0 -1.7,0M175.95,324.02a0.85,0.85 0 1,0 1.7,0a0.85,0.85 0 1,0 -1.7,0M185.95,291.74a0.85,0.85 0 1,0 1.7,0a0.85,0.85 0 1,0 -1.7,0M203.95,326.04a0.85,0.85 0 1,0 1.7,0a0.85,0.85 0 1,0 -1.7,0" fill="#1f8a80"/>
<polyline points="106.00,335.79 112.00,336.13 120.00,336.13 130.00,336.80 140.00,336.80 148.00,336.13 155.00,334.78 163.00,332.09 169.00,328.73 176.80,313.26 188.20,290.40 204.60,328.06" fill="none" stroke="#9c0f17" stroke-width="0.8" stroke-linejoin="round"/>
<path d="M105.15,335.79a0.85,0.85 0 1,0 1.7,0a0.85,0.85 0 1,0 -1.7,0M111.15,336.13a0.85,0.85 0 1,0 1.7,0a0.85,0.85 0 1,0 -1.7,0M119.15,336.13a0.85,0.85 0 1,0 1.7,0a0.85,0.85 0 1,0 -1.7,0M129.15,336.80a0.85,0.85 0 1,0 1.7,0a0.85,0.85 0 1,0 -1.7,0M139.15,336.80a0.85,0.85 0 1,0 1.7,0a0.85,0.85 0 1,0 -1.7,0M147.15,336.13a0.85,0.85 0 1,0 1.7,0a0.85,0.85 0 1,0 -1.7,0M154.15,334.78a0.85,0.85 0 1,0 1.7,0a0.85,0.85 0 1,0 -1.7,0M162.15,332.09a0.85,0.85 0 1,0 1.7,0a0.85,0.85 0 1,0 -1.7,0M168.15,328.73a0.85,0.85 0 1,0 1.7,0a0.85,0.85 0 1,0 -1.7,0M175.95,313.26a0.85,0.85 0 1,0 1.7,0a0.85,0.85 0 1,0 -1.7,0M187.35,290.40a0.85,0.85 0 1,0 1.7,0a0.85,0.85 0 1,0 -1.7,0M203.75,328.06a0.85,0.85 0 1,0 1.7,0a0.85,0.85 0 1,0 -1.7,0" fill="#9c0f17"/>
<polyline points="106.00,336.13 114.00,336.80 125.00,336.80 140.00,336.80 150.00,336.80 160.00,336.80 168.00,336.80 173.50,331.42 188.20,323.35 204.00,329.40" fill="none" stroke="#1c1cf5" stroke-width="0.8" stroke-linejoin="round"/>
<path d="M105.15,336.13a0.85,0.85 0 1,0 1.7,0a0.85,0.85 0 1,0 -1.7,0M113.15,336.80a0.85,0.85 0 1,0 1.7,0a0.85,0.85 0 1,0 -1.7,0M124.15,336.80a0.85,0.85 0 1,0 1.7,0a0.85,0.85 0 1,0 -1.7,0M139.15,336.80a0.85,0.85 0 1,0 1.7,0a0.85,0.85 0 1,0 -1.7,0M149.15,336.80a0.85,0.85 0 1,0 1.7,0a0.85,0.85 0 1,0 -1.7,0M159.15,336.80a0.85,0.85 0 1,0 1.7,0a0.85,0.85 0 1,0 -1.7,0M167.15,336.80a0.85,0.85 0 1,0 1.7,0a0.85,0.85 0 1,0 -1.7,0M172.65,331.42a0.85,0.85 0 1,0 1.7,0a0.85,0.85 0 1,0 -1.7,0M187.35,323.35a0.85,0.85 0 1,0 1.7,0a0.85,0.85 0 1,0 -1.7,0M203.15,329.40a0.85,0.85 0 1,0 1.7,0a0.85,0.85 0 1,0 -1.7,0" fill="#1c1cf5"/>
<polyline points="106.00,336.80 114.00,336.80 125.00,336.80 140.00,336.80 150.00,336.80 160.00,336.80 168.00,336.13 173.50,332.76 188.20,324.02 204.00,330.75" fill="none" stroke="#9a1df2" stroke-width="0.8" stroke-linejoin="round"/>
<path d="M105.15,336.80a0.85,0.85 0 1,0 1.7,0a0.85,0.85 0 1,0 -1.7,0M113.15,336.80a0.85,0.85 0 1,0 1.7,0a0.85,0.85 0 1,0 -1.7,0M124.15,336.80a0.85,0.85 0 1,0 1.7,0a0.85,0.85 0 1,0 -1.7,0M139.15,336.80a0.85,0.85 0 1,0 1.7,0a0.85,0.85 0 1,0 -1.7,0M149.15,336.80a0.85,0.85 0 1,0 1.7,0a0.85,0.85 0 1,0 -1.7,0M159.15,336.80a0.85,0.85 0 1,0 1.7,0a0.85,0.85 0 1,0 -1.7,0M167.15,336.13a0.85,0.85 0 1,0 1.7,0a0.85,0.85 0 1,0 -1.7,0M172.65,332.76a0.85,0.85 0 1,0 1.7,0a0.85,0.85 0 1,0 -1.7,0M187.35,324.02a0.85,0.85 0 1,0 1.7,0a0.85,0.85 0 1,0 -1.7,0M203.15,330.75a0.85,0.85 0 1,0 1.7,0a0.85,0.85 0 1,0 -1.7,0" fill="#9a1df2"/>
<polyline points="106.00,336.80 120.00,336.80 140.00,336.80 160.00,336.80 170.00,336.80 176.00,336.80 182.00,336.13 188.20,329.40 204.00,332.09" fill="none" stroke="#fb8417" stroke-width="0.8" stroke-linejoin="round"/>
<path d="M105.15,336.80a0.85,0.85 0 1,0 1.7,0a0.85,0.85 0 1,0 -1.7,0M119.15,336.80a0.85,0.85 0 1,0 1.7,0a0.85,0.85 0 1,0 -1.7,0M139.15,336.80a0.85,0.85 0 1,0 1.7,0a0.85,0.85 0 1,0 -1.7,0M159.15,336.80a0.85,0.85 0 1,0 1.7,0a0.85,0.85 0 1,0 -1.7,0M169.15,336.80a0.85,0.85 0 1,0 1.7,0a0.85,0.85 0 1,0 -1.7,0M175.15,336.80a0.85,0.85 0 1,0 1.7,0a0.85,0.85 0 1,0 -1.7,0M181.15,336.13a0.85,0.85 0 1,0 1.7,0a0.85,0.85 0 1,0 -1.7,0M187.35,329.40a0.85,0.85 0 1,0 1.7,0a0.85,0.85 0 1,0 -1.7,0M203.15,332.09a0.85,0.85 0 1,0 1.7,0a0.85,0.85 0 1,0 -1.7,0" fill="#fb8417"/>
<polyline points="106.00,335.45 110.00,336.13 114.00,335.45 120.00,336.80 130.00,336.80 140.00,336.13 146.00,335.45 149.80,326.04 153.50,320.66 158.00,303.18 162.70,274.26 166.40,336.13 169.20,258.12 172.50,336.80 176.80,295.11 188.20,306.54 204.60,329.40" fill="none" stroke="#f5188a" stroke-width="0.8" stroke-linejoin="round"/>
<path d="M105.15,335.45a0.85,0.85 0 1,0 1.7,0a0.85,0.85 0 1,0 -1.7,0M109.15,336.13a0.85,0.85 0 1,0 1.7,0a0.85,0.85 0 1,0 -1.7,0M113.15,335.45a0.85,0.85 0 1,0 1.7,0a0.85,0.85 0 1,0 -1.7,0M119.15,336.80a0.85,0.85 0 1,0 1.7,0a0.85,0.85 0 1,0 -1.7,0M129.15,336.80a0.85,0.85 0 1,0 1.7,0a0.85,0.85 0 1,0 -1.7,0M139.15,336.13a0.85,0.85 0 1,0 1.7,0a0.85,0.85 0 1,0 -1.7,0M145.15,335.45a0.85,0.85 0 1,0 1.7,0a0.85,0.85 0 1,0 -1.7,0M148.95,326.04a0.85,0.85 0 1,0 1.7,0a0.85,0.85 0 1,0 -1.7,0M152.65,320.66a0.85,0.85 0 1,0 1.7,0a0.85,0.85 0 1,0 -1.7,0M157.15,303.18a0.85,0.85 0 1,0 1.7,0a0.85,0.85 0 1,0 -1.7,0M161.85,274.26a0.85,0.85 0 1,0 1.7,0a0.85,0.85 0 1,0 -1.7,0M165.55,336.13a0.85,0.85 0 1,0 1.7,0a0.85,0.85 0 1,0 -1.7,0M168.35,258.12a0.85,0.85 0 1,0 1.7,0a0.85,0.85 0 1,0 -1.7,0M171.65,336.80a0.85,0.85 0 1,0 1.7,0a0.85,0.85 0 1,0 -1.7,0M175.95,295.11a0.85,0.85 0 1,0 1.7,0a0.85,0.85 0 1,0 -1.7,0M187.35,306.54a0.85,0.85 0 1,0 1.7,0a0.85,0.85 0 1,0 -1.7,0M203.75,329.40a0.85,0.85 0 1,0 1.7,0a0.85,0.85 0 1,0 -1.7,0" fill="#f5188a"/>
<polyline points="43.0,417.1 46.0,416.2 48.9,415.4 51.9,415.0 54.8,414.7 57.7,414.4 60.5,414.2 63.4,413.9 66.2,413.6 69.0,413.3 71.8,413.0 74.5,412.8 77.3,412.5 80.0,412.2 82.7,412.0 85.4,411.7 88.0,411.4 90.6,411.2 93.2,410.9 95.8,410.6 98.4,410.4 100.9,410.1 103.4,409.9 105.9,409.6 108.4,409.4 110.8,409.1 113.3,408.9 115.7,408.6 118.1,408.4 120.4,408.2 122.8,407.9 125.1,407.7 127.4,407.5 129.7,407.2 131.9,407.0 134.2,406.8 136.4,406.6 138.6,406.4 140.7,406.2 142.9,406.0 145.0,405.7 147.1,405.5 149.2,405.3 151.3,405.1 153.3,404.9 155.3,404.6 157.3,404.4 159.3,404.2 161.3,403.9 163.2,403.7 165.1,403.4 167.0,403.2 168.9,402.9 170.8,402.7 172.6,402.4 174.4,402.2 176.2,401.9 178.0,401.6 179.7,401.3 181.5,401.1 183.2,400.8 184.9,400.5 186.6,400.2 188.2,399.9 189.8,399.6 191.4,399.3 193.0,398.9 194.6,398.6 196.2,398.3 197.7,398.0 199.2,397.6 200.7,397.3 202.2,396.9 203.6,396.6 205.0,396.2 206.4,395.9 207.8,395.5 209.2,395.1 210.6,394.7 211.9,394.3 213.2,393.9 214.5,393.4 215.8,393.0 217.0,392.5 218.2,392.0 219.5,391.5 220.7,391.0 221.8,390.4 223.0,389.8 224.1,389.1 225.2,388.4 226.3,387.7 227.4,387.0 228.5,386.2 229.5,385.4 230.6,384.5 231.6,383.5 232.5,382.5 233.5,381.4 234.5,380.3 235.4,379.1 236.3,377.9 237.2,376.5 238.1,375.0 238.9,373.3 239.8,371.3 240.6,368.8 241.4,365.7 242.2,362.3 243.0,358.2 243.7,352.7 244.4,347.2 245.2,342.8 245.8,339.2 246.5,335.9 247.2,332.6 247.8,328.9 248.5,324.2 249.1,318.4 249.7,312.7 250.2,308.2 250.8,305.1 251.3,302.4 251.9,300.1 252.4,298.1 252.9,296.2 253.3,294.3 253.8,292.4 254.2,290.4 254.7,288.2 255.1,286.0 255.5,283.7 255.8,281.4 256.2,279.1 256.5,276.9 256.9,274.8 257.2,272.7 257.5,270.6 257.8,268.6 258.0,266.7 258.3,264.9 258.5,263.3 258.8,261.9 259.0,260.6 259.2,259.5 259.4,258.5 259.5,257.7 259.7,256.9 259.8,256.2 259.9,255.6 260.1,255.1 260.2,254.6 260.2,254.2 260.3,253.8 260.4,253.5 260.4,253.2 260.5,253.0 260.5,252.9 260.5,252.8 260.5,252.7 260.5,252.7" fill="none" stroke="#f5188a" stroke-width="1.15" stroke-linejoin="round"/>
<polyline points="140.6,406.2 142.2,405.7 143.9,405.2 145.5,404.7 147.1,404.3 148.7,403.8 150.3,403.4 151.8,403.1 153.4,402.8 154.9,402.5 156.5,402.2 158.0,402.0 159.5,401.7 161.0,401.5 162.5,401.3 163.9,401.1 165.4,400.9 166.9,400.7 168.3,400.5 169.7,400.2 171.1,400.0 172.5,399.7 173.9,399.5 175.3,399.2 176.6,398.9 178.0,398.6 179.3,398.3 180.7,398.1 182.0,397.8 183.3,397.5 184.6,397.1 185.9,396.8 187.1,396.5 188.4,396.2 189.6,395.8 190.9,395.5 192.1,395.1 193.3,394.7 194.5,394.4 195.7,394.0 196.8,393.5 198.0,393.1 199.2,392.6 200.3,392.1 201.4,391.6 202.5,391.1 203.6,390.5 204.7,390.0 205.8,389.4 206.9,388.8 207.9,388.2 209.0,387.6 210.0,386.9 211.0,386.2 212.1,385.5 213.1,384.8 214.0,384.1 215.0,383.3 216.0,382.5 216.9,381.7 217.9,380.9 218.8,380.1 219.7,379.3 220.7,378.5 221.6,377.6 222.4,376.7 223.3,375.8 224.2,374.8 225.0,373.8 225.9,372.7 226.7,371.6 227.5,370.5 228.3,369.2 229.1,367.8 229.9,366.2 230.7,364.5 231.5,362.6 232.2,360.6 233.0,358.6 233.7,356.5 234.4,354.2 235.1,351.9 235.8,349.5 236.5,347.0 237.2,344.6 237.9,342.1 238.5,339.5 239.2,336.6 239.8,333.4 240.5,329.7 241.1,325.8 241.7,321.9 242.3,318.2 242.9,314.7 243.4,311.2 244.0,307.7 244.6,304.4 245.1,301.3 245.6,298.3 246.2,295.6 246.7,293.0 247.2,290.4 247.7,288.0 248.2,285.7 248.6,283.6 249.1,281.6 249.5,279.8 250.0,278.2 250.4,276.9 250.8,275.6 251.3,274.5 251.7,273.5 252.1,272.6 252.4,271.7 252.8,270.8 253.2,270.1 253.5,269.3 253.9,268.6 254.2,267.9 254.5,267.2 254.9,266.5 255.2,265.9 255.5,265.3 255.8,264.7 256.0,264.2 256.3,263.7 256.6,263.2 256.8,262.7 257.1,262.3 257.3,261.8 257.5,261.3 257.7,260.8 257.9,260.3 258.1,259.8 258.3,259.3 258.5,258.8 258.7,258.3 258.9,257.8 259.0,257.4 259.2,256.9 259.3,256.5 259.4,256.1 259.6,255.7 259.7,255.3 259.8,255.0 259.9,254.7 260.0,254.4 260.1,254.1 260.1,253.9 260.2,253.7 260.3,253.5 260.3,253.3 260.4,253.2 260.4,253.1 260.5,253.0 260.5,252.9 260.5,252.8 260.5,252.8 260.5,252.7 260.5,252.7 260.5,252.7" fill="none" stroke="#f5188a" stroke-width="1.15" stroke-linejoin="round"/>
<path d="M41.95,417.15a1.05,1.05 0 1,0 2.1,0a1.05,1.05 0 1,0 -2.1,0M43.04,416.80a1.05,1.05 0 1,0 2.1,0a1.05,1.05 0 1,0 -2.1,0M45.24,416.06a1.05,1.05 0 1,0 2.1,0a1.05,1.05 0 1,0 -2.1,0M47.43,415.50a1.05,1.05 0 1,0 2.1,0a1.05,1.05 0 1,0 -2.1,0M51.82,414.88a1.05,1.05 0 1,0 2.1,0a1.05,1.05 0 1,0 -2.1,0M56.20,414.45a1.05,1.05 0 1,0 2.1,0a1.05,1.05 0 1,0 -2.1,0M62.78,413.85a1.05,1.05 0 1,0 2.1,0a1.05,1.05 0 1,0 -2.1,0M73.75,412.74a1.05,1.05 0 1,0 2.1,0a1.05,1.05 0 1,0 -2.1,0M84.71,411.65a1.05,1.05 0 1,0 2.1,0a1.05,1.05 0 1,0 -2.1,0M95.67,410.55a1.05,1.05 0 1,0 2.1,0a1.05,1.05 0 1,0 -2.1,0M106.64,409.45a1.05,1.05 0 1,0 2.1,0a1.05,1.05 0 1,0 -2.1,0M117.61,408.35a1.05,1.05 0 1,0 2.1,0a1.05,1.05 0 1,0 -2.1,0M128.57,407.25a1.05,1.05 0 1,0 2.1,0a1.05,1.05 0 1,0 -2.1,0M139.53,406.18a1.05,1.05 0 1,0 2.1,0a1.05,1.05 0 1,0 -2.1,0M150.50,405.05a1.05,1.05 0 1,0 2.1,0a1.05,1.05 0 1,0 -2.1,0M161.47,403.77a1.05,1.05 0 1,0 2.1,0a1.05,1.05 0 1,0 -2.1,0M172.43,402.30a1.05,1.05 0 1,0 2.1,0a1.05,1.05 0 1,0 -2.1,0M183.40,400.56a1.05,1.05 0 1,0 2.1,0a1.05,1.05 0 1,0 -2.1,0M194.36,398.45a1.05,1.05 0 1,0 2.1,0a1.05,1.05 0 1,0 -2.1,0M205.33,395.88a1.05,1.05 0 1,0 2.1,0a1.05,1.05 0 1,0 -2.1,0M216.29,392.40a1.05,1.05 0 1,0 2.1,0a1.05,1.05 0 1,0 -2.1,0M227.25,386.35a1.05,1.05 0 1,0 2.1,0a1.05,1.05 0 1,0 -2.1,0M238.22,372.60a1.05,1.05 0 1,0 2.1,0a1.05,1.05 0 1,0 -2.1,0M244.80,339.20a1.05,1.05 0 1,0 2.1,0a1.05,1.05 0 1,0 -2.1,0M249.19,308.25a1.05,1.05 0 1,0 2.1,0a1.05,1.05 0 1,0 -2.1,0M253.57,288.45a1.05,1.05 0 1,0 2.1,0a1.05,1.05 0 1,0 -2.1,0M255.76,275.25a1.05,1.05 0 1,0 2.1,0a1.05,1.05 0 1,0 -2.1,0M257.96,260.40a1.05,1.05 0 1,0 2.1,0a1.05,1.05 0 1,0 -2.1,0M259.05,254.84a1.05,1.05 0 1,0 2.1,0a1.05,1.05 0 1,0 -2.1,0M259.05,254.02a1.05,1.05 0 1,0 2.1,0a1.05,1.05 0 1,0 -2.1,0M257.96,257.39a1.05,1.05 0 1,0 2.1,0a1.05,1.05 0 1,0 -2.1,0M255.76,262.75a1.05,1.05 0 1,0 2.1,0a1.05,1.05 0 1,0 -2.1,0M253.57,267.00a1.05,1.05 0 1,0 2.1,0a1.05,1.05 0 1,0 -2.1,0M251.38,271.70a1.05,1.05 0 1,0 2.1,0a1.05,1.05 0 1,0 -2.1,0M249.19,277.45a1.05,1.05 0 1,0 2.1,0a1.05,1.05 0 1,0 -2.1,0M246.99,286.25a1.05,1.05 0 1,0 2.1,0a1.05,1.05 0 1,0 -2.1,0M244.80,297.25a1.05,1.05 0 1,0 2.1,0a1.05,1.05 0 1,0 -2.1,0M242.61,309.87a1.05,1.05 0 1,0 2.1,0a1.05,1.05 0 1,0 -2.1,0M240.41,323.37a1.05,1.05 0 1,0 2.1,0a1.05,1.05 0 1,0 -2.1,0M238.22,336.30a1.05,1.05 0 1,0 2.1,0a1.05,1.05 0 1,0 -2.1,0M233.83,352.78a1.05,1.05 0 1,0 2.1,0a1.05,1.05 0 1,0 -2.1,0M229.45,364.96a1.05,1.05 0 1,0 2.1,0a1.05,1.05 0 1,0 -2.1,0M225.06,372.45a1.05,1.05 0 1,0 2.1,0a1.05,1.05 0 1,0 -2.1,0M220.68,377.43a1.05,1.05 0 1,0 2.1,0a1.05,1.05 0 1,0 -2.1,0M216.29,381.40a1.05,1.05 0 1,0 2.1,0a1.05,1.05 0 1,0 -2.1,0M205.33,389.10a1.05,1.05 0 1,0 2.1,0a1.05,1.05 0 1,0 -2.1,0M194.36,394.05a1.05,1.05 0 1,0 2.1,0a1.05,1.05 0 1,0 -2.1,0M183.40,397.17a1.05,1.05 0 1,0 2.1,0a1.05,1.05 0 1,0 -2.1,0M172.43,399.55a1.05,1.05 0 1,0 2.1,0a1.05,1.05 0 1,0 -2.1,0M161.47,401.30a1.05,1.05 0 1,0 2.1,0a1.05,1.05 0 1,0 -2.1,0M150.50,403.12a1.05,1.05 0 1,0 2.1,0a1.05,1.05 0 1,0 -2.1,0M139.53,406.18a1.05,1.05 0 1,0 2.1,0a1.05,1.05 0 1,0 -2.1,0" fill="#f5188a"/>
<polyline points="43.0,421.0 46.0,420.0 48.9,419.3 51.9,418.9 54.8,418.6 57.6,418.4 60.5,418.2 63.3,418.0 66.2,417.8 69.0,417.7 71.7,417.5 74.5,417.4 77.2,417.3 79.9,417.2 82.6,417.0 85.3,416.9 87.9,416.8 90.5,416.6 93.1,416.5 95.7,416.4 98.3,416.3 100.8,416.1 103.3,416.0 105.8,415.9 108.3,415.7 110.7,415.6 113.1,415.5 115.5,415.3 117.9,415.2 120.3,415.0 122.6,414.9 124.9,414.7 127.2,414.6 129.5,414.4 131.7,414.3 134.0,414.1 136.2,413.9 138.4,413.8 140.5,413.6 142.7,413.4 144.8,413.3 146.9,413.1 149.0,413.0 151.1,412.8 153.1,412.6 155.1,412.5 157.1,412.3 159.1,412.1 161.0,412.0 163.0,411.8 164.9,411.7 166.8,411.5 168.7,411.3 170.5,411.1 172.3,410.9 174.2,410.8 175.9,410.5 177.7,410.3 179.5,410.1 181.2,409.9 182.9,409.6 184.6,409.4 186.3,409.1 187.9,408.9 189.5,408.6 191.1,408.4 192.7,408.2 194.3,408.0 195.8,407.7 197.4,407.5 198.9,407.3 200.4,407.1 201.8,407.0 203.3,406.8 204.7,406.6 206.1,406.4 207.5,406.2 208.9,406.0 210.2,405.9 211.5,405.7 212.9,405.5 214.1,405.3 215.4,405.1 216.7,404.9 217.9,404.7 219.1,404.5 220.3,404.3 221.5,404.0 222.6,403.8 223.8,403.6 224.9,403.4 226.0,403.2 227.1,402.9 228.1,402.7 229.2,402.4 230.2,402.2 231.2,401.9 232.2,401.7 233.1,401.4 234.1,401.1 235.0,400.8 235.9,400.5 236.8,400.1 237.7,399.7 238.5,399.3 239.4,398.9 240.2,398.5 241.0,398.1 241.8,397.7 242.6,397.3 243.3,397.0 244.0,396.6 244.7,396.3 245.4,396.0 246.1,395.8 246.8,395.5 247.4,395.3 248.0,395.0 248.7,394.7 249.2,394.4 249.8,394.1 250.4,393.7 250.9,393.3 251.4,392.9 251.9,392.4 252.4,391.8 252.9,391.0 253.4,390.0 253.8,388.8 254.2,387.5 254.6,386.2 255.0,384.9 255.4,383.6 255.8,382.3 256.1,381.0 256.4,379.8 256.8,378.4 257.1,377.1 257.3,375.6 257.6,374.2 257.9,372.6 258.1,371.1 258.3,369.5 258.5,367.9 258.7,366.1 258.9,364.0 259.1,361.7 259.2,359.4 259.4,357.2 259.5,355.2 259.6,353.3 259.7,351.6 259.8,350.2 259.9,349.0 259.9,348.0 260.0,347.2 260.0,346.6 260.1,346.1 260.1,345.9 260.1,345.7 260.1,345.6" fill="none" stroke="#9c0f17" stroke-width="1.15" stroke-linejoin="round"/>
<polyline points="140.6,413.6 142.2,413.2 143.8,412.8 145.5,412.4 147.1,412.0 148.6,411.6 150.2,411.3 151.8,411.1 153.3,410.9 154.9,410.7 156.4,410.6 157.9,410.5 159.4,410.4 160.9,410.3 162.4,410.2 163.9,410.1 165.3,410.0 166.8,409.9 168.2,409.8 169.6,409.7 171.0,409.6 172.4,409.5 173.8,409.4 175.2,409.3 176.5,409.2 177.9,409.1 179.2,408.9 180.5,408.8 181.8,408.7 183.1,408.5 184.4,408.4 185.7,408.3 187.0,408.2 188.2,408.0 189.4,407.9 190.7,407.8 191.9,407.6 193.1,407.5 194.3,407.3 195.5,407.2 196.6,407.1 197.8,406.9 198.9,406.8 200.1,406.7 201.2,406.5 202.3,406.4 203.4,406.3 204.5,406.1 205.6,406.0 206.6,405.8 207.7,405.7 208.7,405.5 209.8,405.4 210.8,405.3 211.8,405.1 212.8,405.0 213.8,404.8 214.7,404.7 215.7,404.5 216.7,404.3 217.6,404.2 218.5,404.0 219.5,403.9 220.4,403.7 221.3,403.6 222.1,403.4 223.0,403.2 223.9,403.1 224.7,402.9 225.6,402.8 226.4,402.6 227.2,402.4 228.0,402.2 228.8,402.0 229.6,401.8 230.4,401.6 231.1,401.4 231.9,401.2 232.6,401.0 233.4,400.8 234.1,400.5 234.8,400.3 235.5,400.0 236.2,399.7 236.9,399.3 237.5,398.9 238.2,398.6 238.8,398.2 239.5,397.8 240.1,397.4 240.7,397.0 241.3,396.5 241.9,396.1 242.5,395.7 243.1,395.2 243.6,394.7 244.2,394.2 244.7,393.6 245.3,393.1 245.8,392.5 246.3,391.9 246.8,391.2 247.3,390.4 247.8,389.5 248.2,388.5 248.7,387.4 249.1,386.3 249.6,385.2 250.0,384.1 250.4,383.1 250.9,382.1 251.3,381.1 251.6,380.2 252.0,379.2 252.4,378.3 252.8,377.3 253.1,376.3 253.5,375.3 253.8,374.3 254.1,373.3 254.4,372.3 254.7,371.3 255.0,370.2 255.3,369.2 255.6,368.2 255.9,367.1 256.1,366.1 256.4,365.1 256.6,364.0 256.9,363.0 257.1,362.1 257.3,361.1 257.5,360.1 257.7,359.2 257.9,358.3 258.1,357.4 258.3,356.5 258.4,355.6 258.6,354.7 258.7,353.9 258.9,353.1 259.0,352.3 259.1,351.5 259.2,350.8 259.3,350.2 259.4,349.6 259.5,349.0 259.6,348.5 259.7,348.0 259.8,347.6 259.8,347.2 259.9,346.9 259.9,346.6 260.0,346.4 260.0,346.2 260.0,346.0 260.1,345.9 260.1,345.8 260.1,345.7 260.1,345.7 260.1,345.7" fill="none" stroke="#9c0f17" stroke-width="1.15" stroke-linejoin="round"/>
<path d="M41.95,421.00a1.05,1.05 0 1,0 2.1,0a1.05,1.05 0 1,0 -2.1,0M43.04,420.64a1.05,1.05 0 1,0 2.1,0a1.05,1.05 0 1,0 -2.1,0M45.24,419.89a1.05,1.05 0 1,0 2.1,0a1.05,1.05 0 1,0 -2.1,0M47.43,419.35a1.05,1.05 0 1,0 2.1,0a1.05,1.05 0 1,0 -2.1,0M51.82,418.80a1.05,1.05 0 1,0 2.1,0a1.05,1.05 0 1,0 -2.1,0M56.20,418.41a1.05,1.05 0 1,0 2.1,0a1.05,1.05 0 1,0 -2.1,0M62.78,417.97a1.05,1.05 0 1,0 2.1,0a1.05,1.05 0 1,0 -2.1,0M73.75,417.38a1.05,1.05 0 1,0 2.1,0a1.05,1.05 0 1,0 -2.1,0M84.71,416.88a1.05,1.05 0 1,0 2.1,0a1.05,1.05 0 1,0 -2.1,0M95.67,416.34a1.05,1.05 0 1,0 2.1,0a1.05,1.05 0 1,0 -2.1,0M106.64,415.77a1.05,1.05 0 1,0 2.1,0a1.05,1.05 0 1,0 -2.1,0M117.61,415.12a1.05,1.05 0 1,0 2.1,0a1.05,1.05 0 1,0 -2.1,0M128.57,414.40a1.05,1.05 0 1,0 2.1,0a1.05,1.05 0 1,0 -2.1,0M139.53,413.61a1.05,1.05 0 1,0 2.1,0a1.05,1.05 0 1,0 -2.1,0M150.50,412.75a1.05,1.05 0 1,0 2.1,0a1.05,1.05 0 1,0 -2.1,0M161.47,411.86a1.05,1.05 0 1,0 2.1,0a1.05,1.05 0 1,0 -2.1,0M172.43,410.82a1.05,1.05 0 1,0 2.1,0a1.05,1.05 0 1,0 -2.1,0M183.40,409.40a1.05,1.05 0 1,0 2.1,0a1.05,1.05 0 1,0 -2.1,0M194.36,407.80a1.05,1.05 0 1,0 2.1,0a1.05,1.05 0 1,0 -2.1,0M205.33,406.38a1.05,1.05 0 1,0 2.1,0a1.05,1.05 0 1,0 -2.1,0M216.29,404.77a1.05,1.05 0 1,0 2.1,0a1.05,1.05 0 1,0 -2.1,0M227.25,402.65a1.05,1.05 0 1,0 2.1,0a1.05,1.05 0 1,0 -2.1,0M238.22,398.97a1.05,1.05 0 1,0 2.1,0a1.05,1.05 0 1,0 -2.1,0M244.80,395.88a1.05,1.05 0 1,0 2.1,0a1.05,1.05 0 1,0 -2.1,0M249.19,393.81a1.05,1.05 0 1,0 2.1,0a1.05,1.05 0 1,0 -2.1,0M253.57,386.30a1.05,1.05 0 1,0 2.1,0a1.05,1.05 0 1,0 -2.1,0M255.76,378.20a1.05,1.05 0 1,0 2.1,0a1.05,1.05 0 1,0 -2.1,0M257.96,362.78a1.05,1.05 0 1,0 2.1,0a1.05,1.05 0 1,0 -2.1,0M259.05,345.65a1.05,1.05 0 1,0 2.1,0a1.05,1.05 0 1,0 -2.1,0M259.05,345.65a1.05,1.05 0 1,0 2.1,0a1.05,1.05 0 1,0 -2.1,0M257.96,352.24a1.05,1.05 0 1,0 2.1,0a1.05,1.05 0 1,0 -2.1,0M255.76,363.29a1.05,1.05 0 1,0 2.1,0a1.05,1.05 0 1,0 -2.1,0M253.57,371.71a1.05,1.05 0 1,0 2.1,0a1.05,1.05 0 1,0 -2.1,0M251.38,378.20a1.05,1.05 0 1,0 2.1,0a1.05,1.05 0 1,0 -2.1,0M249.19,383.60a1.05,1.05 0 1,0 2.1,0a1.05,1.05 0 1,0 -2.1,0M246.99,388.92a1.05,1.05 0 1,0 2.1,0a1.05,1.05 0 1,0 -2.1,0M244.80,392.40a1.05,1.05 0 1,0 2.1,0a1.05,1.05 0 1,0 -2.1,0M242.61,394.68a1.05,1.05 0 1,0 2.1,0a1.05,1.05 0 1,0 -2.1,0M240.41,396.44a1.05,1.05 0 1,0 2.1,0a1.05,1.05 0 1,0 -2.1,0M238.22,397.90a1.05,1.05 0 1,0 2.1,0a1.05,1.05 0 1,0 -2.1,0M233.83,400.25a1.05,1.05 0 1,0 2.1,0a1.05,1.05 0 1,0 -2.1,0M229.45,401.62a1.05,1.05 0 1,0 2.1,0a1.05,1.05 0 1,0 -2.1,0M225.06,402.64a1.05,1.05 0 1,0 2.1,0a1.05,1.05 0 1,0 -2.1,0M220.68,403.47a1.05,1.05 0 1,0 2.1,0a1.05,1.05 0 1,0 -2.1,0M216.29,404.22a1.05,1.05 0 1,0 2.1,0a1.05,1.05 0 1,0 -2.1,0M205.33,405.87a1.05,1.05 0 1,0 2.1,0a1.05,1.05 0 1,0 -2.1,0M194.36,407.22a1.05,1.05 0 1,0 2.1,0a1.05,1.05 0 1,0 -2.1,0M183.40,408.41a1.05,1.05 0 1,0 2.1,0a1.05,1.05 0 1,0 -2.1,0M172.43,409.45a1.05,1.05 0 1,0 2.1,0a1.05,1.05 0 1,0 -2.1,0M161.47,410.18a1.05,1.05 0 1,0 2.1,0a1.05,1.05 0 1,0 -2.1,0M150.50,411.10a1.05,1.05 0 1,0 2.1,0a1.05,1.05 0 1,0 -2.1,0M139.53,413.61a1.05,1.05 0 1,0 2.1,0a1.05,1.05 0 1,0 -2.1,0" fill="#9c0f17"/>
<polyline points="43.0,425.1 46.0,425.1 48.9,425.1 51.9,425.0 54.8,425.0 57.6,425.0 60.5,424.9 63.3,424.9 66.2,424.9 69.0,424.9 71.7,424.8 74.5,424.8 77.2,424.8 79.9,424.8 82.6,424.8 85.3,424.8 87.9,424.7 90.5,424.7 93.1,424.7 95.7,424.7 98.3,424.7 100.8,424.7 103.3,424.7 105.8,424.6 108.3,424.6 110.7,424.6 113.1,424.6 115.5,424.6 117.9,424.6 120.3,424.5 122.6,424.5 124.9,424.5 127.2,424.5 129.5,424.5 131.7,424.5 134.0,424.4 136.2,424.4 138.4,424.4 140.5,424.4 142.7,424.4 144.8,424.4 146.9,424.3 149.0,424.3 151.1,424.3 153.1,424.3 155.1,424.3 157.1,424.2 159.1,424.2 161.0,424.2 163.0,424.2 164.9,424.2 166.8,424.2 168.7,424.1 170.5,424.1 172.3,424.1 174.2,424.1 175.9,424.1 177.7,424.0 179.5,424.0 181.2,424.0 182.9,424.0 184.6,423.9 186.3,423.9 187.9,423.9 189.5,423.9 191.1,423.8 192.7,423.8 194.3,423.8 195.8,423.7 197.4,423.7 198.9,423.7 200.4,423.6 201.8,423.6 203.3,423.5 204.7,423.5 206.1,423.4 207.5,423.4 208.9,423.3 210.2,423.3 211.5,423.2 212.9,423.1 214.1,423.1 215.4,423.0 216.7,423.0 217.9,422.9 219.1,422.8 220.3,422.8 221.5,422.7 222.6,422.6 223.8,422.5 224.9,422.5 226.0,422.4 227.1,422.3 228.1,422.2 229.2,422.1 230.2,422.0 231.2,421.9 232.2,421.8 233.1,421.7 234.1,421.6 235.0,421.5 235.9,421.4 236.8,421.3 237.7,421.2 238.5,421.0 239.4,420.9 240.2,420.7 241.0,420.5 241.8,420.4 242.6,420.2 243.3,420.0 244.0,419.8 244.7,419.6 245.4,419.5 246.1,419.3 246.8,419.1 247.4,418.9 248.0,418.6 248.7,418.4 249.2,418.2 249.8,417.9 250.4,417.6 250.9,417.3 251.4,417.0 251.9,416.7 252.4,416.4 252.9,416.0 253.4,415.6 253.8,415.2 254.2,414.8 254.6,414.4 255.0,413.9 255.4,413.4 255.8,412.8 256.1,412.2 256.4,411.5 256.8,410.9 257.1,410.2 257.3,409.4 257.6,408.7 257.9,407.9 258.1,407.1 258.3,406.1 258.5,405.0 258.7,403.9 258.9,402.8 259.1,401.7 259.2,400.7 259.4,399.8 259.5,398.9 259.6,398.2 259.7,397.5 259.8,397.0 259.9,396.5 259.9,396.1 260.0,395.8 260.0,395.5 260.1,395.4 260.1,395.2 260.1,395.2 260.1,395.1" fill="none" stroke="#fb8417" stroke-width="1.15" stroke-linejoin="round"/>
<polyline points="151.6,424.3 153.0,424.3 154.5,424.3 156.0,424.2 157.4,424.2 158.9,424.2 160.3,424.2 161.7,424.2 163.1,424.2 164.5,424.1 165.9,424.1 167.3,424.1 168.7,424.1 170.0,424.1 171.4,424.1 172.7,424.0 174.0,424.0 175.3,424.0 176.6,424.0 177.9,424.0 179.2,423.9 180.4,423.9 181.7,423.9 182.9,423.9 184.2,423.8 185.4,423.8 186.6,423.8 187.8,423.8 189.0,423.7 190.2,423.7 191.4,423.7 192.5,423.7 193.7,423.6 194.8,423.6 195.9,423.6 197.0,423.5 198.1,423.5 199.2,423.5 200.3,423.4 201.4,423.4 202.5,423.4 203.5,423.3 204.5,423.3 205.6,423.2 206.6,423.2 207.6,423.1 208.6,423.1 209.6,423.0 210.6,423.0 211.5,423.0 212.5,422.9 213.4,422.9 214.4,422.8 215.3,422.8 216.2,422.7 217.1,422.7 218.0,422.6 218.9,422.6 219.8,422.5 220.6,422.5 221.5,422.4 222.3,422.4 223.2,422.3 224.0,422.3 224.8,422.2 225.6,422.2 226.4,422.1 227.2,422.1 228.0,422.0 228.7,422.0 229.5,421.9 230.2,421.9 231.0,421.8 231.7,421.8 232.4,421.7 233.1,421.6 233.8,421.6 234.5,421.5 235.2,421.4 235.8,421.4 236.5,421.3 237.1,421.2 237.8,421.2 238.4,421.1 239.0,421.0 239.6,421.0 240.2,420.9 240.8,420.8 241.4,420.7 241.9,420.6 242.5,420.5 243.0,420.4 243.6,420.3 244.1,420.2 244.6,420.1 245.1,419.9 245.6,419.8 246.1,419.7 246.6,419.5 247.1,419.4 247.6,419.2 248.0,419.1 248.5,418.9 248.9,418.7 249.3,418.5 249.7,418.2 250.2,418.0 250.6,417.7 250.9,417.4 251.3,417.1 251.7,416.7 252.1,416.4 252.4,416.1 252.8,415.7 253.1,415.3 253.4,414.9 253.8,414.5 254.1,414.1 254.4,413.6 254.7,413.2 255.0,412.7 255.2,412.2 255.5,411.7 255.8,411.2 256.0,410.7 256.3,410.1 256.5,409.6 256.7,409.1 257.0,408.5 257.2,407.9 257.4,407.3 257.6,406.6 257.8,405.9 257.9,405.2 258.1,404.5 258.3,403.8 258.4,403.2 258.6,402.5 258.7,401.9 258.9,401.3 259.0,400.7 259.1,400.2 259.2,399.7 259.3,399.2 259.4,398.7 259.5,398.2 259.6,397.8 259.7,397.4 259.7,397.0 259.8,396.7 259.9,396.4 259.9,396.1 260.0,395.9 260.0,395.7 260.0,395.6 260.1,395.4 260.1,395.3 260.1,395.2 260.1,395.2 260.1,395.2 260.1,395.1" fill="none" stroke="#fb8417" stroke-width="1.15" stroke-linejoin="round"/>
<path d="M41.95,425.12a1.05,1.05 0 1,0 2.1,0a1.05,1.05 0 1,0 -2.1,0M43.04,425.11a1.05,1.05 0 1,0 2.1,0a1.05,1.05 0 1,0 -2.1,0M45.24,425.09a1.05,1.05 0 1,0 2.1,0a1.05,1.05 0 1,0 -2.1,0M47.43,425.06a1.05,1.05 0 1,0 2.1,0a1.05,1.05 0 1,0 -2.1,0M51.82,425.01a1.05,1.05 0 1,0 2.1,0a1.05,1.05 0 1,0 -2.1,0M56.20,424.97a1.05,1.05 0 1,0 2.1,0a1.05,1.05 0 1,0 -2.1,0M62.78,424.90a1.05,1.05 0 1,0 2.1,0a1.05,1.05 0 1,0 -2.1,0M73.75,424.83a1.05,1.05 0 1,0 2.1,0a1.05,1.05 0 1,0 -2.1,0M84.71,424.76a1.05,1.05 0 1,0 2.1,0a1.05,1.05 0 1,0 -2.1,0M95.67,424.70a1.05,1.05 0 1,0 2.1,0a1.05,1.05 0 1,0 -2.1,0M106.64,424.63a1.05,1.05 0 1,0 2.1,0a1.05,1.05 0 1,0 -2.1,0M117.61,424.56a1.05,1.05 0 1,0 2.1,0a1.05,1.05 0 1,0 -2.1,0M128.57,424.48a1.05,1.05 0 1,0 2.1,0a1.05,1.05 0 1,0 -2.1,0M139.53,424.40a1.05,1.05 0 1,0 2.1,0a1.05,1.05 0 1,0 -2.1,0M150.50,424.30a1.05,1.05 0 1,0 2.1,0a1.05,1.05 0 1,0 -2.1,0M161.47,424.20a1.05,1.05 0 1,0 2.1,0a1.05,1.05 0 1,0 -2.1,0M172.43,424.08a1.05,1.05 0 1,0 2.1,0a1.05,1.05 0 1,0 -2.1,0M183.40,423.94a1.05,1.05 0 1,0 2.1,0a1.05,1.05 0 1,0 -2.1,0M194.36,423.75a1.05,1.05 0 1,0 2.1,0a1.05,1.05 0 1,0 -2.1,0M205.33,423.42a1.05,1.05 0 1,0 2.1,0a1.05,1.05 0 1,0 -2.1,0M216.29,422.92a1.05,1.05 0 1,0 2.1,0a1.05,1.05 0 1,0 -2.1,0M227.25,422.21a1.05,1.05 0 1,0 2.1,0a1.05,1.05 0 1,0 -2.1,0M238.22,420.88a1.05,1.05 0 1,0 2.1,0a1.05,1.05 0 1,0 -2.1,0M244.80,419.35a1.05,1.05 0 1,0 2.1,0a1.05,1.05 0 1,0 -2.1,0M249.19,417.70a1.05,1.05 0 1,0 2.1,0a1.05,1.05 0 1,0 -2.1,0M253.57,414.40a1.05,1.05 0 1,0 2.1,0a1.05,1.05 0 1,0 -2.1,0M255.76,410.74a1.05,1.05 0 1,0 2.1,0a1.05,1.05 0 1,0 -2.1,0M257.96,402.21a1.05,1.05 0 1,0 2.1,0a1.05,1.05 0 1,0 -2.1,0M259.05,395.15a1.05,1.05 0 1,0 2.1,0a1.05,1.05 0 1,0 -2.1,0M259.05,395.15a1.05,1.05 0 1,0 2.1,0a1.05,1.05 0 1,0 -2.1,0M257.96,400.65a1.05,1.05 0 1,0 2.1,0a1.05,1.05 0 1,0 -2.1,0M255.76,408.90a1.05,1.05 0 1,0 2.1,0a1.05,1.05 0 1,0 -2.1,0M253.57,413.25a1.05,1.05 0 1,0 2.1,0a1.05,1.05 0 1,0 -2.1,0M251.38,416.05a1.05,1.05 0 1,0 2.1,0a1.05,1.05 0 1,0 -2.1,0M249.19,417.90a1.05,1.05 0 1,0 2.1,0a1.05,1.05 0 1,0 -2.1,0M246.99,419.07a1.05,1.05 0 1,0 2.1,0a1.05,1.05 0 1,0 -2.1,0M244.80,419.76a1.05,1.05 0 1,0 2.1,0a1.05,1.05 0 1,0 -2.1,0M242.61,420.29a1.05,1.05 0 1,0 2.1,0a1.05,1.05 0 1,0 -2.1,0M240.41,420.70a1.05,1.05 0 1,0 2.1,0a1.05,1.05 0 1,0 -2.1,0M238.22,421.00a1.05,1.05 0 1,0 2.1,0a1.05,1.05 0 1,0 -2.1,0M233.83,421.47a1.05,1.05 0 1,0 2.1,0a1.05,1.05 0 1,0 -2.1,0M229.45,421.85a1.05,1.05 0 1,0 2.1,0a1.05,1.05 0 1,0 -2.1,0M225.06,422.15a1.05,1.05 0 1,0 2.1,0a1.05,1.05 0 1,0 -2.1,0M220.68,422.41a1.05,1.05 0 1,0 2.1,0a1.05,1.05 0 1,0 -2.1,0M216.29,422.65a1.05,1.05 0 1,0 2.1,0a1.05,1.05 0 1,0 -2.1,0M205.33,423.19a1.05,1.05 0 1,0 2.1,0a1.05,1.05 0 1,0 -2.1,0M194.36,423.58a1.05,1.05 0 1,0 2.1,0a1.05,1.05 0 1,0 -2.1,0M183.40,423.84a1.05,1.05 0 1,0 2.1,0a1.05,1.05 0 1,0 -2.1,0M172.43,424.02a1.05,1.05 0 1,0 2.1,0a1.05,1.05 0 1,0 -2.1,0M161.47,424.17a1.05,1.05 0 1,0 2.1,0a1.05,1.05 0 1,0 -2.1,0M150.50,424.30a1.05,1.05 0 1,0 2.1,0a1.05,1.05 0 1,0 -2.1,0" fill="#fb8417"/>
<polyline points="43.0,422.6 46.0,421.6 48.9,420.9 51.9,420.6 54.8,420.4 57.6,420.2 60.5,420.1 63.3,419.9 66.2,419.8 69.0,419.6 71.7,419.5 74.5,419.3 77.2,419.2 79.9,419.1 82.6,419.0 85.3,418.8 87.9,418.7 90.5,418.6 93.1,418.4 95.7,418.3 98.3,418.2 100.8,418.0 103.3,417.9 105.8,417.8 108.3,417.7 110.7,417.5 113.1,417.4 115.5,417.3 117.9,417.2 120.3,417.1 122.6,417.0 124.9,416.8 127.2,416.7 129.5,416.6 131.7,416.5 134.0,416.4 136.2,416.3 138.4,416.2 140.5,416.1 142.7,416.0 144.8,415.9 146.9,415.7 149.0,415.6 151.1,415.5 153.1,415.4 155.1,415.3 157.1,415.2 159.1,415.1 161.0,415.0 163.0,414.8 164.9,414.7 166.8,414.6 168.7,414.5 170.5,414.3 172.3,414.2 174.2,414.1 175.9,413.9 177.7,413.8 179.5,413.7 181.2,413.5 182.9,413.4 184.6,413.2 186.3,413.1 187.9,412.9 189.5,412.8 191.1,412.6 192.7,412.5 194.3,412.3 195.8,412.2 197.4,412.0 198.9,411.8 200.4,411.7 201.8,411.5 203.3,411.4 204.7,411.2 206.1,411.0 207.5,410.9 208.9,410.7 210.2,410.5 211.5,410.3 212.9,410.1 214.1,410.0 215.4,409.8 216.7,409.6 217.9,409.4 219.1,409.1 220.3,408.9 221.5,408.7 222.6,408.5 223.8,408.3 224.9,408.0 226.0,407.8 227.1,407.5 228.1,407.2 229.2,407.0 230.2,406.7 231.2,406.4 232.2,406.1 233.1,405.8 234.1,405.5 235.0,405.2 235.9,404.8 236.8,404.4 237.7,404.0 238.5,403.6 239.4,403.2 240.2,402.8 241.0,402.3 241.8,401.8 242.6,401.4 243.3,400.9 244.0,400.4 244.7,399.9 245.4,399.4 246.1,398.8 246.8,398.3 247.4,397.7 248.0,397.1 248.7,396.5 249.2,395.8 249.8,395.1 250.4,394.4 250.9,393.7 251.4,392.8 251.9,392.0 252.4,391.0 252.9,390.1 253.4,389.0 253.8,388.0 254.2,386.9 254.6,385.7 255.0,384.5 255.4,383.2 255.8,381.8 256.1,380.4 256.4,378.8 256.8,377.2 257.1,375.6 257.3,374.0 257.6,372.3 257.9,370.7 258.1,369.0 258.3,367.0 258.5,364.9 258.7,362.8 258.9,360.8 259.1,358.8 259.2,357.0 259.4,355.3 259.5,353.7 259.6,352.3 259.7,351.1 259.8,350.1 259.9,349.2 259.9,348.5 260.0,347.9 260.0,347.5 260.1,347.1 260.1,346.9 260.1,346.8 260.1,346.8" fill="none" stroke="#1f8a80" stroke-width="1.15" stroke-linejoin="round"/>
<polyline points="140.6,416.1 142.2,415.7 143.8,415.3 145.5,415.0 147.1,414.6 148.6,414.3 150.2,414.0 151.8,413.8 153.3,413.7 154.9,413.6 156.4,413.4 157.9,413.3 159.4,413.3 160.9,413.2 162.4,413.1 163.9,413.0 165.3,413.0 166.8,412.9 168.2,412.8 169.6,412.7 171.0,412.6 172.4,412.6 173.8,412.5 175.2,412.3 176.5,412.2 177.9,412.1 179.2,412.0 180.5,411.9 181.8,411.8 183.1,411.7 184.4,411.6 185.7,411.4 187.0,411.3 188.2,411.2 189.4,411.1 190.7,411.0 191.9,410.8 193.1,410.7 194.3,410.6 195.5,410.5 196.6,410.3 197.8,410.2 198.9,410.1 200.1,410.0 201.2,409.8 202.3,409.7 203.4,409.6 204.5,409.5 205.6,409.4 206.6,409.3 207.7,409.1 208.7,409.0 209.8,408.9 210.8,408.8 211.8,408.6 212.8,408.5 213.8,408.4 214.7,408.2 215.7,408.1 216.7,407.9 217.6,407.8 218.5,407.6 219.5,407.4 220.4,407.2 221.3,407.0 222.1,406.8 223.0,406.6 223.9,406.4 224.7,406.2 225.6,406.0 226.4,405.8 227.2,405.5 228.0,405.3 228.8,405.1 229.6,404.8 230.4,404.6 231.1,404.3 231.9,404.1 232.6,403.8 233.4,403.6 234.1,403.3 234.8,403.0 235.5,402.7 236.2,402.4 236.9,402.0 237.5,401.7 238.2,401.3 238.8,400.9 239.5,400.5 240.1,400.1 240.7,399.7 241.3,399.3 241.9,398.8 242.5,398.4 243.1,397.9 243.6,397.4 244.2,396.9 244.7,396.4 245.3,395.8 245.8,395.2 246.3,394.6 246.8,394.0 247.3,393.2 247.8,392.5 248.2,391.7 248.7,390.9 249.1,390.1 249.6,389.3 250.0,388.4 250.4,387.6 250.9,386.8 251.3,385.9 251.6,385.1 252.0,384.2 252.4,383.3 252.8,382.4 253.1,381.5 253.5,380.6 253.8,379.6 254.1,378.6 254.4,377.6 254.7,376.6 255.0,375.4 255.3,374.2 255.6,372.9 255.9,371.6 256.1,370.3 256.4,369.0 256.6,367.7 256.9,366.4 257.1,365.1 257.3,363.9 257.5,362.7 257.7,361.6 257.9,360.5 258.1,359.5 258.3,358.4 258.4,357.5 258.6,356.5 258.7,355.6 258.9,354.7 259.0,353.8 259.1,353.0 259.2,352.3 259.3,351.6 259.4,350.9 259.5,350.3 259.6,349.8 259.7,349.3 259.8,348.9 259.8,348.5 259.9,348.1 259.9,347.8 260.0,347.5 260.0,347.3 260.0,347.1 260.1,347.0 260.1,346.9 260.1,346.8 260.1,346.8 260.1,346.8" fill="none" stroke="#1f8a80" stroke-width="1.15" stroke-linejoin="round"/>
<path d="M41.95,422.65a1.05,1.05 0 1,0 2.1,0a1.05,1.05 0 1,0 -2.1,0M43.04,422.29a1.05,1.05 0 1,0 2.1,0a1.05,1.05 0 1,0 -2.1,0M45.24,421.52a1.05,1.05 0 1,0 2.1,0a1.05,1.05 0 1,0 -2.1,0M47.43,421.00a1.05,1.05 0 1,0 2.1,0a1.05,1.05 0 1,0 -2.1,0M51.82,420.55a1.05,1.05 0 1,0 2.1,0a1.05,1.05 0 1,0 -2.1,0M56.20,420.25a1.05,1.05 0 1,0 2.1,0a1.05,1.05 0 1,0 -2.1,0M62.78,419.90a1.05,1.05 0 1,0 2.1,0a1.05,1.05 0 1,0 -2.1,0M73.75,419.32a1.05,1.05 0 1,0 2.1,0a1.05,1.05 0 1,0 -2.1,0M84.71,418.80a1.05,1.05 0 1,0 2.1,0a1.05,1.05 0 1,0 -2.1,0M95.67,418.25a1.05,1.05 0 1,0 2.1,0a1.05,1.05 0 1,0 -2.1,0M106.64,417.70a1.05,1.05 0 1,0 2.1,0a1.05,1.05 0 1,0 -2.1,0M117.61,417.15a1.05,1.05 0 1,0 2.1,0a1.05,1.05 0 1,0 -2.1,0M128.57,416.60a1.05,1.05 0 1,0 2.1,0a1.05,1.05 0 1,0 -2.1,0M139.53,416.07a1.05,1.05 0 1,0 2.1,0a1.05,1.05 0 1,0 -2.1,0M150.50,415.50a1.05,1.05 0 1,0 2.1,0a1.05,1.05 0 1,0 -2.1,0M161.47,414.86a1.05,1.05 0 1,0 2.1,0a1.05,1.05 0 1,0 -2.1,0M172.43,414.12a1.05,1.05 0 1,0 2.1,0a1.05,1.05 0 1,0 -2.1,0M183.40,413.25a1.05,1.05 0 1,0 2.1,0a1.05,1.05 0 1,0 -2.1,0M194.36,412.20a1.05,1.05 0 1,0 2.1,0a1.05,1.05 0 1,0 -2.1,0M205.33,411.00a1.05,1.05 0 1,0 2.1,0a1.05,1.05 0 1,0 -2.1,0M216.29,409.45a1.05,1.05 0 1,0 2.1,0a1.05,1.05 0 1,0 -2.1,0M227.25,407.20a1.05,1.05 0 1,0 2.1,0a1.05,1.05 0 1,0 -2.1,0M238.22,403.25a1.05,1.05 0 1,0 2.1,0a1.05,1.05 0 1,0 -2.1,0M244.80,399.07a1.05,1.05 0 1,0 2.1,0a1.05,1.05 0 1,0 -2.1,0M249.19,394.60a1.05,1.05 0 1,0 2.1,0a1.05,1.05 0 1,0 -2.1,0M253.57,385.80a1.05,1.05 0 1,0 2.1,0a1.05,1.05 0 1,0 -2.1,0M255.76,376.96a1.05,1.05 0 1,0 2.1,0a1.05,1.05 0 1,0 -2.1,0M257.96,359.69a1.05,1.05 0 1,0 2.1,0a1.05,1.05 0 1,0 -2.1,0M259.05,346.75a1.05,1.05 0 1,0 2.1,0a1.05,1.05 0 1,0 -2.1,0M259.05,346.75a1.05,1.05 0 1,0 2.1,0a1.05,1.05 0 1,0 -2.1,0M257.96,353.80a1.05,1.05 0 1,0 2.1,0a1.05,1.05 0 1,0 -2.1,0M255.76,366.69a1.05,1.05 0 1,0 2.1,0a1.05,1.05 0 1,0 -2.1,0M253.57,377.00a1.05,1.05 0 1,0 2.1,0a1.05,1.05 0 1,0 -2.1,0M251.38,383.28a1.05,1.05 0 1,0 2.1,0a1.05,1.05 0 1,0 -2.1,0M249.19,388.00a1.05,1.05 0 1,0 2.1,0a1.05,1.05 0 1,0 -2.1,0M246.99,392.04a1.05,1.05 0 1,0 2.1,0a1.05,1.05 0 1,0 -2.1,0M244.80,395.15a1.05,1.05 0 1,0 2.1,0a1.05,1.05 0 1,0 -2.1,0M242.61,397.37a1.05,1.05 0 1,0 2.1,0a1.05,1.05 0 1,0 -2.1,0M240.41,399.17a1.05,1.05 0 1,0 2.1,0a1.05,1.05 0 1,0 -2.1,0M238.22,400.65a1.05,1.05 0 1,0 2.1,0a1.05,1.05 0 1,0 -2.1,0M233.83,402.97a1.05,1.05 0 1,0 2.1,0a1.05,1.05 0 1,0 -2.1,0M229.45,404.54a1.05,1.05 0 1,0 2.1,0a1.05,1.05 0 1,0 -2.1,0M225.06,405.86a1.05,1.05 0 1,0 2.1,0a1.05,1.05 0 1,0 -2.1,0M220.68,406.94a1.05,1.05 0 1,0 2.1,0a1.05,1.05 0 1,0 -2.1,0M216.29,407.80a1.05,1.05 0 1,0 2.1,0a1.05,1.05 0 1,0 -2.1,0M205.33,409.29a1.05,1.05 0 1,0 2.1,0a1.05,1.05 0 1,0 -2.1,0M194.36,410.47a1.05,1.05 0 1,0 2.1,0a1.05,1.05 0 1,0 -2.1,0M183.40,411.55a1.05,1.05 0 1,0 2.1,0a1.05,1.05 0 1,0 -2.1,0M172.43,412.47a1.05,1.05 0 1,0 2.1,0a1.05,1.05 0 1,0 -2.1,0M161.47,413.09a1.05,1.05 0 1,0 2.1,0a1.05,1.05 0 1,0 -2.1,0M150.50,413.85a1.05,1.05 0 1,0 2.1,0a1.05,1.05 0 1,0 -2.1,0M139.53,416.07a1.05,1.05 0 1,0 2.1,0a1.05,1.05 0 1,0 -2.1,0" fill="#1f8a80"/>
<polyline points="43.0,421.0 46.0,419.6 48.9,418.7 51.9,418.4 54.8,418.2 57.6,418.0 60.5,417.9 63.3,417.7 66.2,417.6 69.0,417.4 71.7,417.2 74.5,417.1 77.2,417.0 79.9,416.8 82.6,416.7 85.3,416.6 87.9,416.5 90.5,416.5 93.1,416.4 95.7,416.3 98.3,416.3 100.8,416.2 103.3,416.2 105.8,416.1 108.3,416.0 110.7,416.0 113.1,415.9 115.5,415.9 117.9,415.8 120.3,415.7 122.6,415.7 124.9,415.6 127.2,415.6 129.5,415.5 131.7,415.4 134.0,415.4 136.2,415.3 138.4,415.2 140.5,415.1 142.7,415.0 144.8,414.9 146.9,414.9 149.0,414.8 151.1,414.7 153.1,414.6 155.1,414.5 157.1,414.5 159.1,414.4 161.0,414.3 163.0,414.3 164.9,414.2 166.8,414.1 168.7,414.0 170.5,414.0 172.3,413.9 174.2,413.8 175.9,413.7 177.7,413.7 179.5,413.6 181.2,413.5 182.9,413.4 184.6,413.3 186.3,413.3 187.9,413.2 189.5,413.1 191.1,413.0 192.7,412.9 194.3,412.8 195.8,412.7 197.4,412.6 198.9,412.5 200.4,412.4 201.8,412.3 203.3,412.2 204.7,412.1 206.1,412.0 207.5,411.9 208.9,411.8 210.2,411.7 211.5,411.6 212.9,411.5 214.1,411.4 215.4,411.3 216.7,411.2 217.9,411.0 219.1,410.9 220.3,410.8 221.5,410.7 222.6,410.6 223.8,410.4 224.9,410.3 226.0,410.2 227.1,410.1 228.1,409.9 229.2,409.8 230.2,409.6 231.2,409.5 232.2,409.3 233.1,409.2 234.1,409.0 235.0,408.9 235.9,408.7 236.8,408.6 237.7,408.4 238.5,408.2 239.4,408.0 240.2,407.8 241.0,407.6 241.8,407.4 242.6,407.2 243.3,407.0 244.0,406.8 244.7,406.5 245.4,406.3 246.1,406.1 246.8,405.8 247.4,405.5 248.0,405.2 248.7,404.9 249.2,404.6 249.8,404.3 250.4,403.9 250.9,403.5 251.4,403.1 251.9,402.7 252.4,402.3 252.9,401.8 253.4,401.3 253.8,400.7 254.2,400.1 254.6,399.4 255.0,398.8 255.4,398.1 255.8,397.4 256.1,396.7 256.4,396.0 256.8,395.3 257.1,394.6 257.3,393.9 257.6,393.2 257.9,392.5 258.1,391.8 258.3,391.0 258.5,390.2 258.7,389.3 258.9,388.5 259.1,387.6 259.2,386.4 259.4,385.1 259.5,383.7 259.6,382.5 259.7,381.3 259.8,380.3 259.9,379.4 259.9,378.7 260.0,378.1 260.0,377.7 260.1,377.4 260.1,377.1 260.1,377.0 260.1,377.0" fill="none" stroke="#1c1cf5" stroke-width="1.15" stroke-linejoin="round"/>
<polyline points="140.6,415.1 142.2,414.9 143.8,414.7 145.5,414.5 147.1,414.3 148.6,414.1 150.2,413.9 151.8,413.8 153.3,413.8 154.9,413.7 156.4,413.6 157.9,413.6 159.4,413.5 160.9,413.5 162.4,413.4 163.9,413.4 165.3,413.3 166.8,413.3 168.2,413.2 169.6,413.2 171.0,413.1 172.4,413.1 173.8,413.0 175.2,412.9 176.5,412.9 177.9,412.8 179.2,412.7 180.5,412.6 181.8,412.6 183.1,412.5 184.4,412.4 185.7,412.3 187.0,412.2 188.2,412.1 189.4,412.1 190.7,412.0 191.9,411.9 193.1,411.8 194.3,411.7 195.5,411.6 196.6,411.6 197.8,411.5 198.9,411.4 200.1,411.3 201.2,411.3 202.3,411.2 203.4,411.1 204.5,411.1 205.6,411.0 206.6,410.9 207.7,410.8 208.7,410.8 209.8,410.7 210.8,410.6 211.8,410.5 212.8,410.4 213.8,410.4 214.7,410.3 215.7,410.2 216.7,410.1 217.6,410.0 218.5,409.9 219.5,409.7 220.4,409.6 221.3,409.5 222.1,409.3 223.0,409.2 223.9,409.0 224.7,408.9 225.6,408.7 226.4,408.6 227.2,408.4 228.0,408.2 228.8,408.1 229.6,407.9 230.4,407.7 231.1,407.6 231.9,407.4 232.6,407.2 233.4,407.1 234.1,406.9 234.8,406.7 235.5,406.6 236.2,406.4 236.9,406.2 237.5,406.1 238.2,405.9 238.8,405.7 239.5,405.5 240.1,405.4 240.7,405.2 241.3,405.0 241.9,404.8 242.5,404.6 243.1,404.4 243.6,404.2 244.2,404.0 244.7,403.8 245.3,403.6 245.8,403.4 246.3,403.2 246.8,403.0 247.3,402.8 247.8,402.6 248.2,402.3 248.7,402.1 249.1,401.9 249.6,401.6 250.0,401.4 250.4,401.1 250.9,400.8 251.3,400.5 251.6,400.2 252.0,399.9 252.4,399.6 252.8,399.2 253.1,398.8 253.5,398.4 253.8,398.0 254.1,397.5 254.4,397.0 254.7,396.5 255.0,396.0 255.3,395.5 255.6,395.0 255.9,394.4 256.1,393.9 256.4,393.3 256.6,392.8 256.9,392.3 257.1,391.7 257.3,391.1 257.5,390.5 257.7,389.9 257.9,389.3 258.1,388.6 258.3,387.9 258.4,387.3 258.6,386.6 258.7,386.0 258.9,385.3 259.0,384.7 259.1,384.1 259.2,383.4 259.3,382.6 259.4,381.9 259.5,381.3 259.6,380.6 259.7,380.0 259.8,379.5 259.8,379.0 259.9,378.6 259.9,378.2 260.0,377.9 260.0,377.6 260.0,377.4 260.1,377.3 260.1,377.1 260.1,377.1 260.1,377.0 260.1,377.0" fill="none" stroke="#1c1cf5" stroke-width="1.15" stroke-linejoin="round"/>
<path d="M41.95,421.00a1.05,1.05 0 1,0 2.1,0a1.05,1.05 0 1,0 -2.1,0M43.04,420.51a1.05,1.05 0 1,0 2.1,0a1.05,1.05 0 1,0 -2.1,0M45.24,419.47a1.05,1.05 0 1,0 2.1,0a1.05,1.05 0 1,0 -2.1,0M47.43,418.80a1.05,1.05 0 1,0 2.1,0a1.05,1.05 0 1,0 -2.1,0M51.82,418.33a1.05,1.05 0 1,0 2.1,0a1.05,1.05 0 1,0 -2.1,0M56.20,418.04a1.05,1.05 0 1,0 2.1,0a1.05,1.05 0 1,0 -2.1,0M62.78,417.70a1.05,1.05 0 1,0 2.1,0a1.05,1.05 0 1,0 -2.1,0M73.75,417.08a1.05,1.05 0 1,0 2.1,0a1.05,1.05 0 1,0 -2.1,0M84.71,416.60a1.05,1.05 0 1,0 2.1,0a1.05,1.05 0 1,0 -2.1,0M95.67,416.30a1.05,1.05 0 1,0 2.1,0a1.05,1.05 0 1,0 -2.1,0M106.64,416.05a1.05,1.05 0 1,0 2.1,0a1.05,1.05 0 1,0 -2.1,0M117.61,415.79a1.05,1.05 0 1,0 2.1,0a1.05,1.05 0 1,0 -2.1,0M128.57,415.50a1.05,1.05 0 1,0 2.1,0a1.05,1.05 0 1,0 -2.1,0M139.53,415.11a1.05,1.05 0 1,0 2.1,0a1.05,1.05 0 1,0 -2.1,0M150.50,414.67a1.05,1.05 0 1,0 2.1,0a1.05,1.05 0 1,0 -2.1,0M161.47,414.28a1.05,1.05 0 1,0 2.1,0a1.05,1.05 0 1,0 -2.1,0M172.43,413.85a1.05,1.05 0 1,0 2.1,0a1.05,1.05 0 1,0 -2.1,0M183.40,413.35a1.05,1.05 0 1,0 2.1,0a1.05,1.05 0 1,0 -2.1,0M194.36,412.75a1.05,1.05 0 1,0 2.1,0a1.05,1.05 0 1,0 -2.1,0M205.33,412.02a1.05,1.05 0 1,0 2.1,0a1.05,1.05 0 1,0 -2.1,0M216.29,411.10a1.05,1.05 0 1,0 2.1,0a1.05,1.05 0 1,0 -2.1,0M227.25,409.89a1.05,1.05 0 1,0 2.1,0a1.05,1.05 0 1,0 -2.1,0M238.22,408.04a1.05,1.05 0 1,0 2.1,0a1.05,1.05 0 1,0 -2.1,0M244.80,406.15a1.05,1.05 0 1,0 2.1,0a1.05,1.05 0 1,0 -2.1,0M249.19,403.99a1.05,1.05 0 1,0 2.1,0a1.05,1.05 0 1,0 -2.1,0M253.57,399.47a1.05,1.05 0 1,0 2.1,0a1.05,1.05 0 1,0 -2.1,0M255.76,395.15a1.05,1.05 0 1,0 2.1,0a1.05,1.05 0 1,0 -2.1,0M257.96,388.00a1.05,1.05 0 1,0 2.1,0a1.05,1.05 0 1,0 -2.1,0M259.05,377.00a1.05,1.05 0 1,0 2.1,0a1.05,1.05 0 1,0 -2.1,0M259.05,377.00a1.05,1.05 0 1,0 2.1,0a1.05,1.05 0 1,0 -2.1,0M257.96,384.70a1.05,1.05 0 1,0 2.1,0a1.05,1.05 0 1,0 -2.1,0M255.76,392.40a1.05,1.05 0 1,0 2.1,0a1.05,1.05 0 1,0 -2.1,0M253.57,396.76a1.05,1.05 0 1,0 2.1,0a1.05,1.05 0 1,0 -2.1,0M251.38,399.55a1.05,1.05 0 1,0 2.1,0a1.05,1.05 0 1,0 -2.1,0M249.19,401.22a1.05,1.05 0 1,0 2.1,0a1.05,1.05 0 1,0 -2.1,0M246.99,402.44a1.05,1.05 0 1,0 2.1,0a1.05,1.05 0 1,0 -2.1,0M244.80,403.40a1.05,1.05 0 1,0 2.1,0a1.05,1.05 0 1,0 -2.1,0M242.61,404.23a1.05,1.05 0 1,0 2.1,0a1.05,1.05 0 1,0 -2.1,0M240.41,404.96a1.05,1.05 0 1,0 2.1,0a1.05,1.05 0 1,0 -2.1,0M238.22,405.60a1.05,1.05 0 1,0 2.1,0a1.05,1.05 0 1,0 -2.1,0M233.83,406.70a1.05,1.05 0 1,0 2.1,0a1.05,1.05 0 1,0 -2.1,0M229.45,407.71a1.05,1.05 0 1,0 2.1,0a1.05,1.05 0 1,0 -2.1,0M225.06,408.63a1.05,1.05 0 1,0 2.1,0a1.05,1.05 0 1,0 -2.1,0M220.68,409.41a1.05,1.05 0 1,0 2.1,0a1.05,1.05 0 1,0 -2.1,0M216.29,410.00a1.05,1.05 0 1,0 2.1,0a1.05,1.05 0 1,0 -2.1,0M205.33,410.94a1.05,1.05 0 1,0 2.1,0a1.05,1.05 0 1,0 -2.1,0M194.36,411.65a1.05,1.05 0 1,0 2.1,0a1.05,1.05 0 1,0 -2.1,0M183.40,412.40a1.05,1.05 0 1,0 2.1,0a1.05,1.05 0 1,0 -2.1,0M172.43,413.02a1.05,1.05 0 1,0 2.1,0a1.05,1.05 0 1,0 -2.1,0M161.47,413.40a1.05,1.05 0 1,0 2.1,0a1.05,1.05 0 1,0 -2.1,0M150.50,413.85a1.05,1.05 0 1,0 2.1,0a1.05,1.05 0 1,0 -2.1,0M139.53,415.11a1.05,1.05 0 1,0 2.1,0a1.05,1.05 0 1,0 -2.1,0" fill="#1c1cf5"/>
<polyline points="43.0,419.9 46.0,418.5 48.9,417.6 51.9,417.3 54.8,417.1 57.6,416.9 60.5,416.8 63.3,416.6 66.2,416.5 69.0,416.3 71.7,416.1 74.5,416.0 77.2,415.9 79.9,415.7 82.6,415.6 85.3,415.5 87.9,415.4 90.5,415.4 93.1,415.3 95.7,415.2 98.3,415.2 100.8,415.1 103.3,415.1 105.8,415.0 108.3,414.9 110.7,414.9 113.1,414.8 115.5,414.8 117.9,414.7 120.3,414.6 122.6,414.6 124.9,414.5 127.2,414.5 129.5,414.4 131.7,414.3 134.0,414.3 136.2,414.2 138.4,414.2 140.5,414.1 142.7,414.1 144.8,414.0 146.9,414.0 149.0,413.9 151.1,413.9 153.1,413.8 155.1,413.8 157.1,413.7 159.1,413.7 161.0,413.6 163.0,413.6 164.9,413.5 166.8,413.5 168.7,413.4 170.5,413.4 172.3,413.3 174.2,413.3 175.9,413.2 177.7,413.2 179.5,413.1 181.2,413.1 182.9,413.1 184.6,413.0 186.3,413.0 187.9,412.9 189.5,412.9 191.1,412.9 192.7,412.8 194.3,412.8 195.8,412.7 197.4,412.7 198.9,412.7 200.4,412.6 201.8,412.6 203.3,412.6 204.7,412.5 206.1,412.5 207.5,412.5 208.9,412.4 210.2,412.4 211.5,412.4 212.9,412.3 214.1,412.3 215.4,412.3 216.7,412.2 217.9,412.2 219.1,412.1 220.3,412.1 221.5,412.1 222.6,412.0 223.8,412.0 224.9,411.9 226.0,411.9 227.1,411.8 228.1,411.8 229.2,411.7 230.2,411.7 231.2,411.6 232.2,411.6 233.1,411.5 234.1,411.4 235.0,411.4 235.9,411.3 236.8,411.2 237.7,411.1 238.5,411.1 239.4,411.0 240.2,410.9 241.0,410.8 241.8,410.7 242.6,410.6 243.3,410.4 244.0,410.3 244.7,410.2 245.4,410.1 246.1,409.9 246.8,409.8 247.4,409.7 248.0,409.5 248.7,409.3 249.2,409.1 249.8,408.9 250.4,408.7 250.9,408.5 251.4,408.3 251.9,408.0 252.4,407.8 252.9,407.5 253.4,407.2 253.8,406.9 254.2,406.5 254.6,406.2 255.0,405.8 255.4,405.3 255.8,404.9 256.1,404.4 256.4,404.0 256.8,403.5 257.1,403.0 257.3,402.4 257.6,401.8 257.9,401.1 258.1,400.4 258.3,399.7 258.5,398.9 258.7,398.1 258.9,397.2 259.1,396.4 259.2,395.2 259.4,393.9 259.5,392.6 259.6,391.3 259.7,390.1 259.8,389.1 259.9,388.2 259.9,387.5 260.0,386.9 260.0,386.5 260.1,386.2 260.1,385.9 260.1,385.8 260.1,385.8" fill="none" stroke="#9a1df2" stroke-width="1.15" stroke-linejoin="round"/>
<polyline points="140.6,414.1 142.2,413.9 143.8,413.8 145.5,413.6 147.1,413.4 148.6,413.2 150.2,413.1 151.8,413.0 153.3,413.0 154.9,412.9 156.4,412.9 157.9,412.8 159.4,412.8 160.9,412.7 162.4,412.7 163.9,412.7 165.3,412.6 166.8,412.6 168.2,412.6 169.6,412.6 171.0,412.5 172.4,412.5 173.8,412.5 175.2,412.4 176.5,412.4 177.9,412.4 179.2,412.3 180.5,412.3 181.8,412.3 183.1,412.2 184.4,412.2 185.7,412.2 187.0,412.2 188.2,412.1 189.4,412.1 190.7,412.1 191.9,412.0 193.1,412.0 194.3,412.0 195.5,411.9 196.6,411.9 197.8,411.8 198.9,411.8 200.1,411.8 201.2,411.7 202.3,411.7 203.4,411.6 204.5,411.6 205.6,411.6 206.6,411.5 207.7,411.5 208.7,411.4 209.8,411.4 210.8,411.3 211.8,411.3 212.8,411.3 213.8,411.2 214.7,411.2 215.7,411.2 216.7,411.1 217.6,411.1 218.5,411.1 219.5,411.0 220.4,411.0 221.3,411.0 222.1,411.0 223.0,410.9 223.9,410.9 224.7,410.9 225.6,410.9 226.4,410.9 227.2,410.8 228.0,410.8 228.8,410.8 229.6,410.8 230.4,410.7 231.1,410.7 231.9,410.7 232.6,410.7 233.4,410.6 234.1,410.6 234.8,410.6 235.5,410.5 236.2,410.5 236.9,410.4 237.5,410.3 238.2,410.3 238.8,410.2 239.5,410.1 240.1,410.0 240.7,409.9 241.3,409.8 241.9,409.7 242.5,409.6 243.1,409.5 243.6,409.4 244.2,409.3 244.7,409.2 245.3,409.0 245.8,408.9 246.3,408.8 246.8,408.7 247.3,408.5 247.8,408.4 248.2,408.2 248.7,408.0 249.1,407.8 249.6,407.7 250.0,407.5 250.4,407.3 250.9,407.1 251.3,406.8 251.6,406.6 252.0,406.4 252.4,406.2 252.8,405.9 253.1,405.7 253.5,405.4 253.8,405.1 254.1,404.8 254.4,404.5 254.7,404.2 255.0,403.8 255.3,403.5 255.6,403.1 255.9,402.7 256.1,402.3 256.4,401.9 256.6,401.5 256.9,401.1 257.1,400.6 257.3,400.1 257.5,399.5 257.7,398.8 257.9,398.2 258.1,397.5 258.3,396.8 258.4,396.1 258.6,395.5 258.7,394.8 258.9,394.2 259.0,393.5 259.1,392.9 259.2,392.2 259.3,391.4 259.4,390.7 259.5,390.1 259.6,389.4 259.7,388.8 259.8,388.3 259.8,387.8 259.9,387.4 259.9,387.0 260.0,386.7 260.0,386.4 260.0,386.2 260.1,386.1 260.1,385.9 260.1,385.9 260.1,385.8 260.1,385.8" fill="none" stroke="#9a1df2" stroke-width="1.15" stroke-linejoin="round"/>
<path d="M41.95,419.90a1.05,1.05 0 1,0 2.1,0a1.05,1.05 0 1,0 -2.1,0M43.04,419.41a1.05,1.05 0 1,0 2.1,0a1.05,1.05 0 1,0 -2.1,0M45.24,418.37a1.05,1.05 0 1,0 2.1,0a1.05,1.05 0 1,0 -2.1,0M47.43,417.70a1.05,1.05 0 1,0 2.1,0a1.05,1.05 0 1,0 -2.1,0M51.82,417.23a1.05,1.05 0 1,0 2.1,0a1.05,1.05 0 1,0 -2.1,0M56.20,416.94a1.05,1.05 0 1,0 2.1,0a1.05,1.05 0 1,0 -2.1,0M62.78,416.60a1.05,1.05 0 1,0 2.1,0a1.05,1.05 0 1,0 -2.1,0M73.75,415.98a1.05,1.05 0 1,0 2.1,0a1.05,1.05 0 1,0 -2.1,0M84.71,415.50a1.05,1.05 0 1,0 2.1,0a1.05,1.05 0 1,0 -2.1,0M95.67,415.20a1.05,1.05 0 1,0 2.1,0a1.05,1.05 0 1,0 -2.1,0M106.64,414.95a1.05,1.05 0 1,0 2.1,0a1.05,1.05 0 1,0 -2.1,0M117.61,414.67a1.05,1.05 0 1,0 2.1,0a1.05,1.05 0 1,0 -2.1,0M128.57,414.40a1.05,1.05 0 1,0 2.1,0a1.05,1.05 0 1,0 -2.1,0M139.53,414.12a1.05,1.05 0 1,0 2.1,0a1.05,1.05 0 1,0 -2.1,0M150.50,413.85a1.05,1.05 0 1,0 2.1,0a1.05,1.05 0 1,0 -2.1,0M161.47,413.57a1.05,1.05 0 1,0 2.1,0a1.05,1.05 0 1,0 -2.1,0M172.43,413.30a1.05,1.05 0 1,0 2.1,0a1.05,1.05 0 1,0 -2.1,0M183.40,413.02a1.05,1.05 0 1,0 2.1,0a1.05,1.05 0 1,0 -2.1,0M194.36,412.75a1.05,1.05 0 1,0 2.1,0a1.05,1.05 0 1,0 -2.1,0M205.33,412.50a1.05,1.05 0 1,0 2.1,0a1.05,1.05 0 1,0 -2.1,0M216.29,412.20a1.05,1.05 0 1,0 2.1,0a1.05,1.05 0 1,0 -2.1,0M227.25,411.77a1.05,1.05 0 1,0 2.1,0a1.05,1.05 0 1,0 -2.1,0M238.22,410.98a1.05,1.05 0 1,0 2.1,0a1.05,1.05 0 1,0 -2.1,0M244.80,410.00a1.05,1.05 0 1,0 2.1,0a1.05,1.05 0 1,0 -2.1,0M249.19,408.78a1.05,1.05 0 1,0 2.1,0a1.05,1.05 0 1,0 -2.1,0M253.57,406.19a1.05,1.05 0 1,0 2.1,0a1.05,1.05 0 1,0 -2.1,0M255.76,403.40a1.05,1.05 0 1,0 2.1,0a1.05,1.05 0 1,0 -2.1,0M257.96,396.80a1.05,1.05 0 1,0 2.1,0a1.05,1.05 0 1,0 -2.1,0M259.05,385.80a1.05,1.05 0 1,0 2.1,0a1.05,1.05 0 1,0 -2.1,0M259.05,385.80a1.05,1.05 0 1,0 2.1,0a1.05,1.05 0 1,0 -2.1,0M257.96,393.50a1.05,1.05 0 1,0 2.1,0a1.05,1.05 0 1,0 -2.1,0M255.76,401.20a1.05,1.05 0 1,0 2.1,0a1.05,1.05 0 1,0 -2.1,0M253.57,404.32a1.05,1.05 0 1,0 2.1,0a1.05,1.05 0 1,0 -2.1,0M251.38,406.15a1.05,1.05 0 1,0 2.1,0a1.05,1.05 0 1,0 -2.1,0M249.19,407.36a1.05,1.05 0 1,0 2.1,0a1.05,1.05 0 1,0 -2.1,0M246.99,408.27a1.05,1.05 0 1,0 2.1,0a1.05,1.05 0 1,0 -2.1,0M244.80,408.90a1.05,1.05 0 1,0 2.1,0a1.05,1.05 0 1,0 -2.1,0M242.61,409.38a1.05,1.05 0 1,0 2.1,0a1.05,1.05 0 1,0 -2.1,0M240.41,409.79a1.05,1.05 0 1,0 2.1,0a1.05,1.05 0 1,0 -2.1,0M238.22,410.13a1.05,1.05 0 1,0 2.1,0a1.05,1.05 0 1,0 -2.1,0M233.83,410.55a1.05,1.05 0 1,0 2.1,0a1.05,1.05 0 1,0 -2.1,0M229.45,410.74a1.05,1.05 0 1,0 2.1,0a1.05,1.05 0 1,0 -2.1,0M225.06,410.87a1.05,1.05 0 1,0 2.1,0a1.05,1.05 0 1,0 -2.1,0M220.68,410.97a1.05,1.05 0 1,0 2.1,0a1.05,1.05 0 1,0 -2.1,0M216.29,411.10a1.05,1.05 0 1,0 2.1,0a1.05,1.05 0 1,0 -2.1,0M205.33,411.52a1.05,1.05 0 1,0 2.1,0a1.05,1.05 0 1,0 -2.1,0M194.36,411.92a1.05,1.05 0 1,0 2.1,0a1.05,1.05 0 1,0 -2.1,0M183.40,412.21a1.05,1.05 0 1,0 2.1,0a1.05,1.05 0 1,0 -2.1,0M172.43,412.47a1.05,1.05 0 1,0 2.1,0a1.05,1.05 0 1,0 -2.1,0M161.47,412.70a1.05,1.05 0 1,0 2.1,0a1.05,1.05 0 1,0 -2.1,0M150.50,413.02a1.05,1.05 0 1,0 2.1,0a1.05,1.05 0 1,0 -2.1,0M139.53,414.12a1.05,1.05 0 1,0 2.1,0a1.05,1.05 0 1,0 -2.1,0" fill="#9a1df2"/>
<line x1="41.9" y1="358.0" x2="64.2" y2="358.0" stroke="#f5188a" stroke-width="1.4"/>
<circle cx="53.7" cy="358.0" r="1.2" fill="#f5188a"/>
<text x="68.30" y="361.67" font-size="10.2" fill="#080808" text-anchor="start" textLength="46.6" lengthAdjust="spacingAndGlyphs" stroke="#080808" stroke-width="0.22">CP_NaOH</text>
<line x1="41.9" y1="370.8" x2="64.2" y2="370.8" stroke="#9c0f17" stroke-width="1.4"/>
<circle cx="53.7" cy="370.8" r="1.2" fill="#9c0f17"/>
<text x="68.30" y="374.47" font-size="10.2" fill="#080808" text-anchor="start" textLength="66.3" lengthAdjust="spacingAndGlyphs" stroke="#080808" stroke-width="0.22">HT_NaOH_100</text>
<line x1="41.9" y1="383.3" x2="64.2" y2="383.3" stroke="#fb8417" stroke-width="1.4"/>
<circle cx="53.7" cy="383.3" r="1.2" fill="#fb8417"/>
<text x="68.30" y="386.97" font-size="10.2" fill="#080808" text-anchor="start" textLength="66.3" lengthAdjust="spacingAndGlyphs" stroke="#080808" stroke-width="0.22">HT_NaOH_180</text>
<line x1="137.0" y1="359.0" x2="155.0" y2="359.0" stroke="#1f8a80" stroke-width="1.4"/>
<circle cx="146.4" cy="359.0" r="1.2" fill="#1f8a80"/>
<text x="158.90" y="362.67" font-size="10.2" fill="#080808" text-anchor="start" textLength="38.0" lengthAdjust="spacingAndGlyphs" stroke="#080808" stroke-width="0.22">CP_NH3</text>
<line x1="137.0" y1="371.2" x2="155.0" y2="371.2" stroke="#1c1cf5" stroke-width="1.4"/>
<circle cx="146.4" cy="371.2" r="1.2" fill="#1c1cf5"/>
<text x="158.90" y="374.87" font-size="10.2" fill="#080808" text-anchor="start" textLength="58.0" lengthAdjust="spacingAndGlyphs" stroke="#080808" stroke-width="0.22">HT_NH3_100</text>
<line x1="137.0" y1="383.3" x2="155.0" y2="383.3" stroke="#9a1df2" stroke-width="1.4"/>
<circle cx="146.4" cy="383.3" r="1.2" fill="#9a1df2"/>
<text x="158.90" y="386.97" font-size="10.2" fill="#080808" text-anchor="start" textLength="58.0" lengthAdjust="spacingAndGlyphs" stroke="#080808" stroke-width="0.22">HT_NH3_180</text>
<text x="49.80" y="268.30" font-size="14" fill="#080808" text-anchor="start"  stroke="#080808" stroke-width="0.31">(c)</text>
<text x="0" y="0" font-size="12.6" fill="#080808" text-anchor="middle" transform="translate(13.6,343.7) rotate(-90)" stroke="#080808" stroke-width="0.28">Adsorbed Volume (cm<tspan font-size="7.8" dy="-5">3</tspan><tspan dy="5">/g), STP</tspan></text>
<text x="88.6" y="452.6" font-size="12" fill="#080808" stroke="#080808" stroke-width="0.26">Relative Pressure (P/P<tspan font-size="7.5" dy="3">0</tspan><tspan dy="-3">)</tspan></text>
<line x1="321.8" y1="248.5" x2="321.8" y2="426.0" stroke="#6e6e6e" stroke-width="1.1"/>
<line x1="321.8" y1="426.0" x2="542" y2="426.0" stroke="#6e6e6e" stroke-width="1.1"/>
<line x1="318.8" y1="426.00" x2="321.8" y2="426.00" stroke="#6e6e6e" stroke-width="1"/>
<text x="316.20" y="428.70" font-size="7.6" fill="#2a2a2a" text-anchor="end"  stroke="#2a2a2a" stroke-width="0.17">0</text>
<line x1="320.2" y1="414.95" x2="321.8" y2="414.95" stroke="#6e6e6e" stroke-width="1"/>
<line x1="318.8" y1="403.90" x2="321.8" y2="403.90" stroke="#6e6e6e" stroke-width="1"/>
<text x="316.20" y="406.60" font-size="7.6" fill="#2a2a2a" text-anchor="end"  stroke="#2a2a2a" stroke-width="0.17">20</text>
<line x1="320.2" y1="392.85" x2="321.8" y2="392.85" stroke="#6e6e6e" stroke-width="1"/>
<line x1="318.8" y1="381.80" x2="321.8" y2="381.80" stroke="#6e6e6e" stroke-width="1"/>
<text x="316.20" y="384.50" font-size="7.6" fill="#2a2a2a" text-anchor="end"  stroke="#2a2a2a" stroke-width="0.17">40</text>
<line x1="320.2" y1="370.75" x2="321.8" y2="370.75" stroke="#6e6e6e" stroke-width="1"/>
<line x1="318.8" y1="359.70" x2="321.8" y2="359.70" stroke="#6e6e6e" stroke-width="1"/>
<text x="316.20" y="362.40" font-size="7.6" fill="#2a2a2a" text-anchor="end"  stroke="#2a2a2a" stroke-width="0.17">60</text>
<line x1="320.2" y1="348.65" x2="321.8" y2="348.65" stroke="#6e6e6e" stroke-width="1"/>
<line x1="318.8" y1="337.60" x2="321.8" y2="337.60" stroke="#6e6e6e" stroke-width="1"/>
<text x="316.20" y="340.30" font-size="7.6" fill="#2a2a2a" text-anchor="end"  stroke="#2a2a2a" stroke-width="0.17">80</text>
<line x1="320.2" y1="326.55" x2="321.8" y2="326.55" stroke="#6e6e6e" stroke-width="1"/>
<line x1="318.8" y1="315.50" x2="321.8" y2="315.50" stroke="#6e6e6e" stroke-width="1"/>
<text x="316.20" y="318.20" font-size="7.6" fill="#2a2a2a" text-anchor="end"  stroke="#2a2a2a" stroke-width="0.17">100</text>
<line x1="320.2" y1="304.45" x2="321.8" y2="304.45" stroke="#6e6e6e" stroke-width="1"/>
<line x1="318.8" y1="293.40" x2="321.8" y2="293.40" stroke="#6e6e6e" stroke-width="1"/>
<text x="316.20" y="296.10" font-size="7.6" fill="#2a2a2a" text-anchor="end"  stroke="#2a2a2a" stroke-width="0.17">120</text>
<line x1="320.2" y1="282.35" x2="321.8" y2="282.35" stroke="#6e6e6e" stroke-width="1"/>
<line x1="318.8" y1="271.30" x2="321.8" y2="271.30" stroke="#6e6e6e" stroke-width="1"/>
<text x="316.20" y="274.00" font-size="7.6" fill="#2a2a2a" text-anchor="end"  stroke="#2a2a2a" stroke-width="0.17">140</text>
<line x1="320.2" y1="260.25" x2="321.8" y2="260.25" stroke="#6e6e6e" stroke-width="1"/>
<line x1="318.8" y1="249.20" x2="321.8" y2="249.20" stroke="#6e6e6e" stroke-width="1"/>
<text x="316.20" y="251.90" font-size="7.6" fill="#2a2a2a" text-anchor="end"  stroke="#2a2a2a" stroke-width="0.17">160</text>
<line x1="321.80" y1="426.0" x2="321.80" y2="429.0" stroke="#6e6e6e" stroke-width="1"/>
<text x="321.80" y="439.00" font-size="7.6" fill="#2a2a2a" text-anchor="middle"  stroke="#2a2a2a" stroke-width="0.17">0.0</text>
<line x1="332.74" y1="426.0" x2="332.74" y2="427.6" stroke="#6e6e6e" stroke-width="1"/>
<line x1="343.68" y1="426.0" x2="343.68" y2="429.0" stroke="#6e6e6e" stroke-width="1"/>
<text x="343.68" y="439.00" font-size="7.6" fill="#2a2a2a" text-anchor="middle"  stroke="#2a2a2a" stroke-width="0.17">0.1</text>
<line x1="354.62" y1="426.0" x2="354.62" y2="427.6" stroke="#6e6e6e" stroke-width="1"/>
<line x1="365.56" y1="426.0" x2="365.56" y2="429.0" stroke="#6e6e6e" stroke-width="1"/>
<text x="365.56" y="439.00" font-size="7.6" fill="#2a2a2a" text-anchor="middle"  stroke="#2a2a2a" stroke-width="0.17">0.2</text>
<line x1="376.50" y1="426.0" x2="376.50" y2="427.6" stroke="#6e6e6e" stroke-width="1"/>
<line x1="387.44" y1="426.0" x2="387.44" y2="429.0" stroke="#6e6e6e" stroke-width="1"/>
<text x="387.44" y="439.00" font-size="7.6" fill="#2a2a2a" text-anchor="middle"  stroke="#2a2a2a" stroke-width="0.17">0.3</text>
<line x1="398.38" y1="426.0" x2="398.38" y2="427.6" stroke="#6e6e6e" stroke-width="1"/>
<line x1="409.32" y1="426.0" x2="409.32" y2="429.0" stroke="#6e6e6e" stroke-width="1"/>
<text x="409.32" y="439.00" font-size="7.6" fill="#2a2a2a" text-anchor="middle"  stroke="#2a2a2a" stroke-width="0.17">0.4</text>
<line x1="420.26" y1="426.0" x2="420.26" y2="427.6" stroke="#6e6e6e" stroke-width="1"/>
<line x1="431.20" y1="426.0" x2="431.20" y2="429.0" stroke="#6e6e6e" stroke-width="1"/>
<text x="431.20" y="439.00" font-size="7.6" fill="#2a2a2a" text-anchor="middle"  stroke="#2a2a2a" stroke-width="0.17">0.5</text>
<line x1="442.14" y1="426.0" x2="442.14" y2="427.6" stroke="#6e6e6e" stroke-width="1"/>
<line x1="453.08" y1="426.0" x2="453.08" y2="429.0" stroke="#6e6e6e" stroke-width="1"/>
<text x="453.08" y="439.00" font-size="7.6" fill="#2a2a2a" text-anchor="middle"  stroke="#2a2a2a" stroke-width="0.17">0.6</text>
<line x1="464.02" y1="426.0" x2="464.02" y2="427.6" stroke="#6e6e6e" stroke-width="1"/>
<line x1="474.96" y1="426.0" x2="474.96" y2="429.0" stroke="#6e6e6e" stroke-width="1"/>
<text x="474.96" y="439.00" font-size="7.6" fill="#2a2a2a" text-anchor="middle"  stroke="#2a2a2a" stroke-width="0.17">0.7</text>
<line x1="485.90" y1="426.0" x2="485.90" y2="427.6" stroke="#6e6e6e" stroke-width="1"/>
<line x1="496.84" y1="426.0" x2="496.84" y2="429.0" stroke="#6e6e6e" stroke-width="1"/>
<text x="496.84" y="439.00" font-size="7.6" fill="#2a2a2a" text-anchor="middle"  stroke="#2a2a2a" stroke-width="0.17">0.8</text>
<line x1="507.78" y1="426.0" x2="507.78" y2="427.6" stroke="#6e6e6e" stroke-width="1"/>
<line x1="518.72" y1="426.0" x2="518.72" y2="429.0" stroke="#6e6e6e" stroke-width="1"/>
<text x="518.72" y="439.00" font-size="7.6" fill="#2a2a2a" text-anchor="middle"  stroke="#2a2a2a" stroke-width="0.17">0.9</text>
<line x1="529.66" y1="426.0" x2="529.66" y2="427.6" stroke="#6e6e6e" stroke-width="1"/>
<line x1="540.60" y1="426.0" x2="540.60" y2="429.0" stroke="#6e6e6e" stroke-width="1"/>
<text x="540.60" y="439.00" font-size="7.6" fill="#2a2a2a" text-anchor="middle"  stroke="#2a2a2a" stroke-width="0.17">1.0</text>
<line x1="480.3" y1="259.5" x2="480.3" y2="345.0" stroke="#888" stroke-width="0.7" stroke-dasharray="1.5,1.5"/>
<line x1="390.4" y1="257.5" x2="390.4" y2="345.0" stroke="#777" stroke-width="0.8"/>
<line x1="390.4" y1="345.0" x2="498.5" y2="345.0" stroke="#777" stroke-width="0.8"/>
<line x1="388.79999999999995" y1="345.00" x2="390.4" y2="345.00" stroke="#777" stroke-width="0.6"/>
<text x="388.00" y="346.50" font-size="4.5" fill="#555" text-anchor="end"  stroke="#555" stroke-width="0.10">0.00</text>
<line x1="389.5" y1="339.85" x2="390.4" y2="339.85" stroke="#777" stroke-width="0.6"/>
<line x1="388.79999999999995" y1="334.70" x2="390.4" y2="334.70" stroke="#777" stroke-width="0.6"/>
<text x="388.00" y="336.20" font-size="4.5" fill="#555" text-anchor="end"  stroke="#555" stroke-width="0.10">0.02</text>
<line x1="389.5" y1="329.55" x2="390.4" y2="329.55" stroke="#777" stroke-width="0.6"/>
<line x1="388.79999999999995" y1="324.40" x2="390.4" y2="324.40" stroke="#777" stroke-width="0.6"/>
<text x="388.00" y="325.90" font-size="4.5" fill="#555" text-anchor="end"  stroke="#555" stroke-width="0.10">0.04</text>
<line x1="389.5" y1="319.25" x2="390.4" y2="319.25" stroke="#777" stroke-width="0.6"/>
<line x1="388.79999999999995" y1="314.10" x2="390.4" y2="314.10" stroke="#777" stroke-width="0.6"/>
<text x="388.00" y="315.60" font-size="4.5" fill="#555" text-anchor="end"  stroke="#555" stroke-width="0.10">0.06</text>
<line x1="389.5" y1="308.95" x2="390.4" y2="308.95" stroke="#777" stroke-width="0.6"/>
<line x1="388.79999999999995" y1="303.80" x2="390.4" y2="303.80" stroke="#777" stroke-width="0.6"/>
<text x="388.00" y="305.30" font-size="4.5" fill="#555" text-anchor="end"  stroke="#555" stroke-width="0.10">0.08</text>
<line x1="389.5" y1="298.65" x2="390.4" y2="298.65" stroke="#777" stroke-width="0.6"/>
<line x1="388.79999999999995" y1="293.50" x2="390.4" y2="293.50" stroke="#777" stroke-width="0.6"/>
<text x="388.00" y="295.00" font-size="4.5" fill="#555" text-anchor="end"  stroke="#555" stroke-width="0.10">0.10</text>
<line x1="389.5" y1="288.35" x2="390.4" y2="288.35" stroke="#777" stroke-width="0.6"/>
<line x1="388.79999999999995" y1="283.20" x2="390.4" y2="283.20" stroke="#777" stroke-width="0.6"/>
<text x="388.00" y="284.70" font-size="4.5" fill="#555" text-anchor="end"  stroke="#555" stroke-width="0.10">0.12</text>
<line x1="389.5" y1="278.05" x2="390.4" y2="278.05" stroke="#777" stroke-width="0.6"/>
<line x1="388.79999999999995" y1="272.90" x2="390.4" y2="272.90" stroke="#777" stroke-width="0.6"/>
<text x="388.00" y="274.40" font-size="4.5" fill="#555" text-anchor="end"  stroke="#555" stroke-width="0.10">0.14</text>
<line x1="389.5" y1="267.75" x2="390.4" y2="267.75" stroke="#777" stroke-width="0.6"/>
<line x1="388.79999999999995" y1="262.60" x2="390.4" y2="262.60" stroke="#777" stroke-width="0.6"/>
<text x="388.00" y="264.10" font-size="4.5" fill="#555" text-anchor="end"  stroke="#555" stroke-width="0.10">0.16</text>
<line x1="391.17" y1="345.0" x2="391.17" y2="345.9" stroke="#777" stroke-width="0.6"/>
<line x1="402.22" y1="345.0" x2="402.22" y2="345.9" stroke="#777" stroke-width="0.6"/>
<line x1="410.05" y1="345.0" x2="410.05" y2="345.9" stroke="#777" stroke-width="0.6"/>
<line x1="416.13" y1="345.0" x2="416.13" y2="345.9" stroke="#777" stroke-width="0.6"/>
<line x1="421.09" y1="345.0" x2="421.09" y2="345.9" stroke="#777" stroke-width="0.6"/>
<line x1="425.29" y1="345.0" x2="425.29" y2="345.9" stroke="#777" stroke-width="0.6"/>
<line x1="428.92" y1="345.0" x2="428.92" y2="345.9" stroke="#777" stroke-width="0.6"/>
<line x1="432.13" y1="345.0" x2="432.13" y2="345.9" stroke="#777" stroke-width="0.6"/>
<line x1="435.00" y1="345.0" x2="435.00" y2="346.6" stroke="#777" stroke-width="0.6"/>
<line x1="453.87" y1="345.0" x2="453.87" y2="345.9" stroke="#777" stroke-width="0.6"/>
<line x1="464.92" y1="345.0" x2="464.92" y2="345.9" stroke="#777" stroke-width="0.6"/>
<line x1="472.75" y1="345.0" x2="472.75" y2="345.9" stroke="#777" stroke-width="0.6"/>
<line x1="478.83" y1="345.0" x2="478.83" y2="345.9" stroke="#777" stroke-width="0.6"/>
<line x1="483.79" y1="345.0" x2="483.79" y2="345.9" stroke="#777" stroke-width="0.6"/>
<line x1="487.99" y1="345.0" x2="487.99" y2="345.9" stroke="#777" stroke-width="0.6"/>
<line x1="491.62" y1="345.0" x2="491.62" y2="345.9" stroke="#777" stroke-width="0.6"/>
<line x1="494.83" y1="345.0" x2="494.83" y2="345.9" stroke="#777" stroke-width="0.6"/>
<line x1="497.70" y1="345.0" x2="497.70" y2="346.6" stroke="#777" stroke-width="0.6"/>
<text x="435.00" y="350.30" font-size="4.5" fill="#555" text-anchor="middle"  stroke="#555" stroke-width="0.10">10</text>
<text x="497.70" y="350.30" font-size="4.5" fill="#555" text-anchor="middle"  stroke="#555" stroke-width="0.10">100</text>
<text x="421.30" y="359.80" font-size="6.65" fill="#2a2a2a" text-anchor="start"  stroke="#2a2a2a" stroke-width="0.15">Pore width (nm)</text>
<text x="0" y="0" font-size="6.7" fill="#333" text-anchor="middle" transform="translate(372.2,301.5) rotate(-90)" stroke="#333" stroke-width="0.15">Incremental Pore Volume (cm<tspan font-size="4.02" dy="-2.68">3</tspan><tspan dy="2.68">/g)</tspan></text>
<polyline points="392.00,345.00 420.00,345.00 440.00,345.00 455.00,345.00 461.00,343.97 467.70,333.67 480.30,261.57 498.00,339.85" fill="none" stroke="#9c0f17" stroke-width="0.8" stroke-linejoin="round"/>
<path d="M391.15,345.00a0.85,0.85 0 1,0 1.7,0a0.85,0.85 0 1,0 -1.7,0M419.15,345.00a0.85,0.85 0 1,0 1.7,0a0.85,0.85 0 1,0 -1.7,0M439.15,345.00a0.85,0.85 0 1,0 1.7,0a0.85,0.85 0 1,0 -1.7,0M454.15,345.00a0.85,0.85 0 1,0 1.7,0a0.85,0.85 0 1,0 -1.7,0M460.15,343.97a0.85,0.85 0 1,0 1.7,0a0.85,0.85 0 1,0 -1.7,0M466.85,333.67a0.85,0.85 0 1,0 1.7,0a0.85,0.85 0 1,0 -1.7,0M479.45,261.57a0.85,0.85 0 1,0 1.7,0a0.85,0.85 0 1,0 -1.7,0M497.15,339.85a0.85,0.85 0 1,0 1.7,0a0.85,0.85 0 1,0 -1.7,0" fill="#9c0f17"/>
<polyline points="392.00,345.00 420.00,345.00 440.00,345.00 455.00,345.00 461.00,343.45 467.70,335.73 480.30,270.32 498.00,338.82" fill="none" stroke="#f5188a" stroke-width="0.8" stroke-linejoin="round"/>
<path d="M391.15,345.00a0.85,0.85 0 1,0 1.7,0a0.85,0.85 0 1,0 -1.7,0M419.15,345.00a0.85,0.85 0 1,0 1.7,0a0.85,0.85 0 1,0 -1.7,0M439.15,345.00a0.85,0.85 0 1,0 1.7,0a0.85,0.85 0 1,0 -1.7,0M454.15,345.00a0.85,0.85 0 1,0 1.7,0a0.85,0.85 0 1,0 -1.7,0M460.15,343.45a0.85,0.85 0 1,0 1.7,0a0.85,0.85 0 1,0 -1.7,0M466.85,335.73a0.85,0.85 0 1,0 1.7,0a0.85,0.85 0 1,0 -1.7,0M479.45,270.32a0.85,0.85 0 1,0 1.7,0a0.85,0.85 0 1,0 -1.7,0M497.15,338.82a0.85,0.85 0 1,0 1.7,0a0.85,0.85 0 1,0 -1.7,0" fill="#f5188a"/>
<polyline points="392.00,345.00 405.00,345.00 420.00,345.00 440.00,345.00 455.00,345.00 461.00,343.97 467.70,335.73 480.30,330.06 498.00,335.73" fill="none" stroke="#fb8417" stroke-width="0.8" stroke-linejoin="round"/>
<path d="M391.15,345.00a0.85,0.85 0 1,0 1.7,0a0.85,0.85 0 1,0 -1.7,0M404.15,345.00a0.85,0.85 0 1,0 1.7,0a0.85,0.85 0 1,0 -1.7,0M419.15,345.00a0.85,0.85 0 1,0 1.7,0a0.85,0.85 0 1,0 -1.7,0M439.15,345.00a0.85,0.85 0 1,0 1.7,0a0.85,0.85 0 1,0 -1.7,0M454.15,345.00a0.85,0.85 0 1,0 1.7,0a0.85,0.85 0 1,0 -1.7,0M460.15,343.97a0.85,0.85 0 1,0 1.7,0a0.85,0.85 0 1,0 -1.7,0M466.85,335.73a0.85,0.85 0 1,0 1.7,0a0.85,0.85 0 1,0 -1.7,0M479.45,330.06a0.85,0.85 0 1,0 1.7,0a0.85,0.85 0 1,0 -1.7,0M497.15,335.73a0.85,0.85 0 1,0 1.7,0a0.85,0.85 0 1,0 -1.7,0" fill="#fb8417"/>
<polyline points="392.00,345.00 405.00,345.00 420.00,345.00 440.00,345.00 455.00,345.00 461.00,343.97 467.70,339.85 480.30,320.80 498.00,334.70" fill="none" stroke="#9a1df2" stroke-width="0.8" stroke-linejoin="round"/>
<path d="M391.15,345.00a0.85,0.85 0 1,0 1.7,0a0.85,0.85 0 1,0 -1.7,0M404.15,345.00a0.85,0.85 0 1,0 1.7,0a0.85,0.85 0 1,0 -1.7,0M419.15,345.00a0.85,0.85 0 1,0 1.7,0a0.85,0.85 0 1,0 -1.7,0M439.15,345.00a0.85,0.85 0 1,0 1.7,0a0.85,0.85 0 1,0 -1.7,0M454.15,345.00a0.85,0.85 0 1,0 1.7,0a0.85,0.85 0 1,0 -1.7,0M460.15,343.97a0.85,0.85 0 1,0 1.7,0a0.85,0.85 0 1,0 -1.7,0M466.85,339.85a0.85,0.85 0 1,0 1.7,0a0.85,0.85 0 1,0 -1.7,0M479.45,320.80a0.85,0.85 0 1,0 1.7,0a0.85,0.85 0 1,0 -1.7,0M497.15,334.70a0.85,0.85 0 1,0 1.7,0a0.85,0.85 0 1,0 -1.7,0" fill="#9a1df2"/>
<polyline points="392.00,345.00 400.00,345.00 405.00,343.97 410.00,345.00 420.00,345.00 430.00,344.49 437.00,343.45 443.00,341.91 449.00,339.85 455.00,337.27 461.00,334.70 467.70,331.61 480.30,327.49 498.00,341.91" fill="none" stroke="#1f8a80" stroke-width="0.8" stroke-linejoin="round"/>
<path d="M391.15,345.00a0.85,0.85 0 1,0 1.7,0a0.85,0.85 0 1,0 -1.7,0M399.15,345.00a0.85,0.85 0 1,0 1.7,0a0.85,0.85 0 1,0 -1.7,0M404.15,343.97a0.85,0.85 0 1,0 1.7,0a0.85,0.85 0 1,0 -1.7,0M409.15,345.00a0.85,0.85 0 1,0 1.7,0a0.85,0.85 0 1,0 -1.7,0M419.15,345.00a0.85,0.85 0 1,0 1.7,0a0.85,0.85 0 1,0 -1.7,0M429.15,344.49a0.85,0.85 0 1,0 1.7,0a0.85,0.85 0 1,0 -1.7,0M436.15,343.45a0.85,0.85 0 1,0 1.7,0a0.85,0.85 0 1,0 -1.7,0M442.15,341.91a0.85,0.85 0 1,0 1.7,0a0.85,0.85 0 1,0 -1.7,0M448.15,339.85a0.85,0.85 0 1,0 1.7,0a0.85,0.85 0 1,0 -1.7,0M454.15,337.27a0.85,0.85 0 1,0 1.7,0a0.85,0.85 0 1,0 -1.7,0M460.15,334.70a0.85,0.85 0 1,0 1.7,0a0.85,0.85 0 1,0 -1.7,0M466.85,331.61a0.85,0.85 0 1,0 1.7,0a0.85,0.85 0 1,0 -1.7,0M479.45,327.49a0.85,0.85 0 1,0 1.7,0a0.85,0.85 0 1,0 -1.7,0M497.15,341.91a0.85,0.85 0 1,0 1.7,0a0.85,0.85 0 1,0 -1.7,0" fill="#1f8a80"/>
<polyline points="392.00,344.49 396.00,345.00 400.00,344.49 405.00,343.97 410.00,345.00 420.00,345.00 430.00,345.00 440.00,345.00 449.00,345.00 455.00,345.00 461.00,343.97 467.70,341.39 480.30,338.31 498.00,340.37" fill="none" stroke="#1c1cf5" stroke-width="0.8" stroke-linejoin="round"/>
<path d="M391.15,344.49a0.85,0.85 0 1,0 1.7,0a0.85,0.85 0 1,0 -1.7,0M395.15,345.00a0.85,0.85 0 1,0 1.7,0a0.85,0.85 0 1,0 -1.7,0M399.15,344.49a0.85,0.85 0 1,0 1.7,0a0.85,0.85 0 1,0 -1.7,0M404.15,343.97a0.85,0.85 0 1,0 1.7,0a0.85,0.85 0 1,0 -1.7,0M409.15,345.00a0.85,0.85 0 1,0 1.7,0a0.85,0.85 0 1,0 -1.7,0M419.15,345.00a0.85,0.85 0 1,0 1.7,0a0.85,0.85 0 1,0 -1.7,0M429.15,345.00a0.85,0.85 0 1,0 1.7,0a0.85,0.85 0 1,0 -1.7,0M439.15,345.00a0.85,0.85 0 1,0 1.7,0a0.85,0.85 0 1,0 -1.7,0M448.15,345.00a0.85,0.85 0 1,0 1.7,0a0.85,0.85 0 1,0 -1.7,0M454.15,345.00a0.85,0.85 0 1,0 1.7,0a0.85,0.85 0 1,0 -1.7,0M460.15,343.97a0.85,0.85 0 1,0 1.7,0a0.85,0.85 0 1,0 -1.7,0M466.85,341.39a0.85,0.85 0 1,0 1.7,0a0.85,0.85 0 1,0 -1.7,0M479.45,338.31a0.85,0.85 0 1,0 1.7,0a0.85,0.85 0 1,0 -1.7,0M497.15,340.37a0.85,0.85 0 1,0 1.7,0a0.85,0.85 0 1,0 -1.7,0" fill="#1c1cf5"/>
<polyline points="322.9,423.8 325.9,423.1 328.8,422.7 331.8,422.5 334.7,422.4 337.6,422.3 340.5,422.2 343.3,422.1 346.2,422.1 349.0,422.0 351.8,421.9 354.5,421.8 357.3,421.8 360.0,421.7 362.7,421.6 365.4,421.6 368.0,421.5 370.7,421.5 373.3,421.4 375.9,421.4 378.4,421.4 381.0,421.3 383.5,421.3 386.0,421.3 388.5,421.2 390.9,421.2 393.4,421.2 395.8,421.1 398.2,421.1 400.5,421.0 402.9,421.0 405.2,420.9 407.5,420.8 409.8,420.8 412.1,420.7 414.3,420.6 416.5,420.5 418.7,420.4 420.9,420.3 423.1,420.2 425.2,420.2 427.3,420.1 429.4,420.0 431.5,419.9 433.5,419.8 435.5,419.8 437.6,419.7 439.5,419.6 441.5,419.5 443.5,419.5 445.4,419.4 447.3,419.3 449.2,419.2 451.0,419.1 452.9,419.1 454.7,419.0 456.5,418.9 458.3,418.8 460.0,418.8 461.8,418.7 463.5,418.6 465.2,418.5 466.8,418.5 468.5,418.4 470.1,418.3 471.7,418.2 473.3,418.1 474.9,418.0 476.5,417.9 478.0,417.9 479.5,417.8 481.0,417.7 482.5,417.6 483.9,417.5 485.4,417.4 486.8,417.3 488.2,417.2 489.6,417.1 490.9,417.0 492.2,416.9 493.6,416.9 494.9,416.8 496.1,416.7 497.4,416.6 498.6,416.5 499.8,416.4 501.0,416.3 502.2,416.2 503.4,416.1 504.5,416.0 505.6,415.9 506.7,415.8 507.8,415.7 508.9,415.6 509.9,415.5 511.0,415.4 512.0,415.2 513.0,415.1 513.9,415.0 514.9,414.9 515.8,414.7 516.7,414.6 517.6,414.5 518.5,414.3 519.4,414.2 520.2,414.0 521.0,413.8 521.8,413.6 522.6,413.5 523.4,413.3 524.2,413.1 524.9,412.9 525.6,412.6 526.3,412.4 527.0,412.2 527.6,411.9 528.3,411.6 528.9,411.3 529.5,410.9 530.1,410.5 530.7,410.0 531.3,409.3 531.8,408.2 532.3,406.8 532.8,405.0 533.3,403.1 533.8,400.9 534.3,398.6 534.7,396.2 535.1,393.6 535.6,390.2 535.9,386.2 536.3,381.5 536.7,376.5 537.0,371.1 537.4,365.4 537.7,359.7 538.0,353.8 538.3,347.9 538.5,342.1 538.8,336.4 539.0,330.8 539.3,324.5 539.5,316.7 539.7,308.6 539.8,301.1 540.0,294.8 540.2,290.0 540.3,286.3 540.4,283.3 540.5,280.7 540.6,278.5 540.7,276.7 540.8,275.1 540.9,273.7 540.9,272.6 541.0,271.7 541.0,271.0 541.0,270.5 541.0,270.3 541.0,270.2" fill="none" stroke="#f5188a" stroke-width="1.15" stroke-linejoin="round"/>
<polyline points="431.2,419.9 432.7,419.8 434.2,419.8 435.7,419.7 437.2,419.6 438.6,419.5 440.1,419.4 441.5,419.4 442.9,419.3 444.3,419.2 445.7,419.1 447.1,419.0 448.5,419.0 449.9,418.9 451.2,418.8 452.6,418.7 453.9,418.7 455.2,418.6 456.6,418.5 457.9,418.4 459.2,418.4 460.4,418.3 461.7,418.2 463.0,418.1 464.2,418.1 465.5,418.0 466.7,417.9 467.9,417.8 469.1,417.8 470.3,417.7 471.5,417.6 472.6,417.5 473.8,417.5 475.0,417.4 476.1,417.3 477.2,417.2 478.3,417.2 479.5,417.1 480.5,417.0 481.6,416.9 482.7,416.9 483.8,416.8 484.8,416.7 485.9,416.6 486.9,416.6 487.9,416.5 488.9,416.4 489.9,416.4 490.9,416.3 491.9,416.2 492.9,416.1 493.8,416.1 494.8,416.0 495.7,415.9 496.6,415.8 497.6,415.8 498.5,415.7 499.4,415.6 500.2,415.6 501.1,415.5 502.0,415.5 502.8,415.4 503.7,415.4 504.5,415.3 505.3,415.3 506.1,415.2 507.0,415.1 507.7,415.1 508.5,415.0 509.3,415.0 510.1,414.9 510.8,414.8 511.6,414.8 512.3,414.7 513.0,414.6 513.7,414.5 514.4,414.5 515.1,414.4 515.8,414.3 516.5,414.2 517.1,414.1 517.8,414.0 518.4,413.9 519.1,413.8 519.7,413.6 520.3,413.5 520.9,413.3 521.5,413.1 522.1,412.8 522.7,412.6 523.2,412.3 523.8,412.0 524.3,411.7 524.9,411.4 525.4,411.0 525.9,410.6 526.4,410.2 526.9,409.7 527.4,409.1 527.9,408.4 528.3,407.6 528.8,406.7 529.3,405.3 529.7,403.5 530.1,401.4 530.6,399.1 531.0,396.5 531.4,393.7 531.8,390.2 532.2,386.0 532.5,381.5 532.9,376.7 533.3,371.7 533.6,366.0 534.0,360.0 534.3,353.9 534.6,347.7 534.9,341.6 535.2,335.8 535.5,330.3 535.8,324.8 536.1,319.1 536.4,313.4 536.7,307.9 536.9,302.8 537.2,298.3 537.4,294.5 537.6,291.4 537.9,289.2 538.1,287.3 538.3,285.6 538.5,284.2 538.7,282.9 538.8,281.8 539.0,280.8 539.2,279.8 539.3,278.9 539.5,278.1 539.6,277.3 539.8,276.5 539.9,275.8 540.0,275.2 540.1,274.6 540.2,274.1 540.3,273.6 540.4,273.1 540.5,272.7 540.6,272.3 540.7,272.0 540.7,271.7 540.8,271.4 540.8,271.2 540.9,270.9 540.9,270.8 541.0,270.6 541.0,270.5 541.0,270.4 541.0,270.3 541.0,270.2 541.0,270.2 541.0,270.2" fill="none" stroke="#f5188a" stroke-width="1.15" stroke-linejoin="round"/>
<path d="M321.84,423.79a1.05,1.05 0 1,0 2.1,0a1.05,1.05 0 1,0 -2.1,0M322.94,423.55a1.05,1.05 0 1,0 2.1,0a1.05,1.05 0 1,0 -2.1,0M325.13,423.02a1.05,1.05 0 1,0 2.1,0a1.05,1.05 0 1,0 -2.1,0M327.31,422.69a1.05,1.05 0 1,0 2.1,0a1.05,1.05 0 1,0 -2.1,0M331.69,422.45a1.05,1.05 0 1,0 2.1,0a1.05,1.05 0 1,0 -2.1,0M336.07,422.30a1.05,1.05 0 1,0 2.1,0a1.05,1.05 0 1,0 -2.1,0M342.63,422.13a1.05,1.05 0 1,0 2.1,0a1.05,1.05 0 1,0 -2.1,0M353.57,421.83a1.05,1.05 0 1,0 2.1,0a1.05,1.05 0 1,0 -2.1,0M364.51,421.58a1.05,1.05 0 1,0 2.1,0a1.05,1.05 0 1,0 -2.1,0M375.45,421.40a1.05,1.05 0 1,0 2.1,0a1.05,1.05 0 1,0 -2.1,0M386.39,421.26a1.05,1.05 0 1,0 2.1,0a1.05,1.05 0 1,0 -2.1,0M397.33,421.07a1.05,1.05 0 1,0 2.1,0a1.05,1.05 0 1,0 -2.1,0M408.27,420.78a1.05,1.05 0 1,0 2.1,0a1.05,1.05 0 1,0 -2.1,0M419.21,420.36a1.05,1.05 0 1,0 2.1,0a1.05,1.05 0 1,0 -2.1,0M430.15,419.92a1.05,1.05 0 1,0 2.1,0a1.05,1.05 0 1,0 -2.1,0M441.09,419.50a1.05,1.05 0 1,0 2.1,0a1.05,1.05 0 1,0 -2.1,0M452.03,419.07a1.05,1.05 0 1,0 2.1,0a1.05,1.05 0 1,0 -2.1,0M462.97,418.59a1.05,1.05 0 1,0 2.1,0a1.05,1.05 0 1,0 -2.1,0M473.91,418.03a1.05,1.05 0 1,0 2.1,0a1.05,1.05 0 1,0 -2.1,0M484.85,417.38a1.05,1.05 0 1,0 2.1,0a1.05,1.05 0 1,0 -2.1,0M495.79,416.61a1.05,1.05 0 1,0 2.1,0a1.05,1.05 0 1,0 -2.1,0M506.73,415.70a1.05,1.05 0 1,0 2.1,0a1.05,1.05 0 1,0 -2.1,0M517.67,414.28a1.05,1.05 0 1,0 2.1,0a1.05,1.05 0 1,0 -2.1,0M524.23,412.74a1.05,1.05 0 1,0 2.1,0a1.05,1.05 0 1,0 -2.1,0M528.61,410.85a1.05,1.05 0 1,0 2.1,0a1.05,1.05 0 1,0 -2.1,0M532.99,399.82a1.05,1.05 0 1,0 2.1,0a1.05,1.05 0 1,0 -2.1,0M535.17,382.81a1.05,1.05 0 1,0 2.1,0a1.05,1.05 0 1,0 -2.1,0M537.36,344.77a1.05,1.05 0 1,0 2.1,0a1.05,1.05 0 1,0 -2.1,0M538.46,315.03a1.05,1.05 0 1,0 2.1,0a1.05,1.05 0 1,0 -2.1,0M538.46,278.06a1.05,1.05 0 1,0 2.1,0a1.05,1.05 0 1,0 -2.1,0M537.36,284.64a1.05,1.05 0 1,0 2.1,0a1.05,1.05 0 1,0 -2.1,0M535.17,316.85a1.05,1.05 0 1,0 2.1,0a1.05,1.05 0 1,0 -2.1,0M532.99,358.69a1.05,1.05 0 1,0 2.1,0a1.05,1.05 0 1,0 -2.1,0M530.80,389.43a1.05,1.05 0 1,0 2.1,0a1.05,1.05 0 1,0 -2.1,0M528.61,403.69a1.05,1.05 0 1,0 2.1,0a1.05,1.05 0 1,0 -2.1,0M526.42,408.99a1.05,1.05 0 1,0 2.1,0a1.05,1.05 0 1,0 -2.1,0M524.23,411.08a1.05,1.05 0 1,0 2.1,0a1.05,1.05 0 1,0 -2.1,0M522.05,412.35a1.05,1.05 0 1,0 2.1,0a1.05,1.05 0 1,0 -2.1,0M519.86,413.28a1.05,1.05 0 1,0 2.1,0a1.05,1.05 0 1,0 -2.1,0M517.67,413.85a1.05,1.05 0 1,0 2.1,0a1.05,1.05 0 1,0 -2.1,0M513.29,414.47a1.05,1.05 0 1,0 2.1,0a1.05,1.05 0 1,0 -2.1,0M508.92,414.91a1.05,1.05 0 1,0 2.1,0a1.05,1.05 0 1,0 -2.1,0M504.54,415.24a1.05,1.05 0 1,0 2.1,0a1.05,1.05 0 1,0 -2.1,0M500.17,415.52a1.05,1.05 0 1,0 2.1,0a1.05,1.05 0 1,0 -2.1,0M495.79,415.83a1.05,1.05 0 1,0 2.1,0a1.05,1.05 0 1,0 -2.1,0M484.85,416.65a1.05,1.05 0 1,0 2.1,0a1.05,1.05 0 1,0 -2.1,0M473.91,417.38a1.05,1.05 0 1,0 2.1,0a1.05,1.05 0 1,0 -2.1,0M462.97,418.06a1.05,1.05 0 1,0 2.1,0a1.05,1.05 0 1,0 -2.1,0M452.03,418.71a1.05,1.05 0 1,0 2.1,0a1.05,1.05 0 1,0 -2.1,0M441.09,419.32a1.05,1.05 0 1,0 2.1,0a1.05,1.05 0 1,0 -2.1,0M430.15,419.92a1.05,1.05 0 1,0 2.1,0a1.05,1.05 0 1,0 -2.1,0" fill="#f5188a"/>
<polyline points="322.9,424.3 325.9,423.8 328.9,423.4 331.8,423.3 334.7,423.2 337.6,423.1 340.5,423.1 343.4,423.0 346.2,423.0 349.0,422.9 351.8,422.9 354.6,422.8 357.3,422.8 360.1,422.8 362.8,422.8 365.5,422.7 368.1,422.7 370.8,422.7 373.4,422.6 376.0,422.6 378.5,422.6 381.1,422.6 383.6,422.6 386.1,422.5 388.6,422.5 391.1,422.5 393.5,422.4 395.9,422.4 398.3,422.4 400.7,422.4 403.0,422.3 405.4,422.3 407.7,422.3 410.0,422.2 412.2,422.2 414.5,422.2 416.7,422.1 418.9,422.1 421.1,422.0 423.3,422.0 425.4,422.0 427.5,421.9 429.6,421.9 431.7,421.9 433.7,421.8 435.8,421.8 437.8,421.8 439.8,421.7 441.7,421.7 443.7,421.7 445.6,421.6 447.5,421.6 449.4,421.5 451.3,421.5 453.1,421.5 454.9,421.4 456.7,421.4 458.5,421.3 460.3,421.3 462.0,421.3 463.8,421.2 465.5,421.2 467.1,421.1 468.8,421.1 470.4,421.0 472.0,421.0 473.6,420.9 475.2,420.9 476.8,420.8 478.3,420.8 479.8,420.7 481.3,420.7 482.8,420.6 484.3,420.6 485.7,420.5 487.1,420.4 488.5,420.4 489.9,420.3 491.2,420.2 492.6,420.2 493.9,420.1 495.2,420.0 496.5,419.9 497.7,419.9 499.0,419.8 500.2,419.7 501.4,419.6 502.6,419.5 503.7,419.4 504.9,419.3 506.0,419.2 507.1,419.1 508.2,419.0 509.3,418.9 510.3,418.8 511.3,418.6 512.4,418.5 513.3,418.4 514.3,418.3 515.3,418.1 516.2,418.0 517.1,417.9 518.0,417.8 518.9,417.6 519.8,417.5 520.6,417.4 521.4,417.2 522.2,417.0 523.0,416.8 523.8,416.6 524.6,416.4 525.3,416.2 526.0,415.9 526.7,415.6 527.4,415.3 528.1,414.9 528.7,414.3 529.3,413.5 529.9,412.6 530.5,411.4 531.1,410.0 531.7,408.5 532.2,406.8 532.8,403.9 533.3,398.8 533.8,392.3 534.2,385.1 534.7,377.7 535.1,370.6 535.6,363.0 536.0,354.5 536.4,345.8 536.8,337.6 537.1,330.3 537.5,324.0 537.8,318.2 538.1,312.8 538.4,307.8 538.7,303.4 539.0,299.6 539.2,296.4 539.5,293.8 539.7,291.8 539.9,290.1 540.1,288.7 540.3,287.5 540.4,286.4 540.6,285.5 540.7,284.6 540.9,283.9 541.0,283.2 541.1,282.6 541.2,282.1 541.3,281.6 541.3,281.2 541.4,280.8 541.4,280.6 541.4,280.4 541.5,280.2 541.5,280.2 541.5,280.1" fill="none" stroke="#9c0f17" stroke-width="1.15" stroke-linejoin="round"/>
<polyline points="431.2,421.9 432.7,421.8 434.2,421.8 435.7,421.7 437.2,421.7 438.6,421.6 440.1,421.6 441.5,421.5 443.0,421.5 444.4,421.4 445.8,421.4 447.2,421.4 448.6,421.3 450.0,421.3 451.3,421.2 452.7,421.2 454.0,421.1 455.3,421.1 456.7,421.0 458.0,421.0 459.3,420.9 460.6,420.9 461.8,420.8 463.1,420.8 464.3,420.7 465.6,420.7 466.8,420.6 468.0,420.6 469.3,420.5 470.5,420.5 471.6,420.4 472.8,420.4 474.0,420.3 475.1,420.2 476.3,420.2 477.4,420.1 478.5,420.1 479.6,420.0 480.7,419.9 481.8,419.9 482.9,419.8 484.0,419.7 485.0,419.7 486.1,419.6 487.1,419.5 488.1,419.5 489.2,419.4 490.2,419.3 491.2,419.2 492.1,419.2 493.1,419.1 494.1,419.0 495.0,419.0 496.0,418.9 496.9,418.8 497.8,418.7 498.7,418.7 499.6,418.6 500.5,418.5 501.4,418.5 502.3,418.4 503.1,418.4 504.0,418.3 504.8,418.2 505.6,418.2 506.4,418.1 507.3,418.0 508.0,418.0 508.8,417.9 509.6,417.8 510.4,417.7 511.1,417.7 511.9,417.6 512.6,417.5 513.3,417.4 514.1,417.3 514.8,417.2 515.5,417.1 516.1,417.0 516.8,416.9 517.5,416.8 518.1,416.7 518.8,416.6 519.4,416.5 520.0,416.3 520.7,416.2 521.3,416.0 521.9,415.9 522.4,415.7 523.0,415.4 523.6,415.2 524.1,414.9 524.7,414.7 525.2,414.4 525.8,414.0 526.3,413.7 526.8,413.3 527.3,412.9 527.8,412.4 528.3,411.7 528.7,410.7 529.2,409.6 529.6,408.2 530.1,406.6 530.5,404.9 531.0,402.9 531.4,399.9 531.8,396.0 532.2,391.6 532.6,386.8 532.9,381.8 533.3,376.1 533.7,369.4 534.0,362.2 534.4,354.9 534.7,347.9 535.0,341.5 535.4,335.9 535.7,330.4 536.0,325.1 536.3,320.0 536.5,315.4 536.8,311.2 537.1,307.5 537.3,304.3 537.6,301.4 537.8,298.6 538.1,296.0 538.3,293.6 538.5,291.5 538.7,289.6 538.9,288.0 539.1,286.7 539.3,285.6 539.5,284.8 539.6,284.2 539.8,283.7 539.9,283.3 540.1,282.9 540.2,282.6 540.3,282.3 540.5,282.1 540.6,281.9 540.7,281.7 540.8,281.5 540.9,281.3 541.0,281.2 541.0,281.0 541.1,280.9 541.2,280.8 541.2,280.7 541.3,280.6 541.3,280.5 541.4,280.4 541.4,280.3 541.4,280.3 541.4,280.2 541.5,280.2 541.5,280.2 541.5,280.1 541.5,280.1" fill="none" stroke="#9c0f17" stroke-width="1.15" stroke-linejoin="round"/>
<path d="M321.84,424.34a1.05,1.05 0 1,0 2.1,0a1.05,1.05 0 1,0 -2.1,0M322.94,424.15a1.05,1.05 0 1,0 2.1,0a1.05,1.05 0 1,0 -2.1,0M325.13,423.73a1.05,1.05 0 1,0 2.1,0a1.05,1.05 0 1,0 -2.1,0M327.31,423.46a1.05,1.05 0 1,0 2.1,0a1.05,1.05 0 1,0 -2.1,0M331.69,423.26a1.05,1.05 0 1,0 2.1,0a1.05,1.05 0 1,0 -2.1,0M336.07,423.14a1.05,1.05 0 1,0 2.1,0a1.05,1.05 0 1,0 -2.1,0M342.63,423.02a1.05,1.05 0 1,0 2.1,0a1.05,1.05 0 1,0 -2.1,0M353.57,422.85a1.05,1.05 0 1,0 2.1,0a1.05,1.05 0 1,0 -2.1,0M364.51,422.72a1.05,1.05 0 1,0 2.1,0a1.05,1.05 0 1,0 -2.1,0M375.45,422.62a1.05,1.05 0 1,0 2.1,0a1.05,1.05 0 1,0 -2.1,0M386.39,422.51a1.05,1.05 0 1,0 2.1,0a1.05,1.05 0 1,0 -2.1,0M397.33,422.38a1.05,1.05 0 1,0 2.1,0a1.05,1.05 0 1,0 -2.1,0M408.27,422.23a1.05,1.05 0 1,0 2.1,0a1.05,1.05 0 1,0 -2.1,0M419.21,422.06a1.05,1.05 0 1,0 2.1,0a1.05,1.05 0 1,0 -2.1,0M430.15,421.88a1.05,1.05 0 1,0 2.1,0a1.05,1.05 0 1,0 -2.1,0M441.09,421.69a1.05,1.05 0 1,0 2.1,0a1.05,1.05 0 1,0 -2.1,0M452.03,421.46a1.05,1.05 0 1,0 2.1,0a1.05,1.05 0 1,0 -2.1,0M462.97,421.20a1.05,1.05 0 1,0 2.1,0a1.05,1.05 0 1,0 -2.1,0M473.91,420.90a1.05,1.05 0 1,0 2.1,0a1.05,1.05 0 1,0 -2.1,0M484.85,420.49a1.05,1.05 0 1,0 2.1,0a1.05,1.05 0 1,0 -2.1,0M495.79,419.92a1.05,1.05 0 1,0 2.1,0a1.05,1.05 0 1,0 -2.1,0M506.73,419.05a1.05,1.05 0 1,0 2.1,0a1.05,1.05 0 1,0 -2.1,0M517.67,417.67a1.05,1.05 0 1,0 2.1,0a1.05,1.05 0 1,0 -2.1,0M524.23,416.16a1.05,1.05 0 1,0 2.1,0a1.05,1.05 0 1,0 -2.1,0M528.61,413.05a1.05,1.05 0 1,0 2.1,0a1.05,1.05 0 1,0 -2.1,0M532.99,388.18a1.05,1.05 0 1,0 2.1,0a1.05,1.05 0 1,0 -2.1,0M535.17,349.10a1.05,1.05 0 1,0 2.1,0a1.05,1.05 0 1,0 -2.1,0M537.36,307.77a1.05,1.05 0 1,0 2.1,0a1.05,1.05 0 1,0 -2.1,0M538.46,293.40a1.05,1.05 0 1,0 2.1,0a1.05,1.05 0 1,0 -2.1,0M538.46,284.56a1.05,1.05 0 1,0 2.1,0a1.05,1.05 0 1,0 -2.1,0M537.36,292.30a1.05,1.05 0 1,0 2.1,0a1.05,1.05 0 1,0 -2.1,0M535.17,320.51a1.05,1.05 0 1,0 2.1,0a1.05,1.05 0 1,0 -2.1,0M532.99,361.98a1.05,1.05 0 1,0 2.1,0a1.05,1.05 0 1,0 -2.1,0M530.80,395.26a1.05,1.05 0 1,0 2.1,0a1.05,1.05 0 1,0 -2.1,0M528.61,408.14a1.05,1.05 0 1,0 2.1,0a1.05,1.05 0 1,0 -2.1,0M526.42,412.74a1.05,1.05 0 1,0 2.1,0a1.05,1.05 0 1,0 -2.1,0M524.23,414.32a1.05,1.05 0 1,0 2.1,0a1.05,1.05 0 1,0 -2.1,0M522.05,415.41a1.05,1.05 0 1,0 2.1,0a1.05,1.05 0 1,0 -2.1,0M519.86,416.13a1.05,1.05 0 1,0 2.1,0a1.05,1.05 0 1,0 -2.1,0M517.67,416.61a1.05,1.05 0 1,0 2.1,0a1.05,1.05 0 1,0 -2.1,0M513.29,417.29a1.05,1.05 0 1,0 2.1,0a1.05,1.05 0 1,0 -2.1,0M508.92,417.79a1.05,1.05 0 1,0 2.1,0a1.05,1.05 0 1,0 -2.1,0M504.54,418.17a1.05,1.05 0 1,0 2.1,0a1.05,1.05 0 1,0 -2.1,0M500.17,418.49a1.05,1.05 0 1,0 2.1,0a1.05,1.05 0 1,0 -2.1,0M495.79,418.82a1.05,1.05 0 1,0 2.1,0a1.05,1.05 0 1,0 -2.1,0M484.85,419.61a1.05,1.05 0 1,0 2.1,0a1.05,1.05 0 1,0 -2.1,0M473.91,420.26a1.05,1.05 0 1,0 2.1,0a1.05,1.05 0 1,0 -2.1,0M462.97,420.76a1.05,1.05 0 1,0 2.1,0a1.05,1.05 0 1,0 -2.1,0M452.03,421.16a1.05,1.05 0 1,0 2.1,0a1.05,1.05 0 1,0 -2.1,0M441.09,421.52a1.05,1.05 0 1,0 2.1,0a1.05,1.05 0 1,0 -2.1,0M430.15,421.88a1.05,1.05 0 1,0 2.1,0a1.05,1.05 0 1,0 -2.1,0" fill="#9c0f17"/>
<polyline points="322.9,425.1 325.9,425.0 328.8,425.0 331.8,424.9 334.7,424.8 337.6,424.8 340.5,424.7 343.3,424.7 346.2,424.7 349.0,424.6 351.8,424.6 354.5,424.6 357.3,424.6 360.0,424.6 362.7,424.6 365.4,424.6 368.0,424.6 370.7,424.6 373.3,424.5 375.9,424.5 378.4,424.5 381.0,424.5 383.5,424.5 386.0,424.5 388.5,424.5 390.9,424.5 393.4,424.5 395.8,424.5 398.2,424.5 400.5,424.5 402.9,424.4 405.2,424.4 407.5,424.4 409.8,424.4 412.1,424.4 414.3,424.4 416.5,424.3 418.7,424.3 420.9,424.3 423.1,424.3 425.2,424.3 427.3,424.2 429.4,424.2 431.5,424.2 433.5,424.2 435.5,424.1 437.6,424.1 439.5,424.1 441.5,424.1 443.5,424.0 445.4,424.0 447.3,424.0 449.2,423.9 451.0,423.9 452.9,423.9 454.7,423.9 456.5,423.8 458.3,423.8 460.0,423.8 461.8,423.7 463.5,423.7 465.2,423.7 466.8,423.6 468.5,423.6 470.1,423.6 471.7,423.5 473.3,423.5 474.9,423.5 476.5,423.4 478.0,423.4 479.5,423.3 481.0,423.3 482.5,423.3 483.9,423.2 485.4,423.2 486.8,423.1 488.2,423.1 489.6,423.0 490.9,422.9 492.2,422.9 493.6,422.8 494.9,422.8 496.1,422.7 497.4,422.7 498.6,422.6 499.8,422.5 501.0,422.5 502.2,422.4 503.4,422.4 504.5,422.3 505.6,422.2 506.7,422.1 507.8,422.1 508.9,422.0 509.9,421.9 511.0,421.8 512.0,421.7 513.0,421.7 513.9,421.6 514.9,421.5 515.8,421.4 516.7,421.3 517.6,421.2 518.5,421.1 519.4,420.9 520.2,420.8 521.0,420.7 521.8,420.6 522.6,420.4 523.4,420.2 524.2,420.1 524.9,419.9 525.6,419.7 526.3,419.5 527.0,419.2 527.6,419.0 528.3,418.7 528.9,418.4 529.5,418.2 530.1,417.9 530.7,417.5 531.3,417.2 531.8,416.8 532.3,416.1 532.8,415.4 533.3,414.5 533.8,413.6 534.3,412.6 534.7,411.5 535.1,410.5 535.6,409.4 535.9,408.1 536.3,406.8 536.7,405.3 537.0,403.7 537.4,402.1 537.7,400.4 538.0,398.7 538.3,396.7 538.5,394.5 538.8,392.1 539.0,389.7 539.3,387.2 539.5,384.8 539.7,382.5 539.8,380.3 540.0,378.1 540.2,375.9 540.3,373.8 540.4,371.8 540.5,370.0 540.6,368.4 540.7,367.0 540.8,365.8 540.9,364.9 540.9,364.1 541.0,363.4 541.0,363.0 541.0,362.7 541.0,362.5 541.0,362.5" fill="none" stroke="#fb8417" stroke-width="1.15" stroke-linejoin="round"/>
<polyline points="431.2,424.2 432.7,424.1 434.2,424.1 435.7,424.0 437.2,424.0 438.6,423.9 440.1,423.9 441.5,423.9 442.9,423.8 444.3,423.8 445.7,423.7 447.1,423.7 448.5,423.6 449.9,423.6 451.2,423.6 452.6,423.5 453.9,423.5 455.2,423.4 456.6,423.4 457.9,423.3 459.2,423.3 460.4,423.3 461.7,423.2 463.0,423.2 464.2,423.1 465.5,423.1 466.7,423.0 467.9,423.0 469.1,423.0 470.3,422.9 471.5,422.9 472.6,422.8 473.8,422.8 475.0,422.7 476.1,422.7 477.2,422.7 478.3,422.6 479.5,422.6 480.5,422.5 481.6,422.5 482.7,422.5 483.8,422.4 484.8,422.4 485.9,422.3 486.9,422.3 487.9,422.2 488.9,422.2 489.9,422.2 490.9,422.1 491.9,422.1 492.9,422.0 493.8,422.0 494.8,421.9 495.7,421.9 496.6,421.8 497.6,421.8 498.5,421.7 499.4,421.7 500.2,421.6 501.1,421.6 502.0,421.5 502.8,421.5 503.7,421.4 504.5,421.3 505.3,421.3 506.1,421.2 507.0,421.2 507.7,421.1 508.5,421.1 509.3,421.0 510.1,420.9 510.8,420.9 511.6,420.8 512.3,420.7 513.0,420.6 513.7,420.6 514.4,420.5 515.1,420.4 515.8,420.3 516.5,420.2 517.1,420.1 517.8,420.1 518.4,420.0 519.1,419.9 519.7,419.8 520.3,419.7 520.9,419.5 521.5,419.4 522.1,419.3 522.7,419.1 523.2,419.0 523.8,418.8 524.3,418.6 524.9,418.4 525.4,418.2 525.9,418.0 526.4,417.8 526.9,417.6 527.4,417.3 527.9,417.1 528.3,416.8 528.8,416.6 529.3,416.3 529.7,416.0 530.1,415.7 530.6,415.4 531.0,415.1 531.4,414.8 531.8,414.3 532.2,413.8 532.5,413.1 532.9,412.3 533.3,411.5 533.6,410.6 534.0,409.7 534.3,408.7 534.6,407.7 534.9,406.7 535.2,405.7 535.5,404.6 535.8,403.4 536.1,402.1 536.4,400.7 536.7,399.2 536.9,397.7 537.2,396.2 537.4,394.6 537.6,393.1 537.9,391.5 538.1,389.9 538.3,388.1 538.5,386.2 538.7,384.2 538.8,382.2 539.0,380.2 539.2,378.4 539.3,376.7 539.5,375.1 539.6,373.7 539.8,372.5 539.9,371.4 540.0,370.4 540.1,369.5 540.2,368.6 540.3,367.9 540.4,367.1 540.5,366.5 540.6,365.9 540.7,365.3 540.7,364.8 540.8,364.4 540.8,364.0 540.9,363.7 540.9,363.4 541.0,363.1 541.0,362.9 541.0,362.7 541.0,362.6 541.0,362.5 541.0,362.5 541.0,362.5" fill="none" stroke="#fb8417" stroke-width="1.15" stroke-linejoin="round"/>
<path d="M321.84,425.12a1.05,1.05 0 1,0 2.1,0a1.05,1.05 0 1,0 -2.1,0M322.94,425.09a1.05,1.05 0 1,0 2.1,0a1.05,1.05 0 1,0 -2.1,0M325.13,425.04a1.05,1.05 0 1,0 2.1,0a1.05,1.05 0 1,0 -2.1,0M327.31,424.98a1.05,1.05 0 1,0 2.1,0a1.05,1.05 0 1,0 -2.1,0M331.69,424.87a1.05,1.05 0 1,0 2.1,0a1.05,1.05 0 1,0 -2.1,0M336.07,424.77a1.05,1.05 0 1,0 2.1,0a1.05,1.05 0 1,0 -2.1,0M342.63,424.67a1.05,1.05 0 1,0 2.1,0a1.05,1.05 0 1,0 -2.1,0M353.57,424.61a1.05,1.05 0 1,0 2.1,0a1.05,1.05 0 1,0 -2.1,0M364.51,424.57a1.05,1.05 0 1,0 2.1,0a1.05,1.05 0 1,0 -2.1,0M375.45,424.54a1.05,1.05 0 1,0 2.1,0a1.05,1.05 0 1,0 -2.1,0M386.39,424.51a1.05,1.05 0 1,0 2.1,0a1.05,1.05 0 1,0 -2.1,0M397.33,424.47a1.05,1.05 0 1,0 2.1,0a1.05,1.05 0 1,0 -2.1,0M408.27,424.39a1.05,1.05 0 1,0 2.1,0a1.05,1.05 0 1,0 -2.1,0M419.21,424.30a1.05,1.05 0 1,0 2.1,0a1.05,1.05 0 1,0 -2.1,0M430.15,424.19a1.05,1.05 0 1,0 2.1,0a1.05,1.05 0 1,0 -2.1,0M441.09,424.05a1.05,1.05 0 1,0 2.1,0a1.05,1.05 0 1,0 -2.1,0M452.03,423.88a1.05,1.05 0 1,0 2.1,0a1.05,1.05 0 1,0 -2.1,0M462.97,423.69a1.05,1.05 0 1,0 2.1,0a1.05,1.05 0 1,0 -2.1,0M473.91,423.47a1.05,1.05 0 1,0 2.1,0a1.05,1.05 0 1,0 -2.1,0M484.85,423.14a1.05,1.05 0 1,0 2.1,0a1.05,1.05 0 1,0 -2.1,0M495.79,422.69a1.05,1.05 0 1,0 2.1,0a1.05,1.05 0 1,0 -2.1,0M506.73,422.08a1.05,1.05 0 1,0 2.1,0a1.05,1.05 0 1,0 -2.1,0M517.67,421.03a1.05,1.05 0 1,0 2.1,0a1.05,1.05 0 1,0 -2.1,0M524.23,419.77a1.05,1.05 0 1,0 2.1,0a1.05,1.05 0 1,0 -2.1,0M528.61,418.09a1.05,1.05 0 1,0 2.1,0a1.05,1.05 0 1,0 -2.1,0M532.99,413.09a1.05,1.05 0 1,0 2.1,0a1.05,1.05 0 1,0 -2.1,0M535.17,407.15a1.05,1.05 0 1,0 2.1,0a1.05,1.05 0 1,0 -2.1,0M537.36,395.55a1.05,1.05 0 1,0 2.1,0a1.05,1.05 0 1,0 -2.1,0M538.46,384.36a1.05,1.05 0 1,0 2.1,0a1.05,1.05 0 1,0 -2.1,0M538.46,375.03a1.05,1.05 0 1,0 2.1,0a1.05,1.05 0 1,0 -2.1,0M537.36,386.82a1.05,1.05 0 1,0 2.1,0a1.05,1.05 0 1,0 -2.1,0M535.17,401.53a1.05,1.05 0 1,0 2.1,0a1.05,1.05 0 1,0 -2.1,0M532.99,409.46a1.05,1.05 0 1,0 2.1,0a1.05,1.05 0 1,0 -2.1,0M530.80,414.24a1.05,1.05 0 1,0 2.1,0a1.05,1.05 0 1,0 -2.1,0M528.61,416.04a1.05,1.05 0 1,0 2.1,0a1.05,1.05 0 1,0 -2.1,0M526.42,417.31a1.05,1.05 0 1,0 2.1,0a1.05,1.05 0 1,0 -2.1,0M524.23,418.28a1.05,1.05 0 1,0 2.1,0a1.05,1.05 0 1,0 -2.1,0M522.05,419.01a1.05,1.05 0 1,0 2.1,0a1.05,1.05 0 1,0 -2.1,0M519.86,419.54a1.05,1.05 0 1,0 2.1,0a1.05,1.05 0 1,0 -2.1,0M517.67,419.92a1.05,1.05 0 1,0 2.1,0a1.05,1.05 0 1,0 -2.1,0M513.29,420.50a1.05,1.05 0 1,0 2.1,0a1.05,1.05 0 1,0 -2.1,0M508.92,420.94a1.05,1.05 0 1,0 2.1,0a1.05,1.05 0 1,0 -2.1,0M504.54,421.28a1.05,1.05 0 1,0 2.1,0a1.05,1.05 0 1,0 -2.1,0M500.17,421.55a1.05,1.05 0 1,0 2.1,0a1.05,1.05 0 1,0 -2.1,0M495.79,421.80a1.05,1.05 0 1,0 2.1,0a1.05,1.05 0 1,0 -2.1,0M484.85,422.33a1.05,1.05 0 1,0 2.1,0a1.05,1.05 0 1,0 -2.1,0M473.91,422.75a1.05,1.05 0 1,0 2.1,0a1.05,1.05 0 1,0 -2.1,0M462.97,423.14a1.05,1.05 0 1,0 2.1,0a1.05,1.05 0 1,0 -2.1,0M452.03,423.50a1.05,1.05 0 1,0 2.1,0a1.05,1.05 0 1,0 -2.1,0M441.09,423.84a1.05,1.05 0 1,0 2.1,0a1.05,1.05 0 1,0 -2.1,0M430.15,424.19a1.05,1.05 0 1,0 2.1,0a1.05,1.05 0 1,0 -2.1,0" fill="#fb8417"/>
<polyline points="322.9,423.2 325.9,422.6 328.9,422.1 331.8,421.7 334.8,421.3 337.7,421.0 340.6,420.7 343.5,420.5 346.3,420.3 349.1,420.0 351.9,419.8 354.7,419.6 357.5,419.4 360.2,419.3 362.9,419.1 365.6,418.9 368.3,418.8 370.9,418.6 373.6,418.5 376.2,418.3 378.8,418.2 381.3,418.0 383.9,417.9 386.4,417.7 388.9,417.6 391.3,417.4 393.8,417.3 396.2,417.1 398.6,417.0 401.0,416.8 403.4,416.6 405.7,416.5 408.0,416.3 410.3,416.2 412.6,416.0 414.9,415.9 417.1,415.7 419.3,415.6 421.5,415.4 423.7,415.3 425.8,415.1 427.9,415.0 430.0,414.8 432.1,414.6 434.2,414.4 436.2,414.2 438.2,414.0 440.2,413.8 442.2,413.6 444.2,413.3 446.1,413.0 448.0,412.7 449.9,412.4 451.8,412.1 453.6,411.7 455.5,411.4 457.3,411.0 459.1,410.7 460.8,410.3 462.6,409.9 464.3,409.5 466.0,409.2 467.7,408.8 469.4,408.4 471.0,408.1 472.6,407.7 474.2,407.3 475.8,407.0 477.4,406.6 478.9,406.2 480.5,405.8 482.0,405.4 483.4,405.0 484.9,404.7 486.4,404.3 487.8,403.9 489.2,403.5 490.6,403.1 491.9,402.7 493.3,402.2 494.6,401.8 495.9,401.4 497.2,401.0 498.4,400.6 499.7,400.3 500.9,399.9 502.1,399.5 503.3,399.2 504.5,398.8 505.6,398.4 506.7,398.0 507.9,397.6 508.9,397.2 510.0,396.8 511.1,396.3 512.1,395.9 513.1,395.4 514.1,394.8 515.1,394.3 516.0,393.7 517.0,393.0 517.9,392.2 518.8,391.3 519.7,390.3 520.6,389.2 521.4,388.2 522.2,387.1 523.0,386.1 523.8,385.0 524.6,384.0 525.4,383.1 526.1,382.1 526.8,381.2 527.5,380.3 528.2,379.4 528.9,378.5 529.5,377.5 530.2,376.6 530.8,375.6 531.4,374.5 532.0,373.5 532.5,372.4 533.1,371.3 533.6,370.1 534.1,368.9 534.6,367.7 535.1,366.3 535.5,364.8 536.0,363.0 536.4,361.1 536.8,359.2 537.2,357.2 537.6,355.2 538.0,353.3 538.3,351.4 538.7,349.6 539.0,347.9 539.3,346.1 539.6,344.4 539.8,342.6 540.1,341.0 540.3,339.3 540.6,337.7 540.8,336.2 541.0,334.7 541.1,333.3 541.3,331.9 541.5,330.6 541.6,329.3 541.7,328.1 541.9,326.9 542.0,325.9 542.0,325.0 542.1,324.3 542.2,323.7 542.2,323.2 542.3,322.8 542.3,322.5 542.3,322.3 542.3,322.2 542.4,322.1" fill="none" stroke="#1f8a80" stroke-width="1.15" stroke-linejoin="round"/>
<polyline points="440.0,413.8 441.4,413.5 442.7,413.2 444.1,412.9 445.5,412.6 446.9,412.4 448.2,412.1 449.5,411.8 450.9,411.5 452.2,411.2 453.5,410.9 454.8,410.7 456.1,410.4 457.4,410.1 458.6,409.8 459.9,409.6 461.1,409.3 462.4,409.0 463.6,408.7 464.8,408.4 466.0,408.2 467.2,407.9 468.4,407.6 469.6,407.3 470.7,407.0 471.9,406.7 473.0,406.4 474.2,406.1 475.3,405.8 476.4,405.6 477.5,405.3 478.6,405.0 479.7,404.7 480.7,404.4 481.8,404.1 482.9,403.8 483.9,403.5 484.9,403.2 486.0,402.9 487.0,402.6 488.0,402.3 489.0,402.0 489.9,401.7 490.9,401.4 491.9,401.1 492.8,400.8 493.8,400.5 494.7,400.2 495.6,399.9 496.5,399.6 497.4,399.3 498.3,399.0 499.2,398.7 500.1,398.4 501.0,398.1 501.8,397.8 502.7,397.5 503.5,397.2 504.3,396.9 505.1,396.6 505.9,396.2 506.7,395.9 507.5,395.5 508.3,395.1 509.1,394.7 509.8,394.3 510.6,393.9 511.3,393.3 512.0,392.8 512.8,392.1 513.5,391.4 514.2,390.7 514.9,389.9 515.5,389.1 516.2,388.3 516.9,387.5 517.5,386.6 518.2,385.8 518.8,385.0 519.4,384.2 520.1,383.4 520.7,382.6 521.3,381.8 521.9,380.9 522.4,380.1 523.0,379.3 523.6,378.4 524.1,377.6 524.7,376.7 525.2,375.9 525.7,375.0 526.3,374.1 526.8,373.2 527.3,372.3 527.8,371.3 528.2,370.4 528.7,369.4 529.2,368.5 529.6,367.5 530.1,366.5 530.5,365.5 530.9,364.5 531.4,363.4 531.8,362.3 532.2,361.2 532.6,360.1 533.0,358.9 533.3,357.8 533.7,356.6 534.1,355.3 534.4,354.1 534.8,352.8 535.1,351.6 535.4,350.3 535.8,348.9 536.1,347.4 536.4,345.6 536.7,343.8 537.0,341.9 537.2,340.1 537.5,338.4 537.8,336.8 538.0,335.3 538.3,334.0 538.5,332.9 538.7,332.0 539.0,331.2 539.2,330.5 539.4,329.9 539.6,329.3 539.8,328.7 540.0,328.2 540.1,327.7 540.3,327.3 540.5,326.9 540.6,326.5 540.8,326.1 540.9,325.8 541.0,325.4 541.2,325.1 541.3,324.8 541.4,324.6 541.5,324.3 541.6,324.1 541.7,323.8 541.8,323.6 541.9,323.4 541.9,323.2 542.0,323.0 542.1,322.9 542.1,322.8 542.2,322.6 542.2,322.5 542.2,322.4 542.3,322.3 542.3,322.3 542.3,322.2 542.3,322.2 542.3,322.1 542.3,322.1 542.4,322.1" fill="none" stroke="#1f8a80" stroke-width="1.15" stroke-linejoin="round"/>
<path d="M321.84,423.24a1.05,1.05 0 1,0 2.1,0a1.05,1.05 0 1,0 -2.1,0M322.94,423.01a1.05,1.05 0 1,0 2.1,0a1.05,1.05 0 1,0 -2.1,0M325.13,422.53a1.05,1.05 0 1,0 2.1,0a1.05,1.05 0 1,0 -2.1,0M327.31,422.13a1.05,1.05 0 1,0 2.1,0a1.05,1.05 0 1,0 -2.1,0M331.69,421.55a1.05,1.05 0 1,0 2.1,0a1.05,1.05 0 1,0 -2.1,0M336.07,421.07a1.05,1.05 0 1,0 2.1,0a1.05,1.05 0 1,0 -2.1,0M342.63,420.48a1.05,1.05 0 1,0 2.1,0a1.05,1.05 0 1,0 -2.1,0M353.57,419.64a1.05,1.05 0 1,0 2.1,0a1.05,1.05 0 1,0 -2.1,0M364.51,418.93a1.05,1.05 0 1,0 2.1,0a1.05,1.05 0 1,0 -2.1,0M375.45,418.30a1.05,1.05 0 1,0 2.1,0a1.05,1.05 0 1,0 -2.1,0M386.39,417.67a1.05,1.05 0 1,0 2.1,0a1.05,1.05 0 1,0 -2.1,0M397.33,416.98a1.05,1.05 0 1,0 2.1,0a1.05,1.05 0 1,0 -2.1,0M408.27,416.25a1.05,1.05 0 1,0 2.1,0a1.05,1.05 0 1,0 -2.1,0M419.21,415.53a1.05,1.05 0 1,0 2.1,0a1.05,1.05 0 1,0 -2.1,0M430.15,414.70a1.05,1.05 0 1,0 2.1,0a1.05,1.05 0 1,0 -2.1,0M441.09,413.59a1.05,1.05 0 1,0 2.1,0a1.05,1.05 0 1,0 -2.1,0M452.03,411.85a1.05,1.05 0 1,0 2.1,0a1.05,1.05 0 1,0 -2.1,0M462.97,409.61a1.05,1.05 0 1,0 2.1,0a1.05,1.05 0 1,0 -2.1,0M473.91,407.18a1.05,1.05 0 1,0 2.1,0a1.05,1.05 0 1,0 -2.1,0M484.85,404.38a1.05,1.05 0 1,0 2.1,0a1.05,1.05 0 1,0 -2.1,0M495.79,401.14a1.05,1.05 0 1,0 2.1,0a1.05,1.05 0 1,0 -2.1,0M506.73,397.68a1.05,1.05 0 1,0 2.1,0a1.05,1.05 0 1,0 -2.1,0M517.67,391.35a1.05,1.05 0 1,0 2.1,0a1.05,1.05 0 1,0 -2.1,0M524.23,383.16a1.05,1.05 0 1,0 2.1,0a1.05,1.05 0 1,0 -2.1,0M528.61,377.34a1.05,1.05 0 1,0 2.1,0a1.05,1.05 0 1,0 -2.1,0M532.99,369.06a1.05,1.05 0 1,0 2.1,0a1.05,1.05 0 1,0 -2.1,0M535.17,361.99a1.05,1.05 0 1,0 2.1,0a1.05,1.05 0 1,0 -2.1,0M537.36,350.94a1.05,1.05 0 1,0 2.1,0a1.05,1.05 0 1,0 -2.1,0M538.46,344.70a1.05,1.05 0 1,0 2.1,0a1.05,1.05 0 1,0 -2.1,0M538.46,329.48a1.05,1.05 0 1,0 2.1,0a1.05,1.05 0 1,0 -2.1,0M537.36,333.31a1.05,1.05 0 1,0 2.1,0a1.05,1.05 0 1,0 -2.1,0M535.17,346.48a1.05,1.05 0 1,0 2.1,0a1.05,1.05 0 1,0 -2.1,0M532.99,355.47a1.05,1.05 0 1,0 2.1,0a1.05,1.05 0 1,0 -2.1,0M530.80,362.14a1.05,1.05 0 1,0 2.1,0a1.05,1.05 0 1,0 -2.1,0M528.61,367.44a1.05,1.05 0 1,0 2.1,0a1.05,1.05 0 1,0 -2.1,0M526.42,371.87a1.05,1.05 0 1,0 2.1,0a1.05,1.05 0 1,0 -2.1,0M524.23,375.74a1.05,1.05 0 1,0 2.1,0a1.05,1.05 0 1,0 -2.1,0M522.05,379.17a1.05,1.05 0 1,0 2.1,0a1.05,1.05 0 1,0 -2.1,0M519.86,382.26a1.05,1.05 0 1,0 2.1,0a1.05,1.05 0 1,0 -2.1,0M517.67,385.13a1.05,1.05 0 1,0 2.1,0a1.05,1.05 0 1,0 -2.1,0M513.29,390.49a1.05,1.05 0 1,0 2.1,0a1.05,1.05 0 1,0 -2.1,0M508.92,394.22a1.05,1.05 0 1,0 2.1,0a1.05,1.05 0 1,0 -2.1,0M504.54,396.39a1.05,1.05 0 1,0 2.1,0a1.05,1.05 0 1,0 -2.1,0M500.17,398.02a1.05,1.05 0 1,0 2.1,0a1.05,1.05 0 1,0 -2.1,0M495.79,399.48a1.05,1.05 0 1,0 2.1,0a1.05,1.05 0 1,0 -2.1,0M484.85,402.94a1.05,1.05 0 1,0 2.1,0a1.05,1.05 0 1,0 -2.1,0M473.91,405.93a1.05,1.05 0 1,0 2.1,0a1.05,1.05 0 1,0 -2.1,0M462.97,408.63a1.05,1.05 0 1,0 2.1,0a1.05,1.05 0 1,0 -2.1,0M452.03,411.04a1.05,1.05 0 1,0 2.1,0a1.05,1.05 0 1,0 -2.1,0M441.09,413.37a1.05,1.05 0 1,0 2.1,0a1.05,1.05 0 1,0 -2.1,0" fill="#1f8a80"/>
<polyline points="322.9,422.4 325.9,421.2 328.9,420.4 331.8,419.9 334.7,419.6 337.6,419.3 340.5,419.1 343.4,418.8 346.2,418.6 349.0,418.3 351.8,418.1 354.6,417.8 357.3,417.6 360.1,417.4 362.8,417.2 365.5,417.0 368.1,416.8 370.8,416.7 373.4,416.5 376.0,416.3 378.5,416.2 381.1,416.0 383.6,415.9 386.1,415.8 388.6,415.6 391.1,415.5 393.5,415.4 395.9,415.2 398.3,415.1 400.7,414.9 403.0,414.8 405.4,414.7 407.7,414.5 410.0,414.4 412.2,414.3 414.5,414.2 416.7,414.1 418.9,413.9 421.1,413.8 423.3,413.7 425.4,413.6 427.5,413.5 429.6,413.4 431.7,413.2 433.7,413.1 435.8,413.0 437.8,412.9 439.8,412.8 441.7,412.6 443.7,412.5 445.6,412.4 447.5,412.3 449.4,412.1 451.3,412.0 453.1,411.9 454.9,411.7 456.7,411.6 458.5,411.5 460.3,411.4 462.0,411.2 463.8,411.1 465.5,410.9 467.1,410.8 468.8,410.6 470.4,410.5 472.0,410.3 473.6,410.2 475.2,410.0 476.8,409.8 478.3,409.7 479.8,409.5 481.3,409.3 482.8,409.1 484.3,408.9 485.7,408.8 487.1,408.6 488.5,408.4 489.9,408.2 491.2,408.0 492.6,407.8 493.9,407.6 495.2,407.4 496.5,407.2 497.7,407.0 499.0,406.8 500.2,406.6 501.4,406.4 502.6,406.2 503.7,406.1 504.9,405.9 506.0,405.6 507.1,405.4 508.2,405.2 509.3,405.0 510.3,404.8 511.3,404.6 512.4,404.3 513.3,404.1 514.3,403.9 515.3,403.7 516.2,403.4 517.1,403.2 518.0,403.0 518.9,402.7 519.8,402.5 520.6,402.3 521.4,402.1 522.2,401.8 523.0,401.6 523.8,401.4 524.6,401.1 525.3,400.9 526.0,400.6 526.7,400.3 527.4,400.1 528.1,399.8 528.7,399.5 529.3,399.3 529.9,399.0 530.5,398.7 531.1,398.5 531.7,398.2 532.2,397.9 532.8,397.5 533.3,397.2 533.8,396.8 534.2,396.4 534.7,396.0 535.1,395.5 535.6,395.1 536.0,394.5 536.4,393.7 536.8,392.8 537.1,391.8 537.5,390.7 537.8,389.5 538.1,388.3 538.4,387.0 538.7,385.7 539.0,384.5 539.2,383.2 539.5,382.0 539.7,380.7 539.9,379.2 540.1,377.6 540.3,376.0 540.4,374.3 540.6,372.8 540.7,371.3 540.9,370.0 541.0,368.9 541.1,367.8 541.2,367.0 541.3,366.2 541.3,365.6 541.4,365.1 541.4,364.7 541.4,364.4 541.5,364.2 541.5,364.1 541.5,364.1" fill="none" stroke="#1c1cf5" stroke-width="1.15" stroke-linejoin="round"/>
<polyline points="440.0,412.7 441.3,412.6 442.7,412.5 444.1,412.4 445.5,412.3 446.8,412.2 448.1,412.0 449.5,411.9 450.8,411.8 452.1,411.7 453.4,411.6 454.7,411.5 456.0,411.4 457.2,411.3 458.5,411.2 459.7,411.1 461.0,411.0 462.2,410.9 463.4,410.7 464.6,410.6 465.8,410.5 467.0,410.4 468.2,410.3 469.3,410.2 470.5,410.0 471.6,409.9 472.7,409.8 473.9,409.7 475.0,409.5 476.1,409.4 477.2,409.3 478.3,409.1 479.3,409.0 480.4,408.9 481.5,408.8 482.5,408.6 483.5,408.5 484.6,408.4 485.6,408.2 486.6,408.1 487.6,408.0 488.5,407.8 489.5,407.7 490.5,407.6 491.4,407.4 492.4,407.3 493.3,407.1 494.2,407.0 495.2,406.8 496.1,406.7 497.0,406.6 497.8,406.4 498.7,406.3 499.6,406.1 500.4,406.0 501.3,405.8 502.1,405.7 503.0,405.5 503.8,405.4 504.6,405.2 505.4,405.1 506.2,404.9 506.9,404.7 507.7,404.6 508.5,404.4 509.2,404.2 510.0,404.1 510.7,403.9 511.4,403.7 512.1,403.5 512.8,403.3 513.5,403.2 514.2,403.0 514.9,402.8 515.6,402.6 516.2,402.4 516.9,402.2 517.5,402.1 518.1,401.9 518.8,401.7 519.4,401.5 520.0,401.3 520.6,401.1 521.2,400.9 521.7,400.7 522.3,400.5 522.9,400.4 523.4,400.2 524.0,400.0 524.5,399.7 525.0,399.5 525.5,399.3 526.0,399.1 526.5,398.9 527.0,398.6 527.5,398.4 528.0,398.1 528.4,397.9 528.9,397.7 529.3,397.4 529.7,397.2 530.2,396.9 530.6,396.7 531.0,396.4 531.4,396.1 531.8,395.8 532.2,395.5 532.5,395.2 532.9,394.9 533.3,394.6 533.6,394.2 534.0,393.8 534.3,393.4 534.6,393.0 534.9,392.6 535.2,392.2 535.5,391.8 535.8,391.3 536.1,390.6 536.4,389.8 536.7,388.8 536.9,387.8 537.2,386.8 537.4,385.7 537.7,384.5 537.9,383.4 538.1,382.3 538.3,381.2 538.5,380.1 538.7,379.1 538.9,378.1 539.1,377.2 539.3,376.3 539.4,375.4 539.6,374.6 539.8,373.9 539.9,373.1 540.1,372.3 540.2,371.6 540.3,370.9 540.4,370.2 540.5,369.5 540.6,368.9 540.7,368.4 540.8,367.8 540.9,367.3 541.0,366.9 541.1,366.4 541.1,366.1 541.2,365.7 541.2,365.4 541.3,365.1 541.3,364.9 541.4,364.7 541.4,364.5 541.4,364.4 541.4,364.3 541.5,364.2 541.5,364.2 541.5,364.1 541.5,364.1" fill="none" stroke="#1c1cf5" stroke-width="1.15" stroke-linejoin="round"/>
<path d="M321.84,422.35a1.05,1.05 0 1,0 2.1,0a1.05,1.05 0 1,0 -2.1,0M322.94,421.95a1.05,1.05 0 1,0 2.1,0a1.05,1.05 0 1,0 -2.1,0M325.13,421.10a1.05,1.05 0 1,0 2.1,0a1.05,1.05 0 1,0 -2.1,0M327.31,420.48a1.05,1.05 0 1,0 2.1,0a1.05,1.05 0 1,0 -2.1,0M331.69,419.83a1.05,1.05 0 1,0 2.1,0a1.05,1.05 0 1,0 -2.1,0M336.07,419.39a1.05,1.05 0 1,0 2.1,0a1.05,1.05 0 1,0 -2.1,0M342.63,418.82a1.05,1.05 0 1,0 2.1,0a1.05,1.05 0 1,0 -2.1,0M353.57,417.81a1.05,1.05 0 1,0 2.1,0a1.05,1.05 0 1,0 -2.1,0M364.51,417.00a1.05,1.05 0 1,0 2.1,0a1.05,1.05 0 1,0 -2.1,0M375.45,416.31a1.05,1.05 0 1,0 2.1,0a1.05,1.05 0 1,0 -2.1,0M386.39,415.69a1.05,1.05 0 1,0 2.1,0a1.05,1.05 0 1,0 -2.1,0M397.33,415.08a1.05,1.05 0 1,0 2.1,0a1.05,1.05 0 1,0 -2.1,0M408.27,414.46a1.05,1.05 0 1,0 2.1,0a1.05,1.05 0 1,0 -2.1,0M419.21,413.88a1.05,1.05 0 1,0 2.1,0a1.05,1.05 0 1,0 -2.1,0M430.15,413.27a1.05,1.05 0 1,0 2.1,0a1.05,1.05 0 1,0 -2.1,0M441.09,412.60a1.05,1.05 0 1,0 2.1,0a1.05,1.05 0 1,0 -2.1,0M452.03,411.88a1.05,1.05 0 1,0 2.1,0a1.05,1.05 0 1,0 -2.1,0M462.97,411.05a1.05,1.05 0 1,0 2.1,0a1.05,1.05 0 1,0 -2.1,0M473.91,410.03a1.05,1.05 0 1,0 2.1,0a1.05,1.05 0 1,0 -2.1,0M484.85,408.73a1.05,1.05 0 1,0 2.1,0a1.05,1.05 0 1,0 -2.1,0M495.79,407.17a1.05,1.05 0 1,0 2.1,0a1.05,1.05 0 1,0 -2.1,0M506.73,405.31a1.05,1.05 0 1,0 2.1,0a1.05,1.05 0 1,0 -2.1,0M517.67,402.80a1.05,1.05 0 1,0 2.1,0a1.05,1.05 0 1,0 -2.1,0M524.23,400.87a1.05,1.05 0 1,0 2.1,0a1.05,1.05 0 1,0 -2.1,0M528.61,399.14a1.05,1.05 0 1,0 2.1,0a1.05,1.05 0 1,0 -2.1,0M532.99,396.56a1.05,1.05 0 1,0 2.1,0a1.05,1.05 0 1,0 -2.1,0M535.17,394.03a1.05,1.05 0 1,0 2.1,0a1.05,1.05 0 1,0 -2.1,0M537.36,387.00a1.05,1.05 0 1,0 2.1,0a1.05,1.05 0 1,0 -2.1,0M538.46,381.80a1.05,1.05 0 1,0 2.1,0a1.05,1.05 0 1,0 -2.1,0M538.46,375.17a1.05,1.05 0 1,0 2.1,0a1.05,1.05 0 1,0 -2.1,0M537.36,380.76a1.05,1.05 0 1,0 2.1,0a1.05,1.05 0 1,0 -2.1,0M535.17,390.29a1.05,1.05 0 1,0 2.1,0a1.05,1.05 0 1,0 -2.1,0M532.99,393.74a1.05,1.05 0 1,0 2.1,0a1.05,1.05 0 1,0 -2.1,0M530.80,395.79a1.05,1.05 0 1,0 2.1,0a1.05,1.05 0 1,0 -2.1,0M528.61,397.22a1.05,1.05 0 1,0 2.1,0a1.05,1.05 0 1,0 -2.1,0M526.42,398.38a1.05,1.05 0 1,0 2.1,0a1.05,1.05 0 1,0 -2.1,0M524.23,399.41a1.05,1.05 0 1,0 2.1,0a1.05,1.05 0 1,0 -2.1,0M522.05,400.27a1.05,1.05 0 1,0 2.1,0a1.05,1.05 0 1,0 -2.1,0M519.86,401.01a1.05,1.05 0 1,0 2.1,0a1.05,1.05 0 1,0 -2.1,0M517.67,401.69a1.05,1.05 0 1,0 2.1,0a1.05,1.05 0 1,0 -2.1,0M513.29,402.95a1.05,1.05 0 1,0 2.1,0a1.05,1.05 0 1,0 -2.1,0M508.92,404.06a1.05,1.05 0 1,0 2.1,0a1.05,1.05 0 1,0 -2.1,0M504.54,405.03a1.05,1.05 0 1,0 2.1,0a1.05,1.05 0 1,0 -2.1,0M500.17,405.84a1.05,1.05 0 1,0 2.1,0a1.05,1.05 0 1,0 -2.1,0M495.79,406.58a1.05,1.05 0 1,0 2.1,0a1.05,1.05 0 1,0 -2.1,0M484.85,408.19a1.05,1.05 0 1,0 2.1,0a1.05,1.05 0 1,0 -2.1,0M473.91,409.53a1.05,1.05 0 1,0 2.1,0a1.05,1.05 0 1,0 -2.1,0M462.97,410.68a1.05,1.05 0 1,0 2.1,0a1.05,1.05 0 1,0 -2.1,0M452.03,411.64a1.05,1.05 0 1,0 2.1,0a1.05,1.05 0 1,0 -2.1,0M441.09,412.55a1.05,1.05 0 1,0 2.1,0a1.05,1.05 0 1,0 -2.1,0" fill="#1c1cf5"/>
<polyline points="322.9,423.6 325.9,422.3 328.9,421.5 331.8,421.2 334.7,421.0 337.6,420.8 340.5,420.6 343.4,420.5 346.2,420.3 349.0,420.2 351.8,420.1 354.6,420.0 357.3,419.8 360.1,419.7 362.8,419.6 365.5,419.5 368.1,419.5 370.8,419.4 373.4,419.3 376.0,419.2 378.5,419.1 381.1,419.0 383.6,418.9 386.1,418.8 388.6,418.8 391.1,418.7 393.5,418.6 395.9,418.5 398.3,418.4 400.7,418.3 403.0,418.1 405.4,418.0 407.7,417.9 410.0,417.8 412.2,417.6 414.5,417.5 416.7,417.4 418.9,417.2 421.1,417.1 423.3,417.0 425.4,416.9 427.5,416.8 429.6,416.7 431.7,416.6 433.7,416.5 435.8,416.4 437.8,416.4 439.8,416.3 441.7,416.3 443.7,416.2 445.6,416.2 447.5,416.1 449.4,416.1 451.3,416.0 453.1,416.0 454.9,415.9 456.7,415.9 458.5,415.9 460.3,415.8 462.0,415.8 463.8,415.7 465.5,415.7 467.1,415.6 468.8,415.6 470.4,415.5 472.0,415.5 473.6,415.4 475.2,415.3 476.8,415.3 478.3,415.2 479.8,415.2 481.3,415.1 482.8,415.1 484.3,415.0 485.7,414.9 487.1,414.9 488.5,414.8 489.9,414.7 491.2,414.7 492.6,414.6 493.9,414.6 495.2,414.5 496.5,414.4 497.7,414.3 499.0,414.3 500.2,414.2 501.4,414.1 502.6,414.0 503.7,414.0 504.9,413.9 506.0,413.8 507.1,413.7 508.2,413.6 509.3,413.5 510.3,413.5 511.3,413.4 512.4,413.3 513.3,413.2 514.3,413.1 515.3,413.0 516.2,413.0 517.1,412.9 518.0,412.8 518.9,412.7 519.8,412.7 520.6,412.6 521.4,412.5 522.2,412.5 523.0,412.4 523.8,412.4 524.6,412.3 525.3,412.2 526.0,412.1 526.7,412.1 527.4,412.0 528.1,411.9 528.7,411.7 529.3,411.6 529.9,411.3 530.5,410.9 531.1,410.2 531.7,409.5 532.2,408.6 532.8,407.5 533.3,406.4 533.8,405.2 534.2,403.9 534.7,402.5 535.1,401.1 535.6,399.7 536.0,398.2 536.4,396.7 536.8,395.2 537.1,393.7 537.5,392.1 537.8,389.9 538.1,387.1 538.4,383.9 538.7,380.6 539.0,377.4 539.2,374.2 539.5,371.3 539.7,368.5 539.9,365.7 540.1,362.9 540.3,360.2 540.4,357.7 540.6,355.3 540.7,353.2 540.9,351.2 541.0,349.4 541.1,347.9 541.2,346.5 541.3,345.3 541.3,344.4 541.4,343.6 541.4,343.0 541.4,342.5 541.5,342.2 541.5,342.1 541.5,342.0" fill="none" stroke="#9a1df2" stroke-width="1.15" stroke-linejoin="round"/>
<polyline points="431.2,416.6 432.7,416.5 434.2,416.5 435.7,416.4 437.2,416.3 438.6,416.2 440.1,416.2 441.5,416.1 443.0,416.0 444.4,416.0 445.8,415.9 447.2,415.8 448.6,415.8 450.0,415.7 451.3,415.6 452.7,415.6 454.0,415.5 455.3,415.4 456.7,415.4 458.0,415.3 459.3,415.2 460.6,415.2 461.8,415.1 463.1,415.0 464.3,415.0 465.6,414.9 466.8,414.8 468.0,414.8 469.3,414.7 470.5,414.6 471.6,414.6 472.8,414.5 474.0,414.4 475.1,414.3 476.3,414.3 477.4,414.2 478.5,414.1 479.6,414.0 480.7,413.9 481.8,413.9 482.9,413.8 484.0,413.7 485.0,413.6 486.1,413.5 487.1,413.5 488.1,413.4 489.2,413.3 490.2,413.2 491.2,413.2 492.1,413.1 493.1,413.0 494.1,412.9 495.0,412.9 496.0,412.8 496.9,412.7 497.8,412.7 498.7,412.6 499.6,412.5 500.5,412.5 501.4,412.4 502.3,412.4 503.1,412.3 504.0,412.3 504.8,412.2 505.6,412.2 506.4,412.1 507.3,412.1 508.0,412.0 508.8,412.0 509.6,411.9 510.4,411.9 511.1,411.8 511.9,411.8 512.6,411.7 513.3,411.6 514.1,411.6 514.8,411.5 515.5,411.4 516.1,411.4 516.8,411.3 517.5,411.2 518.1,411.2 518.8,411.1 519.4,411.0 520.0,410.9 520.7,410.8 521.3,410.7 521.9,410.6 522.4,410.5 523.0,410.4 523.6,410.3 524.1,410.1 524.7,410.0 525.2,409.8 525.8,409.7 526.3,409.5 526.8,409.3 527.3,409.2 527.8,409.0 528.3,408.8 528.7,408.6 529.2,408.3 529.6,408.1 530.1,407.8 530.5,407.4 531.0,406.9 531.4,406.4 531.8,405.9 532.2,405.3 532.6,404.6 532.9,403.9 533.3,403.2 533.7,402.5 534.0,401.7 534.4,400.8 534.7,399.7 535.0,398.4 535.4,397.0 535.7,395.4 536.0,393.7 536.3,391.9 536.5,390.1 536.8,388.3 537.1,386.4 537.3,384.5 537.6,382.2 537.8,379.5 538.1,376.6 538.3,373.5 538.5,370.4 538.7,367.4 538.9,364.7 539.1,362.2 539.3,359.9 539.5,358.0 539.6,356.4 539.8,355.0 539.9,353.7 540.1,352.5 540.2,351.5 540.3,350.5 540.5,349.6 540.6,348.7 540.7,347.9 540.8,347.2 540.9,346.5 541.0,345.9 541.0,345.4 541.1,344.8 541.2,344.3 541.2,343.9 541.3,343.5 541.3,343.2 541.4,342.9 541.4,342.6 541.4,342.4 541.4,342.3 541.5,342.2 541.5,342.1 541.5,342.0 541.5,342.0" fill="none" stroke="#9a1df2" stroke-width="1.15" stroke-linejoin="round"/>
<path d="M321.84,423.57a1.05,1.05 0 1,0 2.1,0a1.05,1.05 0 1,0 -2.1,0M322.94,423.13a1.05,1.05 0 1,0 2.1,0a1.05,1.05 0 1,0 -2.1,0M325.13,422.20a1.05,1.05 0 1,0 2.1,0a1.05,1.05 0 1,0 -2.1,0M327.31,421.58a1.05,1.05 0 1,0 2.1,0a1.05,1.05 0 1,0 -2.1,0M331.69,421.11a1.05,1.05 0 1,0 2.1,0a1.05,1.05 0 1,0 -2.1,0M336.07,420.81a1.05,1.05 0 1,0 2.1,0a1.05,1.05 0 1,0 -2.1,0M342.63,420.48a1.05,1.05 0 1,0 2.1,0a1.05,1.05 0 1,0 -2.1,0M353.57,419.96a1.05,1.05 0 1,0 2.1,0a1.05,1.05 0 1,0 -2.1,0M364.51,419.54a1.05,1.05 0 1,0 2.1,0a1.05,1.05 0 1,0 -2.1,0M375.45,419.17a1.05,1.05 0 1,0 2.1,0a1.05,1.05 0 1,0 -2.1,0M386.39,418.80a1.05,1.05 0 1,0 2.1,0a1.05,1.05 0 1,0 -2.1,0M397.33,418.36a1.05,1.05 0 1,0 2.1,0a1.05,1.05 0 1,0 -2.1,0M408.27,417.80a1.05,1.05 0 1,0 2.1,0a1.05,1.05 0 1,0 -2.1,0M419.21,417.14a1.05,1.05 0 1,0 2.1,0a1.05,1.05 0 1,0 -2.1,0M430.15,416.61a1.05,1.05 0 1,0 2.1,0a1.05,1.05 0 1,0 -2.1,0M441.09,416.26a1.05,1.05 0 1,0 2.1,0a1.05,1.05 0 1,0 -2.1,0M452.03,415.99a1.05,1.05 0 1,0 2.1,0a1.05,1.05 0 1,0 -2.1,0M462.97,415.71a1.05,1.05 0 1,0 2.1,0a1.05,1.05 0 1,0 -2.1,0M473.91,415.35a1.05,1.05 0 1,0 2.1,0a1.05,1.05 0 1,0 -2.1,0M484.85,414.93a1.05,1.05 0 1,0 2.1,0a1.05,1.05 0 1,0 -2.1,0M495.79,414.40a1.05,1.05 0 1,0 2.1,0a1.05,1.05 0 1,0 -2.1,0M506.73,413.67a1.05,1.05 0 1,0 2.1,0a1.05,1.05 0 1,0 -2.1,0M517.67,412.74a1.05,1.05 0 1,0 2.1,0a1.05,1.05 0 1,0 -2.1,0M524.23,412.22a1.05,1.05 0 1,0 2.1,0a1.05,1.05 0 1,0 -2.1,0M528.61,411.49a1.05,1.05 0 1,0 2.1,0a1.05,1.05 0 1,0 -2.1,0M532.99,404.42a1.05,1.05 0 1,0 2.1,0a1.05,1.05 0 1,0 -2.1,0M535.17,397.27a1.05,1.05 0 1,0 2.1,0a1.05,1.05 0 1,0 -2.1,0M537.36,383.90a1.05,1.05 0 1,0 2.1,0a1.05,1.05 0 1,0 -2.1,0M538.46,370.75a1.05,1.05 0 1,0 2.1,0a1.05,1.05 0 1,0 -2.1,0M538.46,357.49a1.05,1.05 0 1,0 2.1,0a1.05,1.05 0 1,0 -2.1,0M537.36,371.58a1.05,1.05 0 1,0 2.1,0a1.05,1.05 0 1,0 -2.1,0M535.17,392.12a1.05,1.05 0 1,0 2.1,0a1.05,1.05 0 1,0 -2.1,0M532.99,401.69a1.05,1.05 0 1,0 2.1,0a1.05,1.05 0 1,0 -2.1,0M530.80,405.77a1.05,1.05 0 1,0 2.1,0a1.05,1.05 0 1,0 -2.1,0M528.61,408.07a1.05,1.05 0 1,0 2.1,0a1.05,1.05 0 1,0 -2.1,0M526.42,409.08a1.05,1.05 0 1,0 2.1,0a1.05,1.05 0 1,0 -2.1,0M524.23,409.82a1.05,1.05 0 1,0 2.1,0a1.05,1.05 0 1,0 -2.1,0M522.05,410.37a1.05,1.05 0 1,0 2.1,0a1.05,1.05 0 1,0 -2.1,0M519.86,410.77a1.05,1.05 0 1,0 2.1,0a1.05,1.05 0 1,0 -2.1,0M517.67,411.08a1.05,1.05 0 1,0 2.1,0a1.05,1.05 0 1,0 -2.1,0M513.29,411.56a1.05,1.05 0 1,0 2.1,0a1.05,1.05 0 1,0 -2.1,0M508.92,411.91a1.05,1.05 0 1,0 2.1,0a1.05,1.05 0 1,0 -2.1,0M504.54,412.19a1.05,1.05 0 1,0 2.1,0a1.05,1.05 0 1,0 -2.1,0M500.17,412.45a1.05,1.05 0 1,0 2.1,0a1.05,1.05 0 1,0 -2.1,0M495.79,412.74a1.05,1.05 0 1,0 2.1,0a1.05,1.05 0 1,0 -2.1,0M484.85,413.56a1.05,1.05 0 1,0 2.1,0a1.05,1.05 0 1,0 -2.1,0M473.91,414.34a1.05,1.05 0 1,0 2.1,0a1.05,1.05 0 1,0 -2.1,0M462.97,414.99a1.05,1.05 0 1,0 2.1,0a1.05,1.05 0 1,0 -2.1,0M452.03,415.55a1.05,1.05 0 1,0 2.1,0a1.05,1.05 0 1,0 -2.1,0M441.09,416.08a1.05,1.05 0 1,0 2.1,0a1.05,1.05 0 1,0 -2.1,0M430.15,416.61a1.05,1.05 0 1,0 2.1,0a1.05,1.05 0 1,0 -2.1,0" fill="#9a1df2"/>
<line x1="321.8" y1="367.3" x2="343.5" y2="367.3" stroke="#f5188a" stroke-width="1.4"/>
<circle cx="333.4" cy="367.3" r="1.2" fill="#f5188a"/>
<text x="346.20" y="370.40" font-size="8.6" fill="#080808" text-anchor="start" textLength="50.6" lengthAdjust="spacingAndGlyphs" stroke="#080808" stroke-width="0.19">Ni/CP_NaOH</text>
<line x1="321.8" y1="379.0" x2="343.5" y2="379.0" stroke="#9c0f17" stroke-width="1.4"/>
<circle cx="333.4" cy="379.0" r="1.2" fill="#9c0f17"/>
<text x="346.20" y="382.10" font-size="8.6" fill="#080808" text-anchor="start" textLength="69.8" lengthAdjust="spacingAndGlyphs" stroke="#080808" stroke-width="0.19">Ni/HT_NaOH_100</text>
<line x1="321.8" y1="390.3" x2="343.5" y2="390.3" stroke="#fb8417" stroke-width="1.4"/>
<circle cx="333.4" cy="390.3" r="1.2" fill="#fb8417"/>
<text x="346.20" y="393.40" font-size="8.6" fill="#080808" text-anchor="start" textLength="69.8" lengthAdjust="spacingAndGlyphs" stroke="#080808" stroke-width="0.19">Ni/HT_NaOH_180</text>
<line x1="423.0" y1="368.4" x2="443.0" y2="368.4" stroke="#1f8a80" stroke-width="1.4"/>
<circle cx="433.0" cy="368.4" r="1.2" fill="#1f8a80"/>
<text x="444.80" y="371.50" font-size="8.6" fill="#080808" text-anchor="start" textLength="46.5" lengthAdjust="spacingAndGlyphs" stroke="#080808" stroke-width="0.19">Ni/CP_NH3</text>
<line x1="423.0" y1="379.6" x2="443.0" y2="379.6" stroke="#1c1cf5" stroke-width="1.4"/>
<circle cx="433.0" cy="379.6" r="1.2" fill="#1c1cf5"/>
<text x="444.80" y="382.70" font-size="8.6" fill="#080808" text-anchor="start" textLength="62.2" lengthAdjust="spacingAndGlyphs" stroke="#080808" stroke-width="0.19">Ni/HT_NH3_100</text>
<line x1="423.0" y1="389.8" x2="443.0" y2="389.8" stroke="#9a1df2" stroke-width="1.4"/>
<circle cx="433.0" cy="389.8" r="1.2" fill="#9a1df2"/>
<text x="444.80" y="392.90" font-size="8.6" fill="#080808" text-anchor="start" textLength="62.2" lengthAdjust="spacingAndGlyphs" stroke="#080808" stroke-width="0.19">Ni/HT_NH3_180</text>
<text x="329.80" y="268.50" font-size="14" fill="#080808" text-anchor="start"  stroke="#080808" stroke-width="0.31">(d)</text>
<text x="0" y="0" font-size="12.6" fill="#080808" text-anchor="middle" transform="translate(295.9,344.2) rotate(-90)" stroke="#080808" stroke-width="0.28">Adsorbed Volume (cm<tspan font-size="7.8" dy="-5">3</tspan><tspan dy="5">/g), STP</tspan></text>
<text x="369.0" y="452.6" font-size="12" fill="#080808" stroke="#080808" stroke-width="0.26">Relative Pressure (P/P<tspan font-size="7.5" dy="3">0</tspan><tspan dy="-3">)</tspan></text>
</svg>
</body></html>
